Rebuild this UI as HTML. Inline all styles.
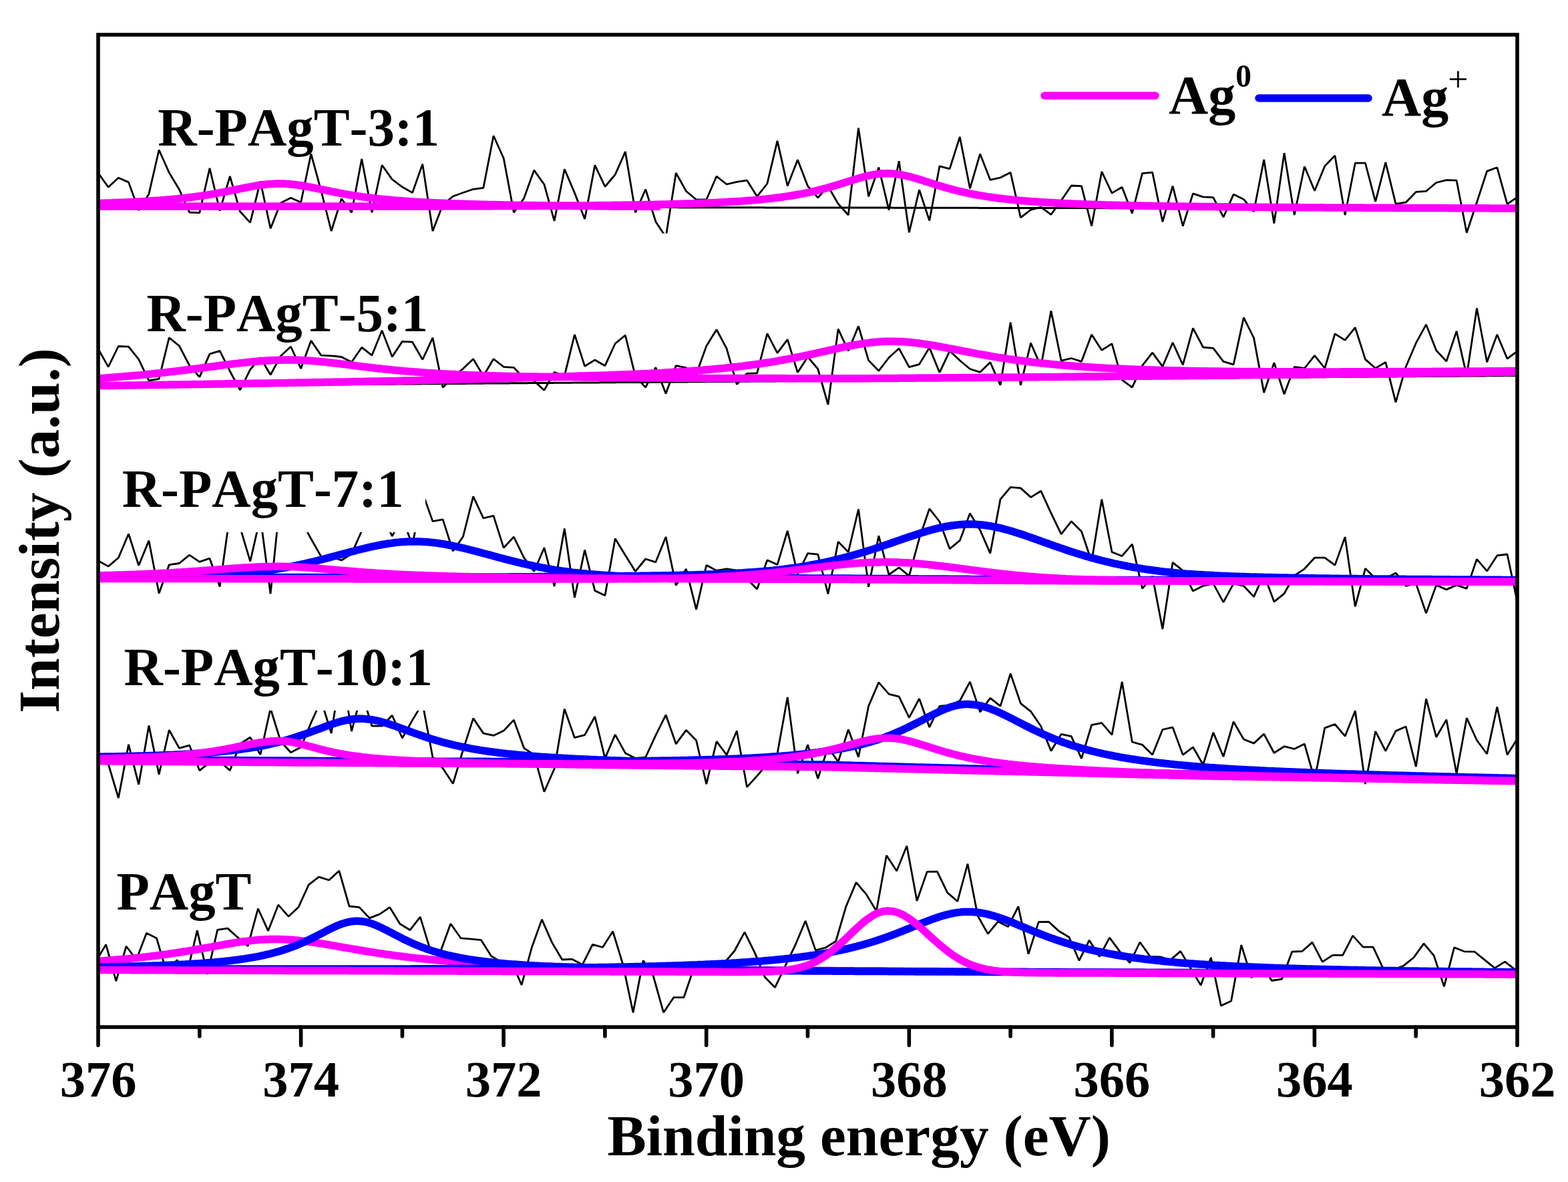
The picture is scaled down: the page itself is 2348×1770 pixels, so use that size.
<!DOCTYPE html>
<html><head><meta charset="utf-8"><title>XPS Ag 3d</title>
<style>html,body{margin:0;padding:0;background:#fff;width:2348px;height:1770px;overflow:hidden}svg{display:block}</style>
</head><body>
<svg width="2348" height="1770" viewBox="0 0 2348 1770">
<rect x="0" y="0" width="2348" height="1770" fill="#fff"/>
<defs><clipPath id="pc"><rect x="147" y="52" width="2125" height="1486"/></clipPath></defs>
<g clip-path="url(#pc)">
<clipPath id="c1"><rect x="147" y="52" width="2125" height="297.6"/></clipPath>
<path d="M147.00,259.0 162.18,280.3 177.36,266.3 192.54,272.9 207.72,315.0 222.90,290.6 238.08,224.5 253.26,258.5 268.44,283.8 283.62,318.0 298.80,318.7 313.98,251.9 329.16,315.7 344.34,264.0 359.52,316.7 374.70,333.4 389.88,271.4 405.06,342.3 420.24,304.0 435.42,296.2 450.60,303.0 465.78,230.4 480.96,286.0 496.14,346.0 511.32,297.5 526.50,318.2 541.68,238.0 556.86,318.2 572.04,247.3 587.22,268.6 602.40,280.0 617.58,288.6 632.76,245.6 647.94,346.0 663.12,306.6 678.30,294.0 693.48,288.5 708.66,283.3 723.84,281.3 739.02,203.3 754.20,237.0 769.38,318.2 784.56,297.0 799.74,254.9 814.92,276.2 830.10,330.9 845.28,253.2 860.46,288.9 875.64,327.9 890.82,247.3 906.00,279.5 921.18,261.5 936.36,227.1 951.54,318.2 966.72,283.5 981.90,331.9 997.08,355.0 1012.26,259.0 1027.44,286.3 1042.62,299.0 1057.80,299.0 1072.98,264.0 1088.16,276.0 1103.34,272.4 1118.52,270.1 1133.70,294.2 1148.88,275.0 1164.06,210.9 1179.24,278.5 1194.42,239.2 1209.60,278.7 1224.78,296.0 1239.96,279.0 1255.14,305.3 1270.32,322.0 1285.50,191.6 1300.68,294.2 1315.86,250.6 1331.04,314.4 1346.22,241.3 1361.40,348.1 1376.58,284.3 1391.76,330.4 1406.94,248.8 1422.12,252.9 1437.30,205.0 1452.48,282.3 1467.66,230.4 1482.84,269.4 1498.02,266.0 1513.20,258.2 1528.38,325.8 1543.56,314.2 1558.74,310.1 1573.92,321.3 1589.10,300.3 1604.28,278.0 1619.46,278.7 1634.64,338.5 1649.82,257.0 1665.00,289.1 1680.18,280.2 1695.36,319.5 1710.54,259.7 1725.72,258.2 1740.90,332.2 1756.08,278.5 1771.26,338.5 1786.44,289.9 1801.62,294.8 1816.80,295.6 1831.98,325.2 1847.16,291.1 1862.34,298.5 1877.52,316.8 1892.70,239.0 1907.88,334.5 1923.06,229.1 1938.24,321.9 1953.42,249.2 1968.60,285.8 1983.78,248.7 1998.96,233.1 2014.14,321.9 2029.32,244.2 2044.50,244.2 2059.68,302.0 2074.86,243.0 2090.04,305.3 2105.22,303.0 2120.40,287.4 2135.58,286.3 2150.76,273.5 2165.94,269.6 2181.12,270.2 2196.30,348.5 2211.48,303.0 2226.66,256.4 2241.84,250.8 2257.02,305.7 2272.20,295.2" clip-path="url(#c1)" fill="none" stroke="#000" stroke-width="2.8" stroke-linejoin="bevel"/>
<path d="M147.00,522.5 162.18,549.4 177.36,518.5 192.54,519.2 207.72,538.2 222.90,570.0 238.08,567.3 253.26,505.6 268.44,518.0 283.62,547.1 298.80,564.6 313.98,530.1 329.16,525.3 344.34,556.0 359.52,584.0 374.70,553.4 389.88,535.4 405.06,561.3 420.24,533.2 435.42,519.0 450.60,551.9 465.78,510.1 480.96,532.2 496.14,532.9 511.32,534.4 526.50,542.3 541.68,520.2 556.86,532.2 572.04,494.9 587.22,534.2 602.40,511.4 617.58,512.2 632.76,538.5 647.94,505.8 663.12,580.3 678.30,564.8 693.48,552.0 708.66,537.5 723.84,563.0 739.02,537.5 754.20,549.4 769.38,550.4 784.56,566.4 799.74,570.2 814.92,584.4 830.10,557.3 845.28,562.9 860.46,501.0 875.64,548.4 890.82,539.0 906.00,547.7 921.18,514.5 936.36,502.0 951.54,563.9 966.72,580.1 981.90,550.2 997.08,589.4 1012.26,547.6 1027.44,550.7 1042.62,560.3 1057.80,518.3 1072.98,493.5 1088.16,522.1 1103.34,575.5 1118.52,559.3 1133.70,558.8 1148.88,499.5 1164.06,528.7 1179.24,508.4 1194.42,557.8 1209.60,534.5 1224.78,552.5 1239.96,605.9 1255.14,492.7 1270.32,525.4 1285.50,488.4 1300.68,539.8 1315.86,555.3 1331.04,535.5 1346.22,521.8 1361.40,549.7 1376.58,545.6 1391.76,520.6 1406.94,557.8 1422.12,525.6 1437.30,539.8 1452.48,552.5 1467.66,557.3 1482.84,542.6 1498.02,576.8 1513.20,482.6 1528.38,576.8 1543.56,513.7 1558.74,548.9 1573.92,465.6 1589.10,540.1 1604.28,536.5 1619.46,541.3 1634.64,501.0 1649.82,524.4 1665.00,514.7 1680.18,568.9 1695.36,580.1 1710.54,547.4 1725.72,528.2 1740.90,548.9 1756.08,513.0 1771.26,546.4 1786.44,491.4 1801.62,520.0 1816.80,521.4 1831.98,541.4 1847.16,545.9 1862.34,475.5 1877.52,506.0 1892.70,588.0 1907.88,543.1 1923.06,590.2 1938.24,549.5 1953.42,551.5 1968.60,532.4 1983.78,551.5 1998.96,499.9 2014.14,509.4 2029.32,490.3 2044.50,538.1 2059.68,551.5 2074.86,542.4 2090.04,602.4 2105.22,549.2 2120.40,513.7 2135.58,485.9 2150.76,524.8 2165.94,541.1 2181.12,495.9 2196.30,562.6 2211.48,461.5 2226.66,542.2 2241.84,501.0 2257.02,537.1 2272.20,525.9" fill="none" stroke="#000" stroke-width="2.8" stroke-linejoin="bevel"/>
<path d="M147.00,839.6 162.18,848.1 177.36,835.2 192.54,799.5 207.72,846.8 222.90,809.6 238.08,888.6 253.26,845.8 268.44,843.5 283.62,831.1 298.80,841.3 313.98,836.2 329.16,878.5 344.34,770.6 359.52,789.7 374.70,840.7 389.88,774.4 405.06,889.2 420.24,743.0 435.42,760.0 450.60,779.0 465.78,806.8 480.96,833.6 496.14,834.0 511.32,839.0 526.50,829.4 541.68,795.0 556.86,770.0 572.04,770.0 587.22,802.8 602.40,776.0 617.58,816.0 632.76,738.0 647.94,780.6 663.12,777.9 678.30,825.3 693.48,803.5 708.66,743.3 723.84,776.0 739.02,772.4 754.20,820.3 769.38,804.0 784.56,835.2 799.74,855.7 814.92,820.2 830.10,878.0 845.28,791.4 860.46,895.0 875.64,823.5 890.82,884.6 906.00,891.7 921.18,806.6 936.36,831.4 951.54,855.7 966.72,837.0 981.90,841.8 997.08,804.0 1012.26,876.5 1027.44,852.1 1042.62,912.7 1057.80,846.3 1072.98,854.4 1088.16,851.9 1103.34,854.2 1118.52,866.8 1133.70,882.3 1148.88,838.7 1164.06,845.6 1179.24,794.9 1194.42,859.5 1209.60,828.6 1224.78,830.1 1239.96,889.4 1255.14,811.1 1270.32,826.8 1285.50,762.5 1300.68,878.7 1315.86,802.3 1331.04,860.5 1346.22,849.9 1361.40,862.3 1376.58,806.3 1391.76,761.8 1406.94,781.0 1422.12,821.8 1437.30,809.4 1452.48,768.8 1467.66,793.7 1482.84,828.6 1498.02,747.6 1513.20,729.6 1528.38,730.9 1543.56,744.6 1558.74,735.2 1573.92,768.4 1589.10,799.8 1604.28,780.7 1619.46,795.7 1634.64,840.8 1649.82,747.8 1665.00,826.6 1680.18,832.7 1695.36,814.9 1710.54,881.3 1725.72,863.0 1740.90,942.0 1756.08,842.3 1771.26,854.4 1786.44,885.1 1801.62,877.3 1816.80,873.9 1831.98,901.8 1847.16,873.9 1862.34,877.3 1877.52,893.6 1892.70,860.1 1907.88,901.1 1923.06,888.8 1938.24,861.8 1953.42,851.8 1968.60,835.2 1983.78,835.1 1998.96,846.4 2014.14,804.1 2029.32,908.4 2044.50,851.3 2059.68,866.3 2074.86,866.2 2090.04,857.9 2105.22,877.4 2120.40,873.9 2135.58,918.4 2150.76,876.1 2165.94,882.9 2181.12,876.1 2196.30,881.4 2211.48,837.3 2226.66,855.2 2241.84,831.9 2257.02,830.0 2272.20,901.7" fill="none" stroke="#000" stroke-width="2.8" stroke-linejoin="bevel"/>
<path d="M147.00,1129.0 162.18,1144.0 177.36,1195.0 192.54,1114.8 207.72,1174.8 222.90,1086.4 238.08,1159.6 253.26,1093.3 268.44,1120.4 283.62,1116.1 298.80,1153.8 313.98,1141.6 329.16,1140.1 344.34,1153.8 359.52,1113.8 374.70,1104.2 389.88,1130.0 405.06,1061.0 420.24,1110.0 435.42,1126.7 450.60,1118.9 465.78,1082.2 480.96,1049.0 496.14,1098.1 511.32,1001.0 526.50,1095.1 541.68,1037.0 556.86,1087.2 572.04,1087.2 587.22,1071.3 602.40,1105.2 617.58,1078.4 632.76,1053.0 647.94,1134.0 663.12,1150.5 678.30,1173.6 693.48,1123.0 708.66,1075.6 723.84,1098.1 739.02,1101.4 754.20,1094.3 769.38,1078.1 784.56,1120.1 799.74,1130.3 814.92,1185.7 830.10,1151.3 845.28,1061.6 860.46,1104.7 875.64,1100.6 890.82,1073.0 906.00,1135.6 921.18,1100.1 936.36,1127.7 951.54,1135.6 966.72,1134.0 981.90,1101.1 997.08,1070.5 1012.26,1114.1 1027.44,1093.3 1042.62,1108.7 1057.80,1174.1 1072.98,1110.2 1088.16,1130.5 1103.34,1094.5 1118.52,1178.6 1133.70,1161.9 1148.88,1144.2 1164.06,1128.5 1179.24,1043.9 1194.42,1158.4 1209.60,1115.3 1224.78,1166.0 1239.96,1118.7 1255.14,1140.9 1270.32,1092.3 1285.50,1133.8 1300.68,1057.1 1315.86,1021.9 1331.04,1039.4 1346.22,1043.2 1361.40,1074.6 1376.58,1046.2 1391.76,1089.0 1406.94,1057.3 1422.12,1056.0 1437.30,1049.5 1452.48,1020.9 1467.66,1066.2 1482.84,1045.4 1498.02,1057.4 1513.20,1008.7 1528.38,1053.3 1543.56,1065.4 1558.74,1087.5 1573.92,1124.4 1589.10,1099.4 1604.28,1102.7 1619.46,1135.8 1634.64,1085.7 1649.82,1082.6 1665.00,1100.4 1680.18,1020.9 1695.36,1111.0 1710.54,1115.3 1725.72,1130.3 1740.90,1092.5 1756.08,1089.2 1771.26,1130.3 1786.44,1118.8 1801.62,1145.2 1816.80,1096.9 1831.98,1133.0 1847.16,1080.7 1862.34,1107.0 1877.52,1113.1 1892.70,1099.1 1907.88,1127.5 1923.06,1117.7 1938.24,1121.5 1953.42,1114.0 1968.60,1167.3 1983.78,1090.1 1998.96,1084.5 2014.14,1102.4 2029.32,1064.5 2044.50,1174.0 2059.68,1095.1 2074.86,1124.6 2090.04,1094.6 2105.22,1088.0 2120.40,1148.1 2135.58,1046.4 2150.76,1103.8 2165.94,1077.8 2181.12,1158.5 2196.30,1075.2 2211.48,1108.5 2226.66,1129.0 2241.84,1058.6 2257.02,1130.3 2272.20,1106.3" fill="none" stroke="#000" stroke-width="2.8" stroke-linejoin="bevel"/>
<path d="M143.50,1440.0 158.68,1414.4 173.86,1469.1 189.04,1417.0 204.22,1437.0 219.40,1397.2 234.58,1405.1 249.76,1457.2 264.94,1437.7 280.12,1457.2 295.30,1393.4 310.48,1459.0 325.66,1392.4 340.84,1390.1 356.02,1403.8 371.20,1416.7 386.38,1360.5 401.56,1393.9 416.74,1354.9 431.92,1372.4 447.10,1358.2 462.28,1324.8 477.46,1313.2 492.64,1318.0 507.82,1304.0 523.00,1357.0 538.18,1358.7 553.36,1374.9 568.54,1368.9 583.72,1358.7 598.90,1383.5 614.08,1392.7 629.26,1373.2 644.44,1422.8 659.62,1425.1 674.80,1383.3 689.98,1404.8 705.16,1406.1 720.34,1407.6 735.52,1431.6 750.70,1440.8 765.88,1439.7 781.06,1475.0 796.24,1419.0 811.42,1376.9 826.60,1411.4 841.78,1437.0 856.96,1436.4 872.14,1444.6 887.32,1414.4 902.50,1418.5 917.68,1394.7 932.86,1444.3 948.04,1516.2 963.22,1438.2 978.40,1462.0 993.58,1516.2 1008.76,1493.7 1023.94,1493.7 1039.12,1449.4 1054.30,1449.4 1069.48,1446.8 1084.66,1441.8 1099.84,1424.0 1115.02,1395.9 1130.20,1426.6 1145.38,1463.3 1160.56,1478.7 1175.74,1446.8 1190.92,1415.2 1206.10,1379.0 1221.28,1423.0 1236.46,1419.0 1251.64,1409.5 1266.82,1357.6 1282.00,1321.4 1297.18,1339.1 1312.36,1364.2 1327.54,1280.9 1342.72,1304.2 1357.90,1266.7 1373.08,1349.0 1388.26,1305.4 1403.44,1305.2 1418.62,1336.6 1433.80,1349.8 1448.98,1293.5 1464.16,1371.5 1479.34,1398.4 1494.52,1380.1 1509.70,1387.7 1524.88,1357.3 1540.06,1428.7 1555.24,1380.6 1570.42,1380.4 1585.60,1394.3 1600.78,1403.2 1615.96,1438.4 1631.14,1408.0 1646.32,1432.5 1661.50,1404.2 1676.68,1424.7 1691.86,1441.9 1707.04,1411.0 1722.22,1432.3 1737.40,1432.8 1752.58,1437.6 1767.76,1424.4 1782.94,1450.0 1798.12,1475.4 1813.30,1433.9 1828.48,1506.1 1843.66,1498.9 1858.84,1415.1 1874.02,1464.0 1889.20,1444.6 1904.38,1468.5 1919.56,1466.2 1934.74,1425.2 1949.92,1424.5 1965.10,1411.1 1980.28,1440.3 1995.46,1430.3 2010.64,1430.3 2025.82,1401.1 2041.00,1418.1 2056.18,1418.1 2071.36,1450.6 2086.54,1451.9 2101.72,1446.2 2116.90,1434.0 2132.08,1412.9 2147.26,1431.1 2162.44,1477.3 2177.62,1418.9 2192.80,1424.8 2207.98,1425.1 2223.16,1437.4 2238.34,1449.6 2253.52,1440.1 2268.70,1451.8" fill="none" stroke="#000" stroke-width="2.8" stroke-linejoin="bevel"/>
<rect x="149" y="640" width="488" height="157" fill="#fff"/>
<rect x="149" y="905" width="531" height="159" fill="#fff"/>
<path d="M146.0,309.3 149.0,309.3 152.0,309.3 155.0,309.3 158.0,309.3 161.0,309.3 164.0,309.3 167.0,309.3 170.0,309.3 173.0,309.3 176.0,309.3 179.0,309.4 182.0,309.4 185.0,309.4 188.0,309.4 191.0,309.4 194.0,309.4 197.0,309.4 200.1,309.4 203.1,309.4 206.1,309.4 209.1,309.4 212.1,309.4 215.1,309.4 218.1,309.4 221.1,309.4 224.1,309.4 227.1,309.4 230.1,309.4 233.1,309.4 236.1,309.4 239.1,309.4 242.1,309.4 245.1,309.5 248.1,309.5 251.1,309.5 254.1,309.5 257.1,309.5 260.1,309.5 263.1,309.5 266.1,309.5 269.1,309.5 272.1,309.5 275.1,309.5 278.1,309.5 281.1,309.5 284.1,309.5 287.1,309.5 290.1,309.5 293.1,309.5 296.1,309.5 299.1,309.5 302.1,309.5 305.1,309.5 308.2,309.6 311.2,309.6 314.2,309.6 317.2,309.6 320.2,309.6 323.2,309.6 326.2,309.6 329.2,309.6 332.2,309.6 335.2,309.6 338.2,309.6 341.2,309.6 344.2,309.6 347.2,309.6 350.2,309.6 353.2,309.6 356.2,309.6 359.2,309.6 362.2,309.6 365.2,309.6 368.2,309.6 371.2,309.6 374.2,309.7 377.2,309.7 380.2,309.7 383.2,309.7 386.2,309.7 389.2,309.7 392.2,309.7 395.2,309.7 398.2,309.7 401.2,309.7 404.2,309.7 407.2,309.7 410.2,309.7 413.3,309.7 416.3,309.7 419.3,309.7 422.3,309.7 425.3,309.7 428.3,309.7 431.3,309.7 434.3,309.7 437.3,309.8 440.3,309.8 443.3,309.8 446.3,309.8 449.3,309.8 452.3,309.8 455.3,309.8 458.3,309.8 461.3,309.8 464.3,309.8 467.3,309.8 470.3,309.8 473.3,309.8 476.3,309.8 479.3,309.8 482.3,309.8 485.3,309.8 488.3,309.8 491.3,309.8 494.3,309.8 497.3,309.8 500.3,309.9 503.3,309.9 506.3,309.9 509.3,309.9 512.3,309.9 515.3,309.9 518.4,309.9 521.4,309.9 524.4,309.9 527.4,309.9 530.4,309.9 533.4,309.9 536.4,309.9 539.4,309.9 542.4,309.9 545.4,309.9 548.4,309.9 551.4,309.9 554.4,309.9 557.4,309.9 560.4,309.9 563.4,309.9 566.4,310.0 569.4,310.0 572.4,310.0 575.4,310.0 578.4,310.0 581.4,310.0 584.4,310.0 587.4,310.0 590.4,310.0 593.4,310.0 596.4,310.0 599.4,310.0 602.4,310.0 605.4,310.0 608.4,310.0 611.4,310.0 614.4,310.0 617.4,310.0 620.4,310.0 623.4,310.0 626.5,310.0 629.5,310.1 632.5,310.1 635.5,310.1 638.5,310.1 641.5,310.1 644.5,310.1 647.5,310.1 650.5,310.1 653.5,310.1 656.5,310.1 659.5,310.1 662.5,310.1 665.5,310.1 668.5,310.1 671.5,310.1 674.5,310.1 677.5,310.1 680.5,310.1 683.5,310.1 686.5,310.1 689.5,310.1 692.5,310.1 695.5,310.2 698.5,310.2 701.5,310.2 704.5,310.2 707.5,310.2 710.5,310.2 713.5,310.2 716.5,310.2 719.5,310.2 722.5,310.2 725.5,310.2 728.5,310.2 731.6,310.2 734.6,310.2 737.6,310.2 740.6,310.2 743.6,310.2 746.6,310.2 749.6,310.2 752.6,310.2 755.6,310.2 758.6,310.3 761.6,310.3 764.6,310.3 767.6,310.3 770.6,310.3 773.6,310.3 776.6,310.3 779.6,310.3 782.6,310.3 785.6,310.3 788.6,310.3 791.6,310.3 794.6,310.3 797.6,310.3 800.6,310.3 803.6,310.3 806.6,310.3 809.6,310.3 812.6,310.3 815.6,310.3 818.6,310.3 821.6,310.3 824.6,310.4 827.6,310.4 830.6,310.4 833.6,310.4 836.6,310.4 839.7,310.4 842.7,310.4 845.7,310.4 848.7,310.4 851.7,310.4 854.7,310.4 857.7,310.4 860.7,310.4 863.7,310.4 866.7,310.4 869.7,310.4 872.7,310.4 875.7,310.4 878.7,310.4 881.7,310.4 884.7,310.4 887.7,310.5 890.7,310.5 893.7,310.5 896.7,310.5 899.7,310.5 902.7,310.5 905.7,310.5 908.7,310.5 911.7,310.5 914.7,310.5 917.7,310.5 920.7,310.5 923.7,310.5 926.7,310.5 929.7,310.5 932.7,310.5 935.7,310.5 938.7,310.5 941.7,310.5 944.8,310.5 947.8,310.5 950.8,310.5 953.8,310.6 956.8,310.6 959.8,310.6 962.8,310.6 965.8,310.6 968.8,310.6 971.8,310.6 974.8,310.6 977.8,310.6 980.8,310.6 983.8,310.6 986.8,310.6 989.8,310.6 992.8,310.6 995.8,310.6 998.8,310.6 1001.8,310.6 1004.8,310.6 1007.8,310.6 1010.8,310.6 1013.8,310.6 1016.8,310.7 1019.8,310.7 1022.8,310.7 1025.8,310.7 1028.8,310.7 1031.8,310.7 1034.8,310.7 1037.8,310.7 1040.8,310.7 1043.8,310.7 1046.8,310.7 1049.9,310.7 1052.9,310.7 1055.9,310.7 1058.9,310.7 1061.9,310.7 1064.9,310.7 1067.9,310.7 1070.9,310.7 1073.9,310.7 1076.9,310.7 1079.9,310.7 1082.9,310.8 1085.9,310.8 1088.9,310.8 1091.9,310.8 1094.9,310.8 1097.9,310.8 1100.9,310.8 1103.9,310.8 1106.9,310.8 1109.9,310.8 1112.9,310.8 1115.9,310.8 1118.9,310.8 1121.9,310.8 1124.9,310.8 1127.9,310.8 1130.9,310.8 1133.9,310.8 1136.9,310.8 1139.9,310.8 1142.9,310.8 1145.9,310.9 1148.9,310.9 1151.9,310.9 1154.9,310.9 1158.0,310.9 1161.0,310.9 1164.0,310.9 1167.0,310.9 1170.0,310.9 1173.0,310.9 1176.0,310.9 1179.0,310.9 1182.0,310.9 1185.0,310.9 1188.0,310.9 1191.0,310.9 1194.0,310.9 1197.0,310.9 1200.0,310.9 1203.0,310.9 1206.0,310.9 1209.0,311.0 1212.0,311.0 1215.0,311.0 1218.0,311.0 1221.0,311.0 1224.0,311.0 1227.0,311.0 1230.0,311.0 1233.0,311.0 1236.0,311.0 1239.0,311.0 1242.0,311.0 1245.0,311.0 1248.0,311.0 1251.0,311.0 1254.0,311.0 1257.0,311.0 1260.0,311.0 1263.1,311.0 1266.1,311.0 1269.1,311.0 1272.1,311.0 1275.1,311.1 1278.1,311.1 1281.1,311.1 1284.1,311.1 1287.1,311.1 1290.1,311.1 1293.1,311.1 1296.1,311.1 1299.1,311.1 1302.1,311.1 1305.1,311.1 1308.1,311.1 1311.1,311.1 1314.1,311.1 1317.1,311.1 1320.1,311.1 1323.1,311.1 1326.1,311.1 1329.1,311.1 1332.1,311.1 1335.1,311.1 1338.1,311.2 1341.1,311.2 1344.1,311.2 1347.1,311.2 1350.1,311.2 1353.1,311.2 1356.1,311.2 1359.1,311.2 1362.1,311.2 1365.1,311.2 1368.1,311.2 1371.2,311.2 1374.2,311.2 1377.2,311.2 1380.2,311.2 1383.2,311.2 1386.2,311.2 1389.2,311.2 1392.2,311.2 1395.2,311.2 1398.2,311.2 1401.2,311.2 1404.2,311.3 1407.2,311.3 1410.2,311.3 1413.2,311.3 1416.2,311.3 1419.2,311.3 1422.2,311.3 1425.2,311.3 1428.2,311.3 1431.2,311.3 1434.2,311.3 1437.2,311.3 1440.2,311.3 1443.2,311.3 1446.2,311.3 1449.2,311.3 1452.2,311.3 1455.2,311.3 1458.2,311.3 1461.2,311.3 1464.2,311.3 1467.2,311.4 1470.2,311.4 1473.2,311.4 1476.3,311.4 1479.3,311.4 1482.3,311.4 1485.3,311.4 1488.3,311.4 1491.3,311.4 1494.3,311.4 1497.3,311.4 1500.3,311.4 1503.3,311.4 1506.3,311.4 1509.3,311.4 1512.3,311.4 1515.3,311.4 1518.3,311.4 1521.3,311.4 1524.3,311.4 1527.3,311.4 1530.3,311.4 1533.3,311.5 1536.3,311.5 1539.3,311.5 1542.3,311.5 1545.3,311.5 1548.3,311.5 1551.3,311.5 1554.3,311.5 1557.3,311.5 1560.3,311.5 1563.3,311.5 1566.3,311.5 1569.3,311.5 1572.3,311.5 1575.3,311.5 1578.3,311.5 1581.4,311.5 1584.4,311.5 1587.4,311.5 1590.4,311.5 1593.4,311.5 1596.4,311.6 1599.4,311.6 1602.4,311.6 1605.4,311.6 1608.4,311.6 1611.4,311.6 1614.4,311.6 1617.4,311.6 1620.4,311.6 1623.4,311.6 1626.4,311.6 1629.4,311.6 1632.4,311.6 1635.4,311.6 1638.4,311.6 1641.4,311.6 1644.4,311.6 1647.4,311.6 1650.4,311.6 1653.4,311.6 1656.4,311.6 1659.4,311.6 1662.4,311.7 1665.4,311.7 1668.4,311.7 1671.4,311.7 1674.4,311.7 1677.4,311.7 1680.4,311.7 1683.4,311.7 1686.4,311.7 1689.5,311.7 1692.5,311.7 1695.5,311.7 1698.5,311.7 1701.5,311.7 1704.5,311.7 1707.5,311.7 1710.5,311.7 1713.5,311.7 1716.5,311.7 1719.5,311.7 1722.5,311.7 1725.5,311.8 1728.5,311.8 1731.5,311.8 1734.5,311.8 1737.5,311.8 1740.5,311.8 1743.5,311.8 1746.5,311.8 1749.5,311.8 1752.5,311.8 1755.5,311.8 1758.5,311.8 1761.5,311.8 1764.5,311.8 1767.5,311.8 1770.5,311.8 1773.5,311.8 1776.5,311.8 1779.5,311.8 1782.5,311.8 1785.5,311.8 1788.5,311.8 1791.5,311.9 1794.6,311.9 1797.6,311.9 1800.6,311.9 1803.6,311.9 1806.6,311.9 1809.6,311.9 1812.6,311.9 1815.6,311.9 1818.6,311.9 1821.6,311.9 1824.6,311.9 1827.6,311.9 1830.6,311.9 1833.6,311.9 1836.6,311.9 1839.6,311.9 1842.6,311.9 1845.6,311.9 1848.6,311.9 1851.6,311.9 1854.6,312.0 1857.6,312.0 1860.6,312.0 1863.6,312.0 1866.6,312.0 1869.6,312.0 1872.6,312.0 1875.6,312.0 1878.6,312.0 1881.6,312.0 1884.6,312.0 1887.6,312.0 1890.6,312.0 1893.6,312.0 1896.6,312.0 1899.6,312.0 1902.7,312.0 1905.7,312.0 1908.7,312.0 1911.7,312.0 1914.7,312.0 1917.7,312.1 1920.7,312.1 1923.7,312.1 1926.7,312.1 1929.7,312.1 1932.7,312.1 1935.7,312.1 1938.7,312.1 1941.7,312.1 1944.7,312.1 1947.7,312.1 1950.7,312.1 1953.7,312.1 1956.7,312.1 1959.7,312.1 1962.7,312.1 1965.7,312.1 1968.7,312.1 1971.7,312.1 1974.7,312.1 1977.7,312.1 1980.7,312.1 1983.7,312.2 1986.7,312.2 1989.7,312.2 1992.7,312.2 1995.7,312.2 1998.7,312.2 2001.7,312.2 2004.7,312.2 2007.8,312.2 2010.8,312.2 2013.8,312.2 2016.8,312.2 2019.8,312.2 2022.8,312.2 2025.8,312.2 2028.8,312.2 2031.8,312.2 2034.8,312.2 2037.8,312.2 2040.8,312.2 2043.8,312.2 2046.8,312.3 2049.8,312.3 2052.8,312.3 2055.8,312.3 2058.8,312.3 2061.8,312.3 2064.8,312.3 2067.8,312.3 2070.8,312.3 2073.8,312.3 2076.8,312.3 2079.8,312.3 2082.8,312.3 2085.8,312.3 2088.8,312.3 2091.8,312.3 2094.8,312.3 2097.8,312.3 2100.8,312.3 2103.8,312.3 2106.8,312.3 2109.8,312.3 2112.9,312.4 2115.9,312.4 2118.9,312.4 2121.9,312.4 2124.9,312.4 2127.9,312.4 2130.9,312.4 2133.9,312.4 2136.9,312.4 2139.9,312.4 2142.9,312.4 2145.9,312.4 2148.9,312.4 2151.9,312.4 2154.9,312.4 2157.9,312.4 2160.9,312.4 2163.9,312.4 2166.9,312.4 2169.9,312.4 2172.9,312.4 2175.9,312.5 2178.9,312.5 2181.9,312.5 2184.9,312.5 2187.9,312.5 2190.9,312.5 2193.9,312.5 2196.9,312.5 2199.9,312.5 2202.9,312.5 2205.9,312.5 2208.9,312.5 2211.9,312.5 2214.9,312.5 2217.9,312.5 2221.0,312.5 2224.0,312.5 2227.0,312.5 2230.0,312.5 2233.0,312.5 2236.0,312.5 2239.0,312.5 2242.0,312.6 2245.0,312.6 2248.0,312.6 2251.0,312.6 2254.0,312.6 2257.0,312.6 2260.0,312.6 2263.0,312.6 2266.0,312.6 2269.0,312.6 2272.0,312.6" fill="none" stroke="#000" stroke-width="3" stroke-linejoin="round"/>
<path d="M146.0,304.4 149.0,304.3 152.0,304.3 155.0,304.2 158.0,304.1 161.0,304.0 164.0,303.9 167.0,303.8 170.0,303.6 173.0,303.5 176.0,303.4 179.0,303.3 182.0,303.2 185.0,303.1 188.0,302.9 191.0,302.8 194.0,302.7 197.0,302.5 200.0,302.4 203.0,302.2 206.0,302.1 209.0,301.9 212.0,301.7 215.0,301.6 218.0,301.4 221.0,301.2 224.0,301.0 227.0,300.8 230.0,300.6 233.0,300.4 236.0,300.2 239.0,300.0 242.0,299.7 245.0,299.5 248.0,299.3 251.0,299.0 254.0,298.7 257.0,298.5 260.0,298.2 263.0,297.9 266.0,297.6 269.0,297.3 272.0,297.0 275.0,296.6 278.0,296.3 281.0,296.0 284.0,295.6 287.0,295.2 290.0,294.8 293.0,294.4 296.0,294.0 299.0,293.6 302.0,293.2 305.0,292.7 308.0,292.3 311.0,291.8 314.0,291.3 317.0,290.8 320.0,290.3 323.0,289.8 326.0,289.2 329.0,288.7 332.0,288.1 335.0,287.6 338.0,287.0 341.0,286.4 344.0,285.8 347.0,285.2 350.0,284.6 353.0,284.0 356.0,283.4 359.0,282.8 362.0,282.2 365.0,281.6 368.0,281.0 371.0,280.4 374.0,279.8 377.0,279.3 380.0,278.7 383.0,278.2 386.0,277.7 389.0,277.3 392.0,276.9 395.0,276.5 398.0,276.1 401.0,275.8 404.0,275.6 407.0,275.4 410.0,275.2 413.0,275.1 416.0,275.0 419.0,275.0 422.0,275.0 425.0,275.1 428.0,275.3 431.0,275.5 434.0,275.7 437.0,276.0 440.0,276.3 443.0,276.7 446.0,277.1 449.0,277.5 452.0,278.0 455.0,278.5 458.0,279.0 461.0,279.6 464.0,280.1 467.0,280.7 470.0,281.3 473.0,281.9 476.0,282.5 479.0,283.2 482.0,283.8 485.0,284.4 488.0,285.0 491.0,285.6 494.0,286.2 497.0,286.8 500.0,287.4 503.0,288.0 506.0,288.6 509.0,289.2 512.0,289.7 515.0,290.3 518.0,290.8 521.0,291.3 524.0,291.8 527.0,292.3 530.0,292.8 533.0,293.2 536.0,293.7 539.0,294.1 542.0,294.6 545.0,295.0 548.0,295.4 551.0,295.8 554.0,296.1 557.0,296.5 560.0,296.9 563.0,297.2 566.0,297.5 569.0,297.9 572.0,298.2 575.0,298.5 578.0,298.8 581.0,299.1 584.0,299.3 587.0,299.6 590.0,299.9 593.0,300.1 596.0,300.4 599.0,300.6 602.0,300.8 605.0,301.1 608.0,301.3 611.0,301.5 614.0,301.7 617.0,301.9 620.0,302.1 623.0,302.2 626.0,302.4 629.0,302.6 632.0,302.8 635.0,302.9 638.0,303.1 641.0,303.2 644.0,303.4 647.0,303.5 650.0,303.7 653.0,303.8 656.0,304.0 659.0,304.1 662.0,304.2 665.0,304.3 668.0,304.5 671.0,304.6 674.0,304.7 677.0,304.8 680.0,304.9 683.0,305.0 686.0,305.1 689.0,305.2 692.0,305.3 695.0,305.4 698.0,305.5 701.0,305.6 704.0,305.7 707.0,305.8 710.0,305.8 713.0,305.9 716.0,306.0 719.0,306.1 722.0,306.2 725.0,306.2 728.0,306.3 731.0,306.4 734.0,306.4 737.0,306.5 740.0,306.6 743.0,306.6 746.0,306.7 749.0,306.8 752.0,306.8 755.0,306.9 758.0,307.0 761.0,307.0 764.0,307.1 767.0,307.1 770.0,307.2 773.0,307.2 776.0,307.3 779.0,307.3 782.0,307.4 785.0,307.4 788.0,307.5 791.0,307.5 794.0,307.6 797.0,307.6 800.0,307.6 803.0,307.7 806.0,307.7 809.0,307.8 812.0,307.8 815.0,307.9 818.0,307.9 821.0,307.9 824.0,308.0 827.0,308.0 830.0,308.0 833.0,308.1 836.0,308.1 839.0,308.2 842.0,308.2 845.0,308.2 848.0,308.3 851.0,308.3 854.0,308.3 857.0,308.3 860.0,308.4 863.0,308.4 866.0,308.4 869.0,308.5 872.0,308.5 875.0,308.5 878.0,308.6 881.0,308.6 884.0,308.6 887.0,308.6 890.0,308.7 893.0,308.7 896.0,308.7 899.0,308.7 902.0,308.8 905.0,308.8 908.0,308.8 911.0,308.8 914.0,308.9 917.0,308.9 920.0,308.9 923.0,308.9 926.0,309.0 929.0,309.0 932.0,309.0 935.0,309.0 938.0,309.0 941.0,309.1 944.0,309.1 947.0,309.1 950.0,309.1 953.0,309.1 956.0,309.2 959.0,309.2 962.0,309.2 965.0,309.2 968.0,309.2 971.0,309.3 974.0,309.3 977.0,309.3 980.0,309.3 983.0,309.3 986.0,309.3 989.0,309.4" fill="none" stroke="#ff00ff" stroke-width="11.5" stroke-linejoin="round"/>
<path d="M146.0,308.9 149.0,308.9 152.0,308.9 155.0,308.9 158.0,308.9 161.0,308.9 164.0,308.9 167.0,308.9 170.0,308.9 173.0,308.9 176.0,308.9 179.0,308.9 182.0,308.9 185.0,308.9 188.0,308.9 191.0,308.9 194.0,308.9 197.0,308.9 200.1,308.9 203.1,308.9 206.1,308.9 209.1,308.9 212.1,309.0 215.1,309.0 218.1,309.0 221.1,309.0 224.1,309.0 227.1,309.0 230.1,309.0 233.1,309.0 236.1,309.0 239.1,309.0 242.1,309.0 245.1,309.0 248.1,309.0 251.1,309.0 254.1,309.0 257.1,309.0 260.1,309.0 263.1,309.0 266.1,309.0 269.1,309.0 272.1,309.0 275.1,309.0 278.1,309.0 281.1,309.0 284.1,309.0 287.1,309.0 290.1,309.0 293.1,309.0 296.1,309.0 299.1,309.0 302.1,309.0 305.1,309.0 308.2,309.0 311.2,309.0 314.2,309.0 317.2,309.0 320.2,309.0 323.2,309.0 326.2,309.0 329.2,309.0 332.2,309.0 335.2,309.0 338.2,309.0 341.2,309.0 344.2,309.0 347.2,309.0 350.2,309.0 353.2,309.0 356.2,309.0 359.2,309.0 362.2,309.0 365.2,309.0 368.2,309.0 371.2,309.0 374.2,309.0 377.2,309.0 380.2,309.0 383.2,309.0 386.2,309.0 389.2,309.0 392.2,309.0 395.2,309.0 398.2,309.0 401.2,309.0 404.2,309.0 407.2,309.0 410.2,309.0 413.3,309.0 416.3,309.0 419.3,309.0 422.3,309.0 425.3,309.0 428.3,309.0 431.3,309.0 434.3,309.0 437.3,309.0 440.3,309.0 443.3,309.0 446.3,309.0 449.3,309.0 452.3,309.0 455.3,309.0 458.3,309.0 461.3,309.0 464.3,309.0 467.3,309.0 470.3,309.0 473.3,309.0 476.3,309.0 479.3,309.0 482.3,309.0 485.3,309.0 488.3,309.0 491.3,309.0 494.3,309.0 497.3,309.0 500.3,309.0 503.3,309.0 506.3,309.0 509.3,309.0 512.3,309.0 515.3,309.0 518.4,309.0 521.4,309.0 524.4,309.0 527.4,309.0 530.4,309.0 533.4,309.0 536.4,309.0 539.4,309.0 542.4,309.0 545.4,309.0 548.4,309.0 551.4,309.0 554.4,309.0 557.4,309.0 560.4,309.0 563.4,309.0 566.4,309.0 569.4,309.0 572.4,309.0 575.4,309.0 578.4,309.0 581.4,309.0 584.4,309.0 587.4,309.0 590.4,309.0 593.4,309.0 596.4,309.0 599.4,309.0 602.4,309.0 605.4,309.0 608.4,308.9 611.4,308.9 614.4,308.9 617.4,308.9 620.4,308.9 623.4,308.9 626.5,308.9 629.5,308.9 632.5,308.9 635.5,308.9 638.5,308.9 641.5,308.9 644.5,308.9 647.5,308.9 650.5,308.9 653.5,308.9 656.5,308.9 659.5,308.9 662.5,308.9 665.5,308.8 668.5,308.8 671.5,308.8 674.5,308.8 677.5,308.8 680.5,308.8 683.5,308.8 686.5,308.8 689.5,308.8 692.5,308.8 695.5,308.8 698.5,308.8 701.5,308.8 704.5,308.8 707.5,308.7 710.5,308.7 713.5,308.7 716.5,308.7 719.5,308.7 722.5,308.7 725.5,308.7 728.5,308.7 731.6,308.7 734.6,308.7 737.6,308.6 740.6,308.6 743.6,308.6 746.6,308.6 749.6,308.6 752.6,308.6 755.6,308.6 758.6,308.6 761.6,308.6 764.6,308.5 767.6,308.5 770.6,308.5 773.6,308.5 776.6,308.5 779.6,308.5 782.6,308.5 785.6,308.4 788.6,308.4 791.6,308.4 794.6,308.4 797.6,308.4 800.6,308.4 803.6,308.3 806.6,308.3 809.6,308.3 812.6,308.3 815.6,308.3 818.6,308.3 821.6,308.2 824.6,308.2 827.6,308.2 830.6,308.2 833.6,308.2 836.6,308.1 839.7,308.1 842.7,308.1 845.7,308.1 848.7,308.0 851.7,308.0 854.7,308.0 857.7,308.0 860.7,307.9 863.7,307.9 866.7,307.9 869.7,307.9 872.7,307.8 875.7,307.8 878.7,307.8 881.7,307.8 884.7,307.7 887.7,307.7 890.7,307.7 893.7,307.6 896.7,307.6 899.7,307.6 902.7,307.5 905.7,307.5 908.7,307.5 911.7,307.4 914.7,307.4 917.7,307.3 920.7,307.3 923.7,307.3 926.7,307.2 929.7,307.2 932.7,307.1 935.7,307.1 938.7,307.1 941.7,307.0 944.8,307.0 947.8,306.9 950.8,306.9 953.8,306.8 956.8,306.8 959.8,306.7 962.8,306.7 965.8,306.6 968.8,306.5 971.8,306.5 974.8,306.4 977.8,306.4 980.8,306.3 983.8,306.2 986.8,306.2 989.8,306.1 992.8,306.0 995.8,306.0 998.8,305.9 1001.8,305.8 1004.8,305.7 1007.8,305.7 1010.8,305.6 1013.8,305.5 1016.8,305.4 1019.8,305.3 1022.8,305.2 1025.8,305.1 1028.8,305.0 1031.8,305.0 1034.8,304.9 1037.8,304.8 1040.8,304.6 1043.8,304.5 1046.8,304.4 1049.9,304.3 1052.9,304.2 1055.9,304.1 1058.9,303.9 1061.9,303.8 1064.9,303.7 1067.9,303.6 1070.9,303.4 1073.9,303.3 1076.9,303.1 1079.9,303.0 1082.9,302.8 1085.9,302.7 1088.9,302.5 1091.9,302.3 1094.9,302.1 1097.9,302.0 1100.9,301.8 1103.9,301.6 1106.9,301.4 1109.9,301.2 1112.9,300.9 1115.9,300.7 1118.9,300.5 1121.9,300.3 1124.9,300.0 1127.9,299.8 1130.9,299.5 1133.9,299.2 1136.9,299.0 1139.9,298.7 1142.9,298.4 1145.9,298.1 1148.9,297.8 1151.9,297.4 1154.9,297.1 1158.0,296.7 1161.0,296.4 1164.0,296.0 1167.0,295.6 1170.0,295.2 1173.0,294.8 1176.0,294.4 1179.0,293.9 1182.0,293.5 1185.0,293.0 1188.0,292.5 1191.0,292.0 1194.0,291.5 1197.0,290.9 1200.0,290.4 1203.0,289.8 1206.0,289.2 1209.0,288.6 1212.0,287.9 1215.0,287.3 1218.0,286.6 1221.0,285.9 1224.0,285.2 1227.0,284.4 1230.0,283.6 1233.0,282.9 1236.0,282.1 1239.0,281.2 1242.0,280.4 1245.0,279.5 1248.0,278.6 1251.0,277.7 1254.0,276.8 1257.0,275.9 1260.0,275.0 1263.1,274.0 1266.1,273.1 1269.1,272.1 1272.1,271.2 1275.1,270.2 1278.1,269.3 1281.1,268.4 1284.1,267.5 1287.1,266.6 1290.1,265.7 1293.1,264.9 1296.1,264.2 1299.1,263.4 1302.1,262.7 1305.1,262.1 1308.1,261.6 1311.1,261.1 1314.1,260.6 1317.1,260.3 1320.1,260.0 1323.1,259.8 1326.1,259.7 1329.1,259.7 1332.1,259.8 1335.1,259.9 1338.1,260.1 1341.1,260.4 1344.1,260.8 1347.1,261.3 1350.1,261.8 1353.1,262.4 1356.1,263.1 1359.1,263.8 1362.1,264.5 1365.1,265.3 1368.1,266.2 1371.2,267.0 1374.2,267.9 1377.2,268.8 1380.2,269.8 1383.2,270.7 1386.2,271.7 1389.2,272.6 1392.2,273.6 1395.2,274.6 1398.2,275.5 1401.2,276.4 1404.2,277.4 1407.2,278.3 1410.2,279.2 1413.2,280.1 1416.2,280.9 1419.2,281.8 1422.2,282.6 1425.2,283.4 1428.2,284.2 1431.2,285.0 1434.2,285.7 1437.2,286.5 1440.2,287.2 1443.2,287.8 1446.2,288.5 1449.2,289.2 1452.2,289.8 1455.2,290.4 1458.2,291.0 1461.2,291.5 1464.2,292.1 1467.2,292.6 1470.2,293.1 1473.2,293.6 1476.3,294.1 1479.3,294.6 1482.3,295.0 1485.3,295.4 1488.3,295.9 1491.3,296.3 1494.3,296.7 1497.3,297.0 1500.3,297.4 1503.3,297.8 1506.3,298.1 1509.3,298.4 1512.3,298.8 1515.3,299.1 1518.3,299.4 1521.3,299.7 1524.3,299.9 1527.3,300.2 1530.3,300.5 1533.3,300.7 1536.3,301.0 1539.3,301.2 1542.3,301.5 1545.3,301.7 1548.3,301.9 1551.3,302.1 1554.3,302.3 1557.3,302.5 1560.3,302.7 1563.3,302.9 1566.3,303.1 1569.3,303.3 1572.3,303.5 1575.3,303.6 1578.3,303.8 1581.4,304.0 1584.4,304.1 1587.4,304.3 1590.4,304.4 1593.4,304.6 1596.4,304.7 1599.4,304.8 1602.4,305.0 1605.4,305.1 1608.4,305.2 1611.4,305.3 1614.4,305.5 1617.4,305.6 1620.4,305.7 1623.4,305.8 1626.4,305.9 1629.4,306.0 1632.4,306.1 1635.4,306.2 1638.4,306.3 1641.4,306.4 1644.4,306.5 1647.4,306.6 1650.4,306.7 1653.4,306.8 1656.4,306.9 1659.4,306.9 1662.4,307.0 1665.4,307.1 1668.4,307.2 1671.4,307.3 1674.4,307.3 1677.4,307.4 1680.4,307.5 1683.4,307.5 1686.4,307.6 1689.5,307.7 1692.5,307.7 1695.5,307.8 1698.5,307.9 1701.5,307.9 1704.5,308.0 1707.5,308.1 1710.5,308.1 1713.5,308.2 1716.5,308.2 1719.5,308.3 1722.5,308.3 1725.5,308.4 1728.5,308.4 1731.5,308.5 1734.5,308.5 1737.5,308.6 1740.5,308.6 1743.5,308.7 1746.5,308.7 1749.5,308.8 1752.5,308.8 1755.5,308.9 1758.5,308.9 1761.5,309.0 1764.5,309.0 1767.5,309.0 1770.5,309.1 1773.5,309.1 1776.5,309.2 1779.5,309.2 1782.5,309.2 1785.5,309.3 1788.5,309.3 1791.5,309.3 1794.6,309.4 1797.6,309.4 1800.6,309.4 1803.6,309.5 1806.6,309.5 1809.6,309.5 1812.6,309.6 1815.6,309.6 1818.6,309.6 1821.6,309.7 1824.6,309.7 1827.6,309.7 1830.6,309.8 1833.6,309.8 1836.6,309.8 1839.6,309.8 1842.6,309.9 1845.6,309.9 1848.6,309.9 1851.6,310.0 1854.6,310.0 1857.6,310.0 1860.6,310.0 1863.6,310.1 1866.6,310.1 1869.6,310.1 1872.6,310.1 1875.6,310.2 1878.6,310.2 1881.6,310.2 1884.6,310.2 1887.6,310.3 1890.6,310.3 1893.6,310.3 1896.6,310.3 1899.6,310.3 1902.7,310.4 1905.7,310.4 1908.7,310.4 1911.7,310.4 1914.7,310.4 1917.7,310.5 1920.7,310.5 1923.7,310.5 1926.7,310.5 1929.7,310.5 1932.7,310.6 1935.7,310.6 1938.7,310.6 1941.7,310.6 1944.7,310.6 1947.7,310.7 1950.7,310.7 1953.7,310.7 1956.7,310.7 1959.7,310.7 1962.7,310.7 1965.7,310.8 1968.7,310.8 1971.7,310.8 1974.7,310.8 1977.7,310.8 1980.7,310.8 1983.7,310.9 1986.7,310.9 1989.7,310.9 1992.7,310.9 1995.7,310.9 1998.7,310.9 2001.7,311.0 2004.7,311.0 2007.8,311.0 2010.8,311.0 2013.8,311.0 2016.8,311.0 2019.8,311.0 2022.8,311.1 2025.8,311.1 2028.8,311.1 2031.8,311.1 2034.8,311.1 2037.8,311.1 2040.8,311.1 2043.8,311.2 2046.8,311.2 2049.8,311.2 2052.8,311.2 2055.8,311.2 2058.8,311.2 2061.8,311.2 2064.8,311.3 2067.8,311.3 2070.8,311.3 2073.8,311.3 2076.8,311.3 2079.8,311.3 2082.8,311.3 2085.8,311.3 2088.8,311.4 2091.8,311.4 2094.8,311.4 2097.8,311.4 2100.8,311.4 2103.8,311.4 2106.8,311.4 2109.8,311.4 2112.9,311.4 2115.9,311.5 2118.9,311.5 2121.9,311.5 2124.9,311.5 2127.9,311.5 2130.9,311.5 2133.9,311.5 2136.9,311.5 2139.9,311.5 2142.9,311.6 2145.9,311.6 2148.9,311.6 2151.9,311.6 2154.9,311.6 2157.9,311.6 2160.9,311.6 2163.9,311.6 2166.9,311.6 2169.9,311.7 2172.9,311.7 2175.9,311.7 2178.9,311.7 2181.9,311.7 2184.9,311.7 2187.9,311.7 2190.9,311.7 2193.9,311.7 2196.9,311.7 2199.9,311.8 2202.9,311.8 2205.9,311.8 2208.9,311.8 2211.9,311.8 2214.9,311.8 2217.9,311.8 2221.0,311.8 2224.0,311.8 2227.0,311.8 2230.0,311.8 2233.0,311.9 2236.0,311.9 2239.0,311.9 2242.0,311.9 2245.0,311.9 2248.0,311.9 2251.0,311.9 2254.0,311.9 2257.0,311.9 2260.0,311.9 2263.0,311.9 2266.0,312.0 2269.0,312.0 2272.0,312.0" fill="none" stroke="#ff00ff" stroke-width="11.5" stroke-linejoin="round"/>
<path d="M146.0,578.5 149.0,578.5 152.0,578.5 155.0,578.4 158.0,578.4 161.0,578.4 164.0,578.4 167.0,578.3 170.0,578.3 173.0,578.3 176.0,578.3 179.0,578.3 182.0,578.2 185.0,578.2 188.0,578.2 191.0,578.2 194.0,578.1 197.0,578.1 200.1,578.1 203.1,578.1 206.1,578.0 209.1,578.0 212.1,578.0 215.1,578.0 218.1,578.0 221.1,577.9 224.1,577.9 227.1,577.9 230.1,577.9 233.1,577.8 236.1,577.8 239.1,577.8 242.1,577.8 245.1,577.8 248.1,577.7 251.1,577.7 254.1,577.7 257.1,577.7 260.1,577.6 263.1,577.6 266.1,577.6 269.1,577.6 272.1,577.6 275.1,577.5 278.1,577.5 281.1,577.5 284.1,577.5 287.1,577.4 290.1,577.4 293.1,577.4 296.1,577.4 299.1,577.3 302.1,577.3 305.1,577.3 308.2,577.3 311.2,577.3 314.2,577.2 317.2,577.2 320.2,577.2 323.2,577.2 326.2,577.1 329.2,577.1 332.2,577.1 335.2,577.1 338.2,577.1 341.2,577.0 344.2,577.0 347.2,577.0 350.2,577.0 353.2,576.9 356.2,576.9 359.2,576.9 362.2,576.9 365.2,576.9 368.2,576.8 371.2,576.8 374.2,576.8 377.2,576.8 380.2,576.7 383.2,576.7 386.2,576.7 389.2,576.7 392.2,576.6 395.2,576.6 398.2,576.6 401.2,576.6 404.2,576.6 407.2,576.5 410.2,576.5 413.3,576.5 416.3,576.5 419.3,576.4 422.3,576.4 425.3,576.4 428.3,576.4 431.3,576.4 434.3,576.3 437.3,576.3 440.3,576.3 443.3,576.3 446.3,576.2 449.3,576.2 452.3,576.2 455.3,576.2 458.3,576.1 461.3,576.1 464.3,576.1 467.3,576.1 470.3,576.1 473.3,576.0 476.3,576.0 479.3,576.0 482.3,576.0 485.3,575.9 488.3,575.9 491.3,575.9 494.3,575.9 497.3,575.9 500.3,575.8 503.3,575.8 506.3,575.8 509.3,575.8 512.3,575.7 515.3,575.7 518.4,575.7 521.4,575.7 524.4,575.7 527.4,575.6 530.4,575.6 533.4,575.6 536.4,575.6 539.4,575.5 542.4,575.5 545.4,575.5 548.4,575.5 551.4,575.4 554.4,575.4 557.4,575.4 560.4,575.4 563.4,575.4 566.4,575.3 569.4,575.3 572.4,575.3 575.4,575.3 578.4,575.2 581.4,575.2 584.4,575.2 587.4,575.2 590.4,575.2 593.4,575.1 596.4,575.1 599.4,575.1 602.4,575.1 605.4,575.0 608.4,575.0 611.4,575.0 614.4,575.0 617.4,575.0 620.4,574.9 623.4,574.9 626.5,574.9 629.5,574.9 632.5,574.8 635.5,574.8 638.5,574.8 641.5,574.8 644.5,574.7 647.5,574.7 650.5,574.7 653.5,574.7 656.5,574.7 659.5,574.6 662.5,574.6 665.5,574.6 668.5,574.6 671.5,574.5 674.5,574.5 677.5,574.5 680.5,574.5 683.5,574.5 686.5,574.4 689.5,574.4 692.5,574.4 695.5,574.4 698.5,574.3 701.5,574.3 704.5,574.3 707.5,574.3 710.5,574.3 713.5,574.2 716.5,574.2 719.5,574.2 722.5,574.2 725.5,574.1 728.5,574.1 731.6,574.1 734.6,574.1 737.6,574.0 740.6,574.0 743.6,574.0 746.6,574.0 749.6,574.0 752.6,573.9 755.6,573.9 758.6,573.9 761.6,573.9 764.6,573.8 767.6,573.8 770.6,573.8 773.6,573.8 776.6,573.8 779.6,573.7 782.6,573.7 785.6,573.7 788.6,573.7 791.6,573.6 794.6,573.6 797.6,573.6 800.6,573.6 803.6,573.6 806.6,573.5 809.6,573.5 812.6,573.5 815.6,573.5 818.6,573.4 821.6,573.4 824.6,573.4 827.6,573.4 830.6,573.3 833.6,573.3 836.6,573.3 839.7,573.3 842.7,573.3 845.7,573.2 848.7,573.2 851.7,573.2 854.7,573.2 857.7,573.1 860.7,573.1 863.7,573.1 866.7,573.1 869.7,573.1 872.7,573.0 875.7,573.0 878.7,573.0 881.7,573.0 884.7,572.9 887.7,572.9 890.7,572.9 893.7,572.9 896.7,572.9 899.7,572.8 902.7,572.8 905.7,572.8 908.7,572.8 911.7,572.7 914.7,572.7 917.7,572.7 920.7,572.7 923.7,572.6 926.7,572.6 929.7,572.6 932.7,572.6 935.7,572.6 938.7,572.5 941.7,572.5 944.8,572.5 947.8,572.5 950.8,572.4 953.8,572.4 956.8,572.4 959.8,572.4 962.8,572.4 965.8,572.3 968.8,572.3 971.8,572.3 974.8,572.3 977.8,572.2 980.8,572.2 983.8,572.2 986.8,572.2 989.8,572.1 992.8,572.1 995.8,572.1 998.8,572.1 1001.8,572.1 1004.8,572.0 1007.8,572.0 1010.8,572.0 1013.8,572.0 1016.8,571.9 1019.8,571.9 1022.8,571.9 1025.8,571.9 1028.8,571.9 1031.8,571.8 1034.8,571.8 1037.8,571.8 1040.8,571.8 1043.8,571.7 1046.8,571.7 1049.9,571.7 1052.9,571.7 1055.9,571.7 1058.9,571.6 1061.9,571.6 1064.9,571.6 1067.9,571.6 1070.9,571.5 1073.9,571.5 1076.9,571.5 1079.9,571.5 1082.9,571.4 1085.9,571.4 1088.9,571.4 1091.9,571.4 1094.9,571.4 1097.9,571.3 1100.9,571.3 1103.9,571.3 1106.9,571.3 1109.9,571.2 1112.9,571.2 1115.9,571.2 1118.9,571.2 1121.9,571.2 1124.9,571.1 1127.9,571.1 1130.9,571.1 1133.9,571.1 1136.9,571.0 1139.9,571.0 1142.9,571.0 1145.9,571.0 1148.9,571.0 1151.9,570.9 1154.9,570.9 1158.0,570.9 1161.0,570.9 1164.0,570.8 1167.0,570.8 1170.0,570.8 1173.0,570.8 1176.0,570.7 1179.0,570.7 1182.0,570.7 1185.0,570.7 1188.0,570.7 1191.0,570.6 1194.0,570.6 1197.0,570.6 1200.0,570.6 1203.0,570.5 1206.0,570.5 1209.0,570.5 1212.0,570.5 1215.0,570.5 1218.0,570.4 1221.0,570.4 1224.0,570.4 1227.0,570.4 1230.0,570.3 1233.0,570.3 1236.0,570.3 1239.0,570.3 1242.0,570.3 1245.0,570.2 1248.0,570.2 1251.0,570.2 1254.0,570.2 1257.0,570.1 1260.0,570.1 1263.1,570.1 1266.1,570.1 1269.1,570.0 1272.1,570.0 1275.1,570.0 1278.1,570.0 1281.1,570.0 1284.1,569.9 1287.1,569.9 1290.1,569.9 1293.1,569.9 1296.1,569.8 1299.1,569.8 1302.1,569.8 1305.1,569.8 1308.1,569.8 1311.1,569.7 1314.1,569.7 1317.1,569.7 1320.1,569.7 1323.1,569.6 1326.1,569.6 1329.1,569.6 1332.1,569.6 1335.1,569.6 1338.1,569.5 1341.1,569.5 1344.1,569.5 1347.1,569.5 1350.1,569.4 1353.1,569.4 1356.1,569.4 1359.1,569.4 1362.1,569.3 1365.1,569.3 1368.1,569.3 1371.2,569.3 1374.2,569.3 1377.2,569.2 1380.2,569.2 1383.2,569.2 1386.2,569.2 1389.2,569.1 1392.2,569.1 1395.2,569.1 1398.2,569.1 1401.2,569.1 1404.2,569.0 1407.2,569.0 1410.2,569.0 1413.2,569.0 1416.2,568.9 1419.2,568.9 1422.2,568.9 1425.2,568.9 1428.2,568.9 1431.2,568.8 1434.2,568.8 1437.2,568.8 1440.2,568.8 1443.2,568.7 1446.2,568.7 1449.2,568.7 1452.2,568.7 1455.2,568.6 1458.2,568.6 1461.2,568.6 1464.2,568.6 1467.2,568.6 1470.2,568.5 1473.2,568.5 1476.3,568.5 1479.3,568.5 1482.3,568.4 1485.3,568.4 1488.3,568.4 1491.3,568.4 1494.3,568.4 1497.3,568.3 1500.3,568.3 1503.3,568.3 1506.3,568.3 1509.3,568.2 1512.3,568.2 1515.3,568.2 1518.3,568.2 1521.3,568.1 1524.3,568.1 1527.3,568.1 1530.3,568.1 1533.3,568.1 1536.3,568.0 1539.3,568.0 1542.3,568.0 1545.3,568.0 1548.3,567.9 1551.3,567.9 1554.3,567.9 1557.3,567.9 1560.3,567.9 1563.3,567.8 1566.3,567.8 1569.3,567.8 1572.3,567.8 1575.3,567.7 1578.3,567.7 1581.4,567.7 1584.4,567.7 1587.4,567.7 1590.4,567.6 1593.4,567.6 1596.4,567.6 1599.4,567.6 1602.4,567.5 1605.4,567.5 1608.4,567.5 1611.4,567.5 1614.4,567.4 1617.4,567.4 1620.4,567.4 1623.4,567.4 1626.4,567.4 1629.4,567.3 1632.4,567.3 1635.4,567.3 1638.4,567.3 1641.4,567.2 1644.4,567.2 1647.4,567.2 1650.4,567.2 1653.4,567.2 1656.4,567.1 1659.4,567.1 1662.4,567.1 1665.4,567.1 1668.4,567.0 1671.4,567.0 1674.4,567.0 1677.4,567.0 1680.4,567.0 1683.4,566.9 1686.4,566.9 1689.5,566.9 1692.5,566.9 1695.5,566.8 1698.5,566.8 1701.5,566.8 1704.5,566.8 1707.5,566.7 1710.5,566.7 1713.5,566.7 1716.5,566.7 1719.5,566.7 1722.5,566.6 1725.5,566.6 1728.5,566.6 1731.5,566.6 1734.5,566.5 1737.5,566.5 1740.5,566.5 1743.5,566.5 1746.5,566.5 1749.5,566.4 1752.5,566.4 1755.5,566.4 1758.5,566.4 1761.5,566.3 1764.5,566.3 1767.5,566.3 1770.5,566.3 1773.5,566.3 1776.5,566.2 1779.5,566.2 1782.5,566.2 1785.5,566.2 1788.5,566.1 1791.5,566.1 1794.6,566.1 1797.6,566.1 1800.6,566.0 1803.6,566.0 1806.6,566.0 1809.6,566.0 1812.6,566.0 1815.6,565.9 1818.6,565.9 1821.6,565.9 1824.6,565.9 1827.6,565.8 1830.6,565.8 1833.6,565.8 1836.6,565.8 1839.6,565.8 1842.6,565.7 1845.6,565.7 1848.6,565.7 1851.6,565.7 1854.6,565.6 1857.6,565.6 1860.6,565.6 1863.6,565.6 1866.6,565.6 1869.6,565.5 1872.6,565.5 1875.6,565.5 1878.6,565.5 1881.6,565.4 1884.6,565.4 1887.6,565.4 1890.6,565.4 1893.6,565.3 1896.6,565.3 1899.6,565.3 1902.7,565.3 1905.7,565.3 1908.7,565.2 1911.7,565.2 1914.7,565.2 1917.7,565.2 1920.7,565.1 1923.7,565.1 1926.7,565.1 1929.7,565.1 1932.7,565.1 1935.7,565.0 1938.7,565.0 1941.7,565.0 1944.7,565.0 1947.7,564.9 1950.7,564.9 1953.7,564.9 1956.7,564.9 1959.7,564.9 1962.7,564.8 1965.7,564.8 1968.7,564.8 1971.7,564.8 1974.7,564.7 1977.7,564.7 1980.7,564.7 1983.7,564.7 1986.7,564.6 1989.7,564.6 1992.7,564.6 1995.7,564.6 1998.7,564.6 2001.7,564.5 2004.7,564.5 2007.8,564.5 2010.8,564.5 2013.8,564.4 2016.8,564.4 2019.8,564.4 2022.8,564.4 2025.8,564.4 2028.8,564.3 2031.8,564.3 2034.8,564.3 2037.8,564.3 2040.8,564.2 2043.8,564.2 2046.8,564.2 2049.8,564.2 2052.8,564.1 2055.8,564.1 2058.8,564.1 2061.8,564.1 2064.8,564.1 2067.8,564.0 2070.8,564.0 2073.8,564.0 2076.8,564.0 2079.8,563.9 2082.8,563.9 2085.8,563.9 2088.8,563.9 2091.8,563.9 2094.8,563.8 2097.8,563.8 2100.8,563.8 2103.8,563.8 2106.8,563.7 2109.8,563.7 2112.9,563.7 2115.9,563.7 2118.9,563.7 2121.9,563.6 2124.9,563.6 2127.9,563.6 2130.9,563.6 2133.9,563.5 2136.9,563.5 2139.9,563.5 2142.9,563.5 2145.9,563.4 2148.9,563.4 2151.9,563.4 2154.9,563.4 2157.9,563.4 2160.9,563.3 2163.9,563.3 2166.9,563.3 2169.9,563.3 2172.9,563.2 2175.9,563.2 2178.9,563.2 2181.9,563.2 2184.9,563.2 2187.9,563.1 2190.9,563.1 2193.9,563.1 2196.9,563.1 2199.9,563.0 2202.9,563.0 2205.9,563.0 2208.9,563.0 2211.9,563.0 2214.9,562.9 2217.9,562.9 2221.0,562.9 2224.0,562.9 2227.0,562.8 2230.0,562.8 2233.0,562.8 2236.0,562.8 2239.0,562.7 2242.0,562.7 2245.0,562.7 2248.0,562.7 2251.0,562.7 2254.0,562.6 2257.0,562.6 2260.0,562.6 2263.0,562.6 2266.0,562.5 2269.0,562.5 2272.0,562.5" fill="none" stroke="#000" stroke-width="3" stroke-linejoin="round"/>
<path d="M146.0,566.8 149.0,566.6 152.0,566.4 155.0,566.2 158.0,566.0 161.0,565.7 164.0,565.5 167.0,565.3 170.0,565.0 173.0,564.8 176.0,564.6 179.0,564.3 182.0,564.1 185.0,563.8 188.0,563.6 191.0,563.3 194.0,563.0 197.0,562.8 200.1,562.5 203.1,562.2 206.1,561.9 209.1,561.7 212.1,561.4 215.1,561.1 218.1,560.8 221.1,560.5 224.1,560.2 227.1,559.9 230.1,559.6 233.1,559.3 236.1,558.9 239.1,558.6 242.1,558.3 245.1,558.0 248.1,557.6 251.1,557.3 254.1,556.9 257.1,556.6 260.1,556.2 263.1,555.9 266.1,555.5 269.1,555.2 272.1,554.8 275.1,554.4 278.1,554.0 281.1,553.7 284.1,553.3 287.1,552.9 290.1,552.5 293.1,552.1 296.1,551.7 299.1,551.4 302.1,551.0 305.1,550.6 308.2,550.2 311.2,549.8 314.2,549.4 317.2,549.0 320.2,548.6 323.2,548.2 326.2,547.8 329.2,547.4 332.2,547.0 335.2,546.6 338.2,546.3 341.2,545.9 344.2,545.5 347.2,545.1 350.2,544.8 353.2,544.4 356.2,544.1 359.2,543.7 362.2,543.4 365.2,543.1 368.2,542.7 371.2,542.4 374.2,542.1 377.2,541.8 380.2,541.6 383.2,541.3 386.2,541.0 389.2,540.8 392.2,540.6 395.2,540.3 398.2,540.1 401.2,540.0 404.2,539.8 407.2,539.6 410.2,539.5 413.3,539.4 416.3,539.3 419.3,539.2 422.3,539.1 425.3,539.0 428.3,539.0 431.3,539.0 434.3,539.0 437.3,539.0 440.3,539.0 443.3,539.1 446.3,539.2 449.3,539.3 452.3,539.4 455.3,539.6 458.3,539.8 461.3,539.9 464.3,540.1 467.3,540.4 470.3,540.6 473.3,540.9 476.3,541.1 479.3,541.4 482.3,541.7 485.3,542.0 488.3,542.3 491.3,542.7 494.3,543.0 497.3,543.3 500.3,543.7 503.3,544.0 506.3,544.4 509.3,544.8 512.3,545.1 515.3,545.5 518.4,545.9 521.4,546.3 524.4,546.6 527.4,547.0 530.4,547.4 533.4,547.8 536.4,548.1 539.4,548.5 542.4,548.9 545.4,549.2 548.4,549.6 551.4,550.0 554.4,550.3 557.4,550.7 560.4,551.0 563.4,551.4 566.4,551.7 569.4,552.0 572.4,552.4 575.4,552.7 578.4,553.0 581.4,553.3 584.4,553.6 587.4,553.9 590.4,554.2 593.4,554.5 596.4,554.8 599.4,555.1 602.4,555.4 605.4,555.6 608.4,555.9 611.4,556.1 614.4,556.4 617.4,556.6 620.4,556.9 623.4,557.1 626.5,557.3 629.5,557.6 632.5,557.8 635.5,558.0 638.5,558.2 641.5,558.4 644.5,558.6 647.5,558.8 650.5,559.0 653.5,559.2 656.5,559.4 659.5,559.5 662.5,559.7 665.5,559.9 668.5,560.0 671.5,560.2 674.5,560.3 677.5,560.5 680.5,560.6 683.5,560.8 686.5,560.9 689.5,561.0 692.5,561.2 695.5,561.3 698.5,561.4 701.5,561.6 704.5,561.7 707.5,561.8 710.5,561.9 713.5,562.0 716.5,562.1 719.5,562.2 722.5,562.3 725.5,562.4 728.5,562.5 731.6,562.6 734.6,562.7 737.6,562.8 740.6,562.8 743.6,562.9 746.6,563.0 749.6,563.1 752.6,563.2 755.6,563.2 758.6,563.3 761.6,563.4 764.6,563.4 767.6,563.5 770.6,563.6 773.6,563.6 776.6,563.7 779.6,563.7 782.6,563.8 785.6,563.8 788.6,563.9 791.6,563.9 794.6,564.0 797.6,564.0 800.6,564.1 803.6,564.1 806.6,564.2 809.6,564.2 812.6,564.2 815.6,564.3 818.6,564.3 821.6,564.3 824.6,564.4 827.6,564.4 830.6,564.4 833.6,564.5 836.6,564.5 839.7,564.5 842.7,564.5 845.7,564.6 848.7,564.6 851.7,564.6 854.7,564.6 857.7,564.6 860.7,564.7 863.7,564.7 866.7,564.8 869.7,564.8 872.7,564.9 875.7,564.9 878.7,564.9 881.7,565.0 884.7,565.0 887.7,565.1 890.7,565.1 893.7,565.1 896.7,565.2 899.7,565.2 902.7,565.2 905.7,565.3 908.7,565.3 911.7,565.4 914.7,565.4 917.7,565.4 920.7,565.4 923.7,565.5 926.7,565.5 929.7,565.5 932.7,565.6 935.7,565.6 938.7,565.6 941.7,565.7 944.8,565.7 947.8,565.7 950.8,565.7 953.8,565.8 956.8,565.8 959.8,565.8 962.8,565.8 965.8,565.9 968.8,565.9 971.8,565.9 974.8,565.9 977.8,565.9 980.8,566.0 983.8,566.0 986.8,566.0 989.8,566.0 992.8,566.0 995.8,566.1 998.8,566.1 1001.8,566.1 1004.8,566.1 1007.8,566.1 1010.8,566.2 1013.8,566.2 1016.8,566.2 1019.8,566.2 1022.8,566.2 1025.8,566.2 1028.8,566.2 1031.8,566.3 1034.8,566.3 1037.8,566.3 1040.8,566.3 1043.8,566.3 1046.8,566.3 1049.9,566.3 1052.9,566.4 1055.9,566.4 1058.9,566.4 1061.9,566.4 1064.9,566.4 1067.9,566.4 1070.9,566.4 1073.9,566.4 1076.9,566.4 1079.9,566.4 1082.9,566.5 1085.9,566.5 1088.9,566.5 1091.9,566.5 1094.9,566.5 1097.9,566.5 1100.9,566.5 1103.9,566.5 1106.9,566.5 1109.9,566.5 1112.9,566.5 1115.9,566.5 1118.9,566.6 1121.9,566.6 1124.9,566.6 1127.9,566.6 1130.9,566.6 1133.9,566.6 1136.9,566.6 1139.9,566.6 1142.9,566.6 1145.9,566.6 1148.9,566.6 1151.9,566.6 1154.9,566.6 1158.0,566.6 1161.0,566.6 1164.0,566.6 1167.0,566.6 1170.0,566.6 1173.0,566.6 1176.0,566.6 1179.0,566.7 1182.0,566.7 1185.0,566.7 1188.0,566.7 1191.0,566.7 1194.0,566.7 1197.0,566.7 1200.0,566.7 1203.0,566.7 1206.0,566.7 1209.0,566.7 1212.0,566.7 1215.0,566.7 1218.0,566.7 1221.0,566.7 1224.0,566.7 1227.0,566.7 1230.0,566.7 1233.0,566.7 1236.0,566.7 1239.0,566.7 1242.0,566.7 1245.0,566.7 1248.0,566.7 1251.0,566.7 1254.0,566.7 1257.0,566.7 1260.0,566.7 1263.1,566.7 1266.1,566.7 1269.1,566.7 1272.1,566.7 1275.1,566.7 1278.1,566.7 1281.1,566.7 1284.1,566.7 1287.1,566.7 1290.1,566.7 1293.1,566.7 1296.1,566.7 1299.1,566.7 1302.1,566.7 1305.1,566.6 1308.1,566.6 1311.1,566.6 1314.1,566.6 1317.1,566.6 1320.1,566.5 1323.1,566.5 1326.1,566.5 1329.1,566.5 1332.1,566.4 1335.1,566.4 1338.1,566.4 1341.1,566.4 1344.1,566.4 1347.1,566.3 1350.1,566.3 1353.1,566.3 1356.1,566.3 1359.1,566.2 1362.1,566.2 1365.1,566.2 1368.1,566.2 1371.2,566.2 1374.2,566.1 1377.2,566.1 1380.2,566.1 1383.2,566.1 1386.2,566.0 1389.2,566.0 1392.2,566.0 1395.2,566.0 1398.2,565.9 1401.2,565.9 1404.2,565.9 1407.2,565.9 1410.2,565.8 1413.2,565.8 1416.2,565.8 1419.2,565.8 1422.2,565.8 1425.2,565.7 1428.2,565.7 1431.2,565.7 1434.2,565.7 1437.2,565.6 1440.2,565.6 1443.2,565.6 1446.2,565.6 1449.2,565.5 1452.2,565.5 1455.2,565.5 1458.2,565.5 1461.2,565.4 1464.2,565.4 1467.2,565.4 1470.2,565.4 1473.2,565.3 1476.3,565.3 1479.3,565.3 1482.3,565.3 1485.3,565.2 1488.3,565.2 1491.3,565.2 1494.3,565.2 1497.3,565.1 1500.3,565.1 1503.3,565.1 1506.3,565.1 1509.3,565.0 1512.3,565.0 1515.3,565.0 1518.3,565.0 1521.3,564.9 1524.3,564.9 1527.3,564.9 1530.3,564.9 1533.3,564.8 1536.3,564.8 1539.3,564.8 1542.3,564.8 1545.3,564.7 1548.3,564.7 1551.3,564.7 1554.3,564.7 1557.3,564.6 1560.3,564.6 1563.3,564.6 1566.3,564.5 1569.3,564.5 1572.3,564.5 1575.3,564.5 1578.3,564.4 1581.4,564.4 1584.4,564.4 1587.4,564.4 1590.4,564.3 1593.4,564.3 1596.4,564.3 1599.4,564.3 1602.4,564.2 1605.4,564.2 1608.4,564.2 1611.4,564.2 1614.4,564.1 1617.4,564.1 1620.4,564.1 1623.4,564.0 1626.4,564.0 1629.4,564.0 1632.4,564.0 1635.4,563.9 1638.4,563.9 1641.4,563.9 1644.4,563.9 1647.4,563.8 1650.4,563.8 1653.4,563.8 1656.4,563.8 1659.4,563.7 1662.4,563.7 1665.4,563.7 1668.4,563.6 1671.4,563.6 1674.4,563.6 1677.4,563.6 1680.4,563.5 1683.4,563.5 1686.4,563.5 1689.5,563.5 1692.5,563.4 1695.5,563.4 1698.5,563.4 1701.5,563.4 1704.5,563.3 1707.5,563.3 1710.5,563.3 1713.5,563.2 1716.5,563.2 1719.5,563.2 1722.5,563.2 1725.5,563.1 1728.5,563.1 1731.5,563.1 1734.5,563.1 1737.5,563.0 1740.5,563.0 1743.5,563.0 1746.5,562.9 1749.5,562.9 1752.5,562.9 1755.5,562.9 1758.5,562.8 1761.5,562.8 1764.5,562.8 1767.5,562.8 1770.5,562.7 1773.5,562.7 1776.5,562.7 1779.5,562.6 1782.5,562.6 1785.5,562.6 1788.5,562.6 1791.5,562.5 1794.6,562.5 1797.6,562.5 1800.6,562.4 1803.6,562.4 1806.6,562.4 1809.6,562.3 1812.6,562.3 1815.6,562.3 1818.6,562.3 1821.6,562.2 1824.6,562.2 1827.6,562.2 1830.6,562.1 1833.6,562.1 1836.6,562.1 1839.6,562.0 1842.6,562.0 1845.6,562.0 1848.6,561.9 1851.6,561.9 1854.6,561.9 1857.6,561.8 1860.6,561.8 1863.6,561.8 1866.6,561.7 1869.6,561.7 1872.6,561.7 1875.6,561.6 1878.6,561.6 1881.6,561.6 1884.6,561.5 1887.6,561.5 1890.6,561.5 1893.6,561.4 1896.6,561.4 1899.6,561.4 1902.7,561.3 1905.7,561.3 1908.7,561.3 1911.7,561.2 1914.7,561.2 1917.7,561.2 1920.7,561.1 1923.7,561.1 1926.7,561.1 1929.7,561.0 1932.7,561.0 1935.7,561.0 1938.7,560.9 1941.7,560.9 1944.7,560.9 1947.7,560.8 1950.7,560.8 1953.7,560.8 1956.7,560.7 1959.7,560.7 1962.7,560.7 1965.7,560.6 1968.7,560.6 1971.7,560.6 1974.7,560.5 1977.7,560.5 1980.7,560.5 1983.7,560.4 1986.7,560.4 1989.7,560.4 1992.7,560.3 1995.7,560.3 1998.7,560.3 2001.7,560.2 2004.7,560.2 2007.8,560.2 2010.8,560.1 2013.8,560.1 2016.8,560.1 2019.8,560.0 2022.8,560.0 2025.8,560.0 2028.8,559.9 2031.8,559.9 2034.8,559.9 2037.8,559.8 2040.8,559.8 2043.8,559.8 2046.8,559.7 2049.8,559.7 2052.8,559.7 2055.8,559.6 2058.8,559.6 2061.8,559.6 2064.8,559.5 2067.8,559.5 2070.8,559.5 2073.8,559.4 2076.8,559.4 2079.8,559.4 2082.8,559.3 2085.8,559.3 2088.8,559.3 2091.8,559.2 2094.8,559.2 2097.8,559.2 2100.8,559.1 2103.8,559.1 2106.8,559.1 2109.8,559.0 2112.9,559.0 2115.9,559.0 2118.9,558.9 2121.9,558.9 2124.9,558.9 2127.9,558.8 2130.9,558.8 2133.9,558.8 2136.9,558.7 2139.9,558.7 2142.9,558.7 2145.9,558.6 2148.9,558.6 2151.9,558.6 2154.9,558.5 2157.9,558.5 2160.9,558.4 2163.9,558.4 2166.9,558.4 2169.9,558.3 2172.9,558.3 2175.9,558.3 2178.9,558.2 2181.9,558.2 2184.9,558.2 2187.9,558.1 2190.9,558.1 2193.9,558.1 2196.9,558.0 2199.9,558.0 2202.9,558.0 2205.9,557.9 2208.9,557.9 2211.9,557.9 2214.9,557.8 2217.9,557.8 2221.0,557.8 2224.0,557.7 2227.0,557.7 2230.0,557.7 2233.0,557.6 2236.0,557.6 2239.0,557.6 2242.0,557.5 2245.0,557.5 2248.0,557.5 2251.0,557.4 2254.0,557.4 2257.0,557.4 2260.0,557.3 2263.0,557.3 2266.0,557.3 2269.0,557.2 2272.0,557.2" fill="none" stroke="#ff00ff" stroke-width="11.5" stroke-linejoin="round"/>
<path d="M146.0,577.7 149.0,577.7 152.0,577.6 155.0,577.6 158.0,577.6 161.0,577.5 164.0,577.5 167.0,577.4 170.0,577.4 173.0,577.3 176.0,577.3 179.0,577.2 182.0,577.2 185.0,577.2 188.0,577.1 191.0,577.1 194.0,577.0 197.0,577.0 200.1,576.9 203.1,576.9 206.1,576.8 209.1,576.8 212.1,576.8 215.1,576.7 218.1,576.7 221.1,576.6 224.1,576.6 227.1,576.5 230.1,576.5 233.1,576.4 236.1,576.4 239.1,576.3 242.1,576.3 245.1,576.3 248.1,576.2 251.1,576.2 254.1,576.1 257.1,576.1 260.1,576.0 263.1,576.0 266.1,575.9 269.1,575.9 272.1,575.8 275.1,575.8 278.1,575.8 281.1,575.7 284.1,575.7 287.1,575.6 290.1,575.6 293.1,575.5 296.1,575.5 299.1,575.4 302.1,575.4 305.1,575.3 308.2,575.3 311.2,575.2 314.2,575.2 317.2,575.2 320.2,575.1 323.2,575.1 326.2,575.0 329.2,575.0 332.2,574.9 335.2,574.9 338.2,574.8 341.2,574.8 344.2,574.7 347.2,574.7 350.2,574.6 353.2,574.6 356.2,574.5 359.2,574.5 362.2,574.4 365.2,574.4 368.2,574.3 371.2,574.3 374.2,574.2 377.2,574.2 380.2,574.1 383.2,574.1 386.2,574.1 389.2,574.0 392.2,574.0 395.2,573.9 398.2,573.9 401.2,573.8 404.2,573.8 407.2,573.7 410.2,573.7 413.3,573.6 416.3,573.6 419.3,573.5 422.3,573.5 425.3,573.4 428.3,573.4 431.3,573.3 434.3,573.3 437.3,573.2 440.3,573.2 443.3,573.1 446.3,573.1 449.3,573.0 452.3,573.0 455.3,572.9 458.3,572.9 461.3,572.8 464.3,572.7 467.3,572.7 470.3,572.6 473.3,572.6 476.3,572.5 479.3,572.5 482.3,572.4 485.3,572.4 488.3,572.3 491.3,572.3 494.3,572.2 497.3,572.2 500.3,572.1 503.3,572.1 506.3,572.0 509.3,572.0 512.3,571.9 515.3,571.9 518.4,571.8 521.4,571.7 524.4,571.7 527.4,571.6 530.4,571.6 533.4,571.5 536.4,571.5 539.4,571.4 542.4,571.4 545.4,571.3 548.4,571.2 551.4,571.2 554.4,571.1 557.4,571.1 560.4,571.0 563.4,571.0 566.4,570.9 569.4,570.8 572.4,570.8 575.4,570.7 578.4,570.7 581.4,570.6 584.4,570.5 587.4,570.5 590.4,570.4 593.4,570.4 596.4,570.3 599.4,570.2 602.4,570.2 605.4,570.1 608.4,570.1 611.4,570.0 614.4,569.9 617.4,569.9 620.4,569.8 623.4,569.7 626.5,569.7 629.5,569.6 632.5,569.5 635.5,569.5 638.5,569.4 641.5,569.4 644.5,569.3 647.5,569.2 650.5,569.2 653.5,569.1 656.5,569.0 659.5,569.0 662.5,568.9 665.5,568.8 668.5,568.8 671.5,568.7 674.5,568.6 677.5,568.5 680.5,568.5 683.5,568.4 686.5,568.3 689.5,568.3 692.5,568.2 695.5,568.1 698.5,568.1 701.5,568.0 704.5,567.9 707.5,567.8 710.5,567.8 713.5,567.7 716.5,567.6 719.5,567.5 722.5,567.5 725.5,567.4 728.5,567.3 731.6,567.2 734.6,567.2 737.6,567.1 740.6,567.0 743.6,566.9 746.6,566.8 749.6,566.8 752.6,566.7 755.6,566.6 758.6,566.5 761.6,566.4 764.6,566.4 767.6,566.3 770.6,566.2 773.6,566.1 776.6,566.0 779.6,565.9 782.6,565.8 785.6,565.8 788.6,565.7 791.6,565.6 794.6,565.5 797.6,565.4 800.6,565.3 803.6,565.2 806.6,565.1 809.6,565.0 812.6,564.9 815.6,564.8 818.6,564.7 821.6,564.6 824.6,564.5 827.6,564.5 830.6,564.4 833.6,564.3 836.6,564.1 839.7,564.0 842.7,563.9 845.7,563.8 848.7,563.7 851.7,563.6 854.7,563.5 857.7,563.4 860.7,563.3 863.7,563.2 866.7,563.1 869.7,563.1 872.7,563.0 875.7,562.9 878.7,562.8 881.7,562.7 884.7,562.6 887.7,562.5 890.7,562.4 893.7,562.3 896.7,562.2 899.7,562.2 902.7,562.1 905.7,562.0 908.7,561.9 911.7,561.7 914.7,561.6 917.7,561.5 920.7,561.4 923.7,561.3 926.7,561.2 929.7,561.1 932.7,561.0 935.7,560.9 938.7,560.7 941.7,560.6 944.8,560.5 947.8,560.4 950.8,560.2 953.8,560.1 956.8,560.0 959.8,559.8 962.8,559.7 965.8,559.6 968.8,559.4 971.8,559.3 974.8,559.1 977.8,559.0 980.8,558.8 983.8,558.7 986.8,558.5 989.8,558.4 992.8,558.2 995.8,558.0 998.8,557.8 1001.8,557.7 1004.8,557.5 1007.8,557.3 1010.8,557.1 1013.8,556.9 1016.8,556.8 1019.8,556.6 1022.8,556.4 1025.8,556.2 1028.8,555.9 1031.8,555.7 1034.8,555.5 1037.8,555.3 1040.8,555.1 1043.8,554.9 1046.8,554.6 1049.9,554.4 1052.9,554.1 1055.9,553.9 1058.9,553.6 1061.9,553.4 1064.9,553.1 1067.9,552.8 1070.9,552.6 1073.9,552.3 1076.9,552.0 1079.9,551.7 1082.9,551.4 1085.9,551.1 1088.9,550.8 1091.9,550.5 1094.9,550.2 1097.9,549.8 1100.9,549.5 1103.9,549.2 1106.9,548.8 1109.9,548.4 1112.9,548.1 1115.9,547.7 1118.9,547.3 1121.9,546.9 1124.9,546.5 1127.9,546.1 1130.9,545.7 1133.9,545.3 1136.9,544.9 1139.9,544.4 1142.9,544.0 1145.9,543.5 1148.9,543.0 1151.9,542.6 1154.9,542.1 1158.0,541.6 1161.0,541.1 1164.0,540.6 1167.0,540.0 1170.0,539.5 1173.0,539.0 1176.0,538.4 1179.0,537.9 1182.0,537.3 1185.0,536.7 1188.0,536.1 1191.0,535.5 1194.0,534.9 1197.0,534.3 1200.0,533.7 1203.0,533.1 1206.0,532.4 1209.0,531.8 1212.0,531.1 1215.0,530.5 1218.0,529.8 1221.0,529.2 1224.0,528.5 1227.0,527.8 1230.0,527.1 1233.0,526.5 1236.0,525.8 1239.0,525.1 1242.0,524.4 1245.0,523.8 1248.0,523.1 1251.0,522.4 1254.0,521.8 1257.0,521.1 1260.0,520.5 1263.1,519.8 1266.1,519.2 1269.1,518.6 1272.1,518.0 1275.1,517.4 1278.1,516.9 1281.1,516.3 1284.1,515.8 1287.1,515.3 1290.1,514.8 1293.1,514.4 1296.1,513.9 1299.1,513.6 1302.1,513.2 1305.1,512.8 1308.1,512.5 1311.1,512.2 1314.1,512.0 1317.1,511.7 1320.1,511.6 1323.1,511.4 1326.1,511.3 1329.1,511.2 1332.1,511.2 1335.1,511.2 1338.1,511.2 1341.1,511.3 1344.1,511.4 1347.1,511.5 1350.1,511.6 1353.1,511.8 1356.1,512.0 1359.1,512.3 1362.1,512.5 1365.1,512.8 1368.1,513.1 1371.2,513.5 1374.2,513.8 1377.2,514.2 1380.2,514.6 1383.2,515.1 1386.2,515.5 1389.2,516.0 1392.2,516.4 1395.2,516.9 1398.2,517.4 1401.2,518.0 1404.2,518.5 1407.2,519.0 1410.2,519.6 1413.2,520.1 1416.2,520.7 1419.2,521.3 1422.2,521.8 1425.2,522.4 1428.2,523.0 1431.2,523.6 1434.2,524.1 1437.2,524.7 1440.2,525.3 1443.2,525.9 1446.2,526.5 1449.2,527.0 1452.2,527.6 1455.2,528.2 1458.2,528.7 1461.2,529.3 1464.2,529.9 1467.2,530.4 1470.2,531.0 1473.2,531.5 1476.3,532.0 1479.3,532.5 1482.3,533.1 1485.3,533.6 1488.3,534.1 1491.3,534.6 1494.3,535.1 1497.3,535.5 1500.3,536.0 1503.3,536.5 1506.3,536.9 1509.3,537.4 1512.3,537.8 1515.3,538.3 1518.3,538.7 1521.3,539.1 1524.3,539.5 1527.3,539.9 1530.3,540.3 1533.3,540.7 1536.3,541.1 1539.3,541.5 1542.3,541.8 1545.3,542.2 1548.3,542.5 1551.3,542.9 1554.3,543.2 1557.3,543.5 1560.3,543.9 1563.3,544.2 1566.3,544.5 1569.3,544.8 1572.3,545.1 1575.3,545.4 1578.3,545.7 1581.4,545.9 1584.4,546.2 1587.4,546.5 1590.4,546.7 1593.4,547.0 1596.4,547.2 1599.4,547.5 1602.4,547.7 1605.4,547.9 1608.4,548.2 1611.4,548.4 1614.4,548.6 1617.4,548.8 1620.4,549.0 1623.4,549.2 1626.4,549.4 1629.4,549.6 1632.4,549.8 1635.4,550.0 1638.4,550.2 1641.4,550.4 1644.4,550.5 1647.4,550.7 1650.4,550.9 1653.4,551.0 1656.4,551.2 1659.4,551.4 1662.4,551.5 1665.4,551.7 1668.4,551.8 1671.4,551.9 1674.4,552.1 1677.4,552.2 1680.4,552.3 1683.4,552.5 1686.4,552.6 1689.5,552.7 1692.5,552.9 1695.5,553.0 1698.5,553.1 1701.5,553.2 1704.5,553.3 1707.5,553.4 1710.5,553.5 1713.5,553.6 1716.5,553.7 1719.5,553.8 1722.5,553.9 1725.5,554.0 1728.5,554.1 1731.5,554.2 1734.5,554.3 1737.5,554.4 1740.5,554.4 1743.5,554.5 1746.5,554.6 1749.5,554.7 1752.5,554.8 1755.5,554.8 1758.5,554.9 1761.5,555.0 1764.5,555.0 1767.5,555.1 1770.5,555.2 1773.5,555.2 1776.5,555.3 1779.5,555.4 1782.5,555.4 1785.5,555.5 1788.5,555.5 1791.5,555.6 1794.6,555.7 1797.6,555.7 1800.6,555.8 1803.6,555.8 1806.6,555.8 1809.6,555.9 1812.6,555.9 1815.6,556.0 1818.6,556.0 1821.6,556.0 1824.6,556.1 1827.6,556.1 1830.6,556.2 1833.6,556.2 1836.6,556.2 1839.6,556.3 1842.6,556.3 1845.6,556.3 1848.6,556.3 1851.6,556.4 1854.6,556.4 1857.6,556.4 1860.6,556.4 1863.6,556.5 1866.6,556.5 1869.6,556.5 1872.6,556.5 1875.6,556.6 1878.6,556.6 1881.6,556.6 1884.6,556.6 1887.6,556.6 1890.6,556.6 1893.6,556.7 1896.6,556.7 1899.6,556.7 1902.7,556.7 1905.7,556.7 1908.7,556.7 1911.7,556.7 1914.7,556.8 1917.7,556.8 1920.7,556.8 1923.7,556.8 1926.7,556.8 1929.7,556.8 1932.7,556.8 1935.7,556.8 1938.7,556.8 1941.7,556.8 1944.7,556.8 1947.7,556.8 1950.7,556.8 1953.7,556.9 1956.7,556.9 1959.7,556.9 1962.7,556.9 1965.7,556.9 1968.7,556.9 1971.7,556.9 1974.7,556.9 1977.7,556.9 1980.7,556.9 1983.7,556.9 1986.7,556.9 1989.7,556.9 1992.7,556.9 1995.7,556.9 1998.7,556.9 2001.7,556.9 2004.7,556.9 2007.8,556.8 2010.8,556.8 2013.8,556.8 2016.8,556.8 2019.8,556.8 2022.8,556.8 2025.8,556.8 2028.8,556.8 2031.8,556.8 2034.8,556.8 2037.8,556.8 2040.8,556.8 2043.8,556.8 2046.8,556.8 2049.8,556.8 2052.8,556.7 2055.8,556.7 2058.8,556.7 2061.8,556.7 2064.8,556.7 2067.8,556.7 2070.8,556.7 2073.8,556.7 2076.8,556.7 2079.8,556.7 2082.8,556.6 2085.8,556.6 2088.8,556.6 2091.8,556.6 2094.8,556.6 2097.8,556.6 2100.8,556.6 2103.8,556.6 2106.8,556.5 2109.8,556.5 2112.9,556.5 2115.9,556.5 2118.9,556.5 2121.9,556.5 2124.9,556.5 2127.9,556.4 2130.9,556.4 2133.9,556.4 2136.9,556.4 2139.9,556.4 2142.9,556.4 2145.9,556.3 2148.9,556.3 2151.9,556.3 2154.9,556.3 2157.9,556.3 2160.9,556.3 2163.9,556.2 2166.9,556.2 2169.9,556.2 2172.9,556.2 2175.9,556.2 2178.9,556.1 2181.9,556.1 2184.9,556.1 2187.9,556.1 2190.9,556.1 2193.9,556.1 2196.9,556.0 2199.9,556.0 2202.9,556.0 2205.9,556.0 2208.9,556.0 2211.9,555.9 2214.9,555.9 2217.9,555.9 2221.0,555.9 2224.0,555.9 2227.0,555.8 2230.0,555.8 2233.0,555.8 2236.0,555.8 2239.0,555.7 2242.0,555.7 2245.0,555.7 2248.0,555.7 2251.0,555.7 2254.0,555.6 2257.0,555.6 2260.0,555.6 2263.0,555.6 2266.0,555.6 2269.0,555.5 2272.0,555.5" fill="none" stroke="#ff00ff" stroke-width="11.5" stroke-linejoin="round"/>
<path d="M146.0,864.1 149.0,864.1 152.0,864.1 155.0,864.1 158.0,864.1 161.0,864.1 164.0,864.1 167.0,864.0 170.0,864.0 173.0,864.0 176.0,864.0 179.0,864.0 182.0,864.0 185.0,864.0 188.0,864.0 191.0,863.9 194.0,863.9 197.0,863.9 200.1,863.9 203.1,863.9 206.1,863.9 209.1,863.8 212.1,863.8 215.1,863.8 218.1,863.8 221.1,863.8 224.1,863.7 227.1,863.7 230.1,863.7 233.1,863.6 236.1,863.6 239.1,863.6 242.1,863.5 245.1,863.5 248.1,863.5 251.1,863.4 254.1,863.4 257.1,863.3 260.1,863.3 263.1,863.2 266.1,863.2 269.1,863.1 272.1,863.1 275.1,863.0 278.1,862.9 281.1,862.9 284.1,862.8 287.1,862.7 290.1,862.6 293.1,862.5 296.1,862.4 299.1,862.3 302.1,862.2 305.1,862.1 308.2,862.0 311.2,861.9 314.2,861.8 317.2,861.6 320.2,861.5 323.2,861.4 326.2,861.2 329.2,861.0 332.2,860.9 335.2,860.7 338.2,860.5 341.2,860.3 344.2,860.1 347.2,859.9 350.2,859.7 353.2,859.5 356.2,859.2 359.2,859.0 362.2,858.7 365.2,858.4 368.2,858.2 371.2,857.9 374.2,857.6 377.2,857.2 380.2,856.9 383.2,856.6 386.2,856.2 389.2,855.9 392.2,855.5 395.2,855.1 398.2,854.7 401.2,854.2 404.2,853.8 407.2,853.4 410.2,852.9 413.3,852.4 416.3,851.9 419.3,851.4 422.3,850.9 425.3,850.4 428.3,849.8 431.3,849.3 434.3,848.7 437.3,848.1 440.3,847.5 443.3,846.9 446.3,846.2 449.3,845.6 452.3,844.9 455.3,844.3 458.3,843.6 461.3,842.9 464.3,842.2 467.3,841.5 470.3,840.8 473.3,840.0 476.3,839.3 479.3,838.5 482.3,837.7 485.3,837.0 488.3,836.2 491.3,835.4 494.3,834.6 497.3,833.8 500.3,833.0 503.3,832.2 506.3,831.4 509.3,830.6 512.3,829.8 515.3,829.0 518.4,828.2 521.4,827.4 524.4,826.6 527.4,825.8 530.4,825.1 533.4,824.3 536.4,823.5 539.4,822.8 542.4,822.0 545.4,821.3 548.4,820.6 551.4,819.9 554.4,819.2 557.4,818.5 560.4,817.9 563.4,817.3 566.4,816.7 569.4,816.1 572.4,815.5 575.4,815.0 578.4,814.5 581.4,814.0 584.4,813.6 587.4,813.2 590.4,812.8 593.4,812.4 596.4,812.1 599.4,811.8 602.4,811.6 605.4,811.4 608.4,811.2 611.4,811.1 614.4,811.0 617.4,810.9 620.4,810.9 623.4,810.9 626.5,811.0 629.5,811.1 632.5,811.2 635.5,811.4 638.5,811.6 641.5,811.8 644.5,812.1 647.5,812.4 650.5,812.7 653.5,813.1 656.5,813.5 659.5,814.0 662.5,814.4 665.5,814.9 668.5,815.5 671.5,816.0 674.5,816.6 677.5,817.2 680.5,817.8 683.5,818.5 686.5,819.1 689.5,819.8 692.5,820.5 695.5,821.2 698.5,822.0 701.5,822.7 704.5,823.5 707.5,824.2 710.5,825.0 713.5,825.8 716.5,826.6 719.5,827.4 722.5,828.2 725.5,829.0 728.5,829.8 731.6,830.6 734.6,831.4 737.6,832.2 740.6,833.1 743.6,833.9 746.6,834.7 749.6,835.5 752.6,836.3 755.6,837.1 758.6,837.8 761.6,838.6 764.6,839.4 767.6,840.1 770.6,840.9 773.6,841.6 776.6,842.4 779.6,843.1 782.6,843.8 785.6,844.5 788.6,845.2 791.6,845.8 794.6,846.5 797.6,847.1 800.6,847.8 803.6,848.4 806.6,849.0 809.6,849.6 812.6,850.1 815.6,850.7 818.6,851.3 821.6,851.8 824.6,852.3 827.6,852.8 830.6,853.3 833.6,853.8 836.6,854.2 839.7,854.7 842.7,855.1 845.7,855.5 848.7,855.9 851.7,856.3 854.7,856.7 857.7,857.1 860.7,857.4 863.7,857.8 866.7,858.1 869.7,858.4 872.7,858.7 875.7,859.0 878.7,859.3 881.7,859.6 884.7,859.9 887.7,860.1 890.7,860.3 893.7,860.6 896.7,860.8 899.7,861.0 902.7,861.2 905.7,861.4 908.7,861.6 911.7,861.8 914.7,861.9 917.7,862.1 920.7,862.3 923.7,862.4 926.7,862.6 929.7,862.7 932.7,862.8 935.7,862.9 938.7,863.1 941.7,863.2 944.8,863.3 947.8,863.4 950.8,863.5 953.8,863.6 956.8,863.7 959.8,863.8 962.8,863.8 965.8,863.9 968.8,864.0 971.8,864.1 974.8,864.1 977.8,864.2 980.8,864.2 983.8,864.3 986.8,864.4 989.8,864.4 992.8,864.5 995.8,864.5 998.8,864.6 1001.8,864.6 1004.8,864.6 1007.8,864.7 1010.8,864.7 1013.8,864.8 1016.8,864.8 1019.8,864.8 1022.8,864.9 1025.8,864.9 1028.8,864.9 1031.8,865.0 1034.8,865.0 1037.8,865.0 1040.8,865.0 1043.8,865.1 1046.8,865.1 1049.9,865.1 1052.9,865.1 1055.9,865.2 1058.9,865.2 1061.9,865.2 1064.9,865.2 1067.9,865.2 1070.9,865.3 1073.9,865.3 1076.9,865.3 1079.9,865.3 1082.9,865.3 1085.9,865.3 1088.9,865.4 1091.9,865.4 1094.9,865.4 1097.9,865.4 1100.9,865.4 1103.9,865.4 1106.9,865.5 1109.9,865.5 1112.9,865.5 1115.9,865.5 1118.9,865.5 1121.9,865.5 1124.9,865.5 1127.9,865.6 1130.9,865.6 1133.9,865.6 1136.9,865.6 1139.9,865.6 1142.9,865.6 1145.9,865.6 1148.9,865.6 1151.9,865.7 1154.9,865.7 1158.0,865.7 1161.0,865.7 1164.0,865.7 1167.0,865.7 1170.0,865.7 1173.0,865.7 1176.0,865.7 1179.0,865.8 1182.0,865.8 1185.0,865.8 1188.0,865.8 1191.0,865.8 1194.0,865.8 1197.0,865.8 1200.0,865.8 1203.0,865.8 1206.0,865.8 1209.0,865.9 1212.0,865.9 1215.0,865.9 1218.0,865.9 1221.0,865.9 1224.0,865.9 1227.0,865.9 1230.0,865.9 1233.0,865.9 1236.0,865.9 1239.0,866.0 1242.0,866.0 1245.0,866.0 1248.0,866.0 1251.0,866.0 1254.0,866.0 1257.0,866.0 1260.0,866.1 1263.1,866.1 1266.1,866.1 1269.1,866.1 1272.1,866.1 1275.1,866.2 1278.1,866.2 1281.1,866.2 1284.1,866.2 1287.1,866.2 1290.1,866.3 1293.1,866.3 1296.1,866.3 1299.1,866.3 1302.1,866.4 1305.1,866.4 1308.1,866.4 1311.1,866.4 1314.1,866.4 1317.1,866.5 1320.1,866.5 1323.1,866.5 1326.1,866.5 1329.1,866.5 1332.1,866.6 1335.1,866.6 1338.1,866.6 1341.1,866.6 1344.1,866.6 1347.1,866.7 1350.1,866.7 1353.1,866.7 1356.1,866.7 1359.1,866.7 1362.1,866.8 1365.1,866.8 1368.1,866.8 1371.2,866.8 1374.2,866.8 1377.2,866.9 1380.2,866.9 1383.2,866.9 1386.2,866.9 1389.2,866.9 1392.2,867.0 1395.2,867.0 1398.2,867.0 1401.2,867.0 1404.2,867.0 1407.2,867.1 1410.2,867.1 1413.2,867.1 1416.2,867.1 1419.2,867.1 1422.2,867.2 1425.2,867.2 1428.2,867.2 1431.2,867.2 1434.2,867.2 1437.2,867.3 1440.2,867.3 1443.2,867.3 1446.2,867.3 1449.2,867.3 1452.2,867.4 1455.2,867.4 1458.2,867.4 1461.2,867.4 1464.2,867.4 1467.2,867.4 1470.2,867.5 1473.2,867.5 1476.3,867.5 1479.3,867.5 1482.3,867.5 1485.3,867.6 1488.3,867.6 1491.3,867.6 1494.3,867.6 1497.3,867.6 1500.3,867.7 1503.3,867.7 1506.3,867.7 1509.3,867.7 1512.3,867.7 1515.3,867.8 1518.3,867.8 1521.3,867.8 1524.3,867.8 1527.3,867.8 1530.3,867.8 1533.3,867.9 1536.3,867.9 1539.3,867.9 1542.3,867.9 1545.3,867.9 1548.3,868.0 1551.3,868.0 1554.3,868.0 1557.3,868.0 1560.3,868.0 1563.3,868.1 1566.3,868.1 1569.3,868.1 1572.3,868.1 1575.3,868.1 1578.3,868.1 1581.4,868.2 1584.4,868.2 1587.4,868.2 1590.4,868.2 1593.4,868.2 1596.4,868.3 1599.4,868.3 1602.4,868.3 1605.4,868.3 1608.4,868.3 1611.4,868.3 1614.4,868.3 1617.4,868.3 1620.4,868.3 1623.4,868.3 1626.4,868.3 1629.4,868.4 1632.4,868.4 1635.4,868.4 1638.4,868.4 1641.4,868.4 1644.4,868.4 1647.4,868.4 1650.4,868.4 1653.4,868.4 1656.4,868.4 1659.4,868.4 1662.4,868.4 1665.4,868.4 1668.4,868.5 1671.4,868.5 1674.4,868.5 1677.4,868.5 1680.4,868.5 1683.4,868.5 1686.4,868.5 1689.5,868.5 1692.5,868.5 1695.5,868.5 1698.5,868.5 1701.5,868.5 1704.5,868.5 1707.5,868.5 1710.5,868.6 1713.5,868.6 1716.5,868.6 1719.5,868.6 1722.5,868.6 1725.5,868.6 1728.5,868.6 1731.5,868.6 1734.5,868.6 1737.5,868.6 1740.5,868.6 1743.5,868.6 1746.5,868.6 1749.5,868.6 1752.5,868.7 1755.5,868.7 1758.5,868.7 1761.5,868.7 1764.5,868.7 1767.5,868.7 1770.5,868.7 1773.5,868.7 1776.5,868.7 1779.5,868.7 1782.5,868.7 1785.5,868.7 1788.5,868.7 1791.5,868.7 1794.6,868.8 1797.6,868.8 1800.6,868.8 1803.6,868.8 1806.6,868.8 1809.6,868.8 1812.6,868.8 1815.6,868.8 1818.6,868.8 1821.6,868.8 1824.6,868.8 1827.6,868.8 1830.6,868.8 1833.6,868.8 1836.6,868.8 1839.6,868.9 1842.6,868.9 1845.6,868.9 1848.6,868.9 1851.6,868.9 1854.6,868.9 1857.6,868.9 1860.6,868.9 1863.6,868.9 1866.6,868.9 1869.6,868.9 1872.6,868.9 1875.6,868.9 1878.6,868.9 1881.6,869.0 1884.6,869.0 1887.6,869.0 1890.6,869.0 1893.6,869.0 1896.6,869.0 1899.6,869.0 1902.7,869.0 1905.7,869.0 1908.7,869.0 1911.7,869.0 1914.7,869.0 1917.7,869.0 1920.7,869.0 1923.7,869.0 1926.7,869.1 1929.7,869.1 1932.7,869.1 1935.7,869.1 1938.7,869.1 1941.7,869.1 1944.7,869.1 1947.7,869.1 1950.7,869.1 1953.7,869.1 1956.7,869.1 1959.7,869.1 1962.7,869.1 1965.7,869.1 1968.7,869.2 1971.7,869.2 1974.7,869.2 1977.7,869.2 1980.7,869.2 1983.7,869.2 1986.7,869.2 1989.7,869.2 1992.7,869.2 1995.7,869.2 1998.7,869.2 2001.7,869.2 2004.7,869.2 2007.8,869.2 2010.8,869.2 2013.8,869.3 2016.8,869.3 2019.8,869.3 2022.8,869.3 2025.8,869.3 2028.8,869.3 2031.8,869.3 2034.8,869.3 2037.8,869.3 2040.8,869.3 2043.8,869.3 2046.8,869.3 2049.8,869.3 2052.8,869.3 2055.8,869.3 2058.8,869.4 2061.8,869.4 2064.8,869.4 2067.8,869.4 2070.8,869.4 2073.8,869.4 2076.8,869.4 2079.8,869.4 2082.8,869.4 2085.8,869.4 2088.8,869.4 2091.8,869.4 2094.8,869.4 2097.8,869.4 2100.8,869.4 2103.8,869.5 2106.8,869.5 2109.8,869.5 2112.9,869.5 2115.9,869.5 2118.9,869.5 2121.9,869.5 2124.9,869.5 2127.9,869.5 2130.9,869.5 2133.9,869.5 2136.9,869.5 2139.9,869.5 2142.9,869.5 2145.9,869.5 2148.9,869.6 2151.9,869.6 2154.9,869.6 2157.9,869.6 2160.9,869.6 2163.9,869.6 2166.9,869.6 2169.9,869.6 2172.9,869.6 2175.9,869.6 2178.9,869.6 2181.9,869.6 2184.9,869.6 2187.9,869.6 2190.9,869.6 2193.9,869.7 2196.9,869.7 2199.9,869.7 2202.9,869.7 2205.9,869.7 2208.9,869.7 2211.9,869.7 2214.9,869.7 2217.9,869.7 2221.0,869.7 2224.0,869.7 2227.0,869.7 2230.0,869.7 2233.0,869.7 2236.0,869.7 2239.0,869.7 2242.0,869.8 2245.0,869.8 2248.0,869.8 2251.0,869.8 2254.0,869.8 2257.0,869.8 2260.0,869.8 2263.0,869.8 2266.0,869.8 2269.0,869.8 2272.0,869.8" fill="none" stroke="#0000ff" stroke-width="11.5" stroke-linejoin="round"/>
<path d="M146.0,864.4 149.0,864.4 152.0,864.4 155.0,864.4 158.0,864.4 161.0,864.4 164.0,864.4 167.0,864.4 170.0,864.4 173.0,864.4 176.0,864.4 179.0,864.4 182.0,864.4 185.0,864.4 188.0,864.4 191.0,864.4 194.0,864.4 197.0,864.4 200.1,864.5 203.1,864.5 206.1,864.5 209.1,864.5 212.1,864.5 215.1,864.5 218.1,864.5 221.1,864.5 224.1,864.5 227.1,864.5 230.1,864.5 233.1,864.5 236.1,864.5 239.1,864.5 242.1,864.5 245.1,864.5 248.1,864.5 251.1,864.5 254.1,864.5 257.1,864.5 260.1,864.5 263.1,864.5 266.1,864.5 269.1,864.5 272.1,864.5 275.1,864.5 278.1,864.5 281.1,864.5 284.1,864.5 287.1,864.5 290.1,864.5 293.1,864.5 296.1,864.5 299.1,864.5 302.1,864.5 305.1,864.5 308.2,864.5 311.2,864.5 314.2,864.5 317.2,864.5 320.2,864.5 323.2,864.5 326.2,864.5 329.2,864.5 332.2,864.5 335.2,864.5 338.2,864.5 341.2,864.5 344.2,864.5 347.2,864.5 350.2,864.5 353.2,864.5 356.2,864.5 359.2,864.5 362.2,864.5 365.2,864.5 368.2,864.5 371.2,864.5 374.2,864.5 377.2,864.5 380.2,864.5 383.2,864.5 386.2,864.5 389.2,864.5 392.2,864.5 395.2,864.5 398.2,864.5 401.2,864.5 404.2,864.5 407.2,864.5 410.2,864.5 413.3,864.5 416.3,864.5 419.3,864.5 422.3,864.5 425.3,864.5 428.3,864.5 431.3,864.5 434.3,864.5 437.3,864.5 440.3,864.5 443.3,864.5 446.3,864.5 449.3,864.4 452.3,864.4 455.3,864.4 458.3,864.4 461.3,864.4 464.3,864.4 467.3,864.4 470.3,864.4 473.3,864.4 476.3,864.4 479.3,864.4 482.3,864.4 485.3,864.4 488.3,864.4 491.3,864.4 494.3,864.4 497.3,864.4 500.3,864.4 503.3,864.4 506.3,864.4 509.3,864.4 512.3,864.4 515.3,864.4 518.4,864.4 521.4,864.4 524.4,864.4 527.4,864.4 530.4,864.4 533.4,864.4 536.4,864.4 539.4,864.4 542.4,864.4 545.4,864.4 548.4,864.4 551.4,864.4 554.4,864.4 557.4,864.4 560.4,864.4 563.4,864.3 566.4,864.3 569.4,864.3 572.4,864.3 575.4,864.3 578.4,864.3 581.4,864.3 584.4,864.3 587.4,864.3 590.4,864.3 593.4,864.3 596.4,864.3 599.4,864.3 602.4,864.3 605.4,864.3 608.4,864.3 611.4,864.3 614.4,864.3 617.4,864.3 620.4,864.3 623.4,864.3 626.5,864.2 629.5,864.2 632.5,864.2 635.5,864.2 638.5,864.2 641.5,864.2 644.5,864.2 647.5,864.2 650.5,864.2 653.5,864.2 656.5,864.2 659.5,864.2 662.5,864.2 665.5,864.2 668.5,864.2 671.5,864.1 674.5,864.1 677.5,864.1 680.5,864.1 683.5,864.1 686.5,864.1 689.5,864.1 692.5,864.1 695.5,864.1 698.5,864.1 701.5,864.1 704.5,864.1 707.5,864.0 710.5,864.0 713.5,864.0 716.5,864.0 719.5,864.0 722.5,864.0 725.5,864.0 728.5,864.0 731.6,864.0 734.6,864.0 737.6,863.9 740.6,863.9 743.6,863.9 746.6,863.9 749.6,863.9 752.6,863.9 755.6,863.9 758.6,863.9 761.6,863.9 764.6,863.8 767.6,863.8 770.6,863.8 773.6,863.8 776.6,863.8 779.6,863.8 782.6,863.8 785.6,863.8 788.6,863.7 791.6,863.7 794.6,863.7 797.6,863.7 800.6,863.7 803.6,863.7 806.6,863.6 809.6,863.6 812.6,863.6 815.6,863.6 818.6,863.6 821.6,863.6 824.6,863.5 827.6,863.5 830.6,863.5 833.6,863.5 836.6,863.5 839.7,863.5 842.7,863.4 845.7,863.4 848.7,863.4 851.7,863.4 854.7,863.4 857.7,863.3 860.7,863.3 863.7,863.3 866.7,863.3 869.7,863.3 872.7,863.2 875.7,863.2 878.7,863.2 881.7,863.2 884.7,863.1 887.7,863.1 890.7,863.1 893.7,863.1 896.7,863.0 899.7,863.0 902.7,863.0 905.7,863.0 908.7,862.9 911.7,862.9 914.7,862.9 917.7,862.8 920.7,862.8 923.7,862.8 926.7,862.7 929.7,862.7 932.7,862.7 935.7,862.6 938.7,862.6 941.7,862.6 944.8,862.5 947.8,862.5 950.8,862.5 953.8,862.4 956.8,862.4 959.8,862.3 962.8,862.3 965.8,862.3 968.8,862.2 971.8,862.2 974.8,862.1 977.8,862.1 980.8,862.0 983.8,862.0 986.8,861.9 989.8,861.9 992.8,861.8 995.8,861.8 998.8,861.7 1001.8,861.7 1004.8,861.6 1007.8,861.6 1010.8,861.5 1013.8,861.4 1016.8,861.4 1019.8,861.3 1022.8,861.2 1025.8,861.2 1028.8,861.1 1031.8,861.0 1034.8,860.9 1037.8,860.9 1040.8,860.8 1043.8,860.7 1046.8,860.6 1049.9,860.5 1052.9,860.4 1055.9,860.3 1058.9,860.2 1061.9,860.1 1064.9,860.0 1067.9,859.9 1070.9,859.8 1073.9,859.7 1076.9,859.6 1079.9,859.4 1082.9,859.3 1085.9,859.2 1088.9,859.0 1091.9,858.9 1094.9,858.7 1097.9,858.6 1100.9,858.4 1103.9,858.3 1106.9,858.1 1109.9,857.9 1112.9,857.7 1115.9,857.5 1118.9,857.3 1121.9,857.1 1124.9,856.9 1127.9,856.7 1130.9,856.5 1133.9,856.2 1136.9,856.0 1139.9,855.7 1142.9,855.5 1145.9,855.2 1148.9,854.9 1151.9,854.7 1154.9,854.4 1158.0,854.1 1161.0,853.7 1164.0,853.4 1167.0,853.1 1170.0,852.7 1173.0,852.4 1176.0,852.0 1179.0,851.6 1182.0,851.2 1185.0,850.8 1188.0,850.4 1191.0,850.0 1194.0,849.5 1197.0,849.1 1200.0,848.6 1203.0,848.1 1206.0,847.6 1209.0,847.1 1212.0,846.6 1215.0,846.0 1218.0,845.5 1221.0,844.9 1224.0,844.3 1227.0,843.7 1230.0,843.1 1233.0,842.5 1236.0,841.8 1239.0,841.2 1242.0,840.5 1245.0,839.8 1248.0,839.1 1251.0,838.4 1254.0,837.6 1257.0,836.9 1260.0,836.2 1263.1,835.4 1266.1,834.6 1269.1,833.8 1272.1,833.0 1275.1,832.1 1278.1,831.3 1281.1,830.4 1284.1,829.6 1287.1,828.7 1290.1,827.8 1293.1,826.9 1296.1,825.9 1299.1,825.0 1302.1,824.1 1305.1,823.1 1308.1,822.1 1311.1,821.1 1314.1,820.2 1317.1,819.2 1320.1,818.1 1323.1,817.1 1326.1,816.1 1329.1,815.1 1332.1,814.1 1335.1,813.0 1338.1,812.0 1341.1,810.9 1344.1,809.9 1347.1,808.9 1350.1,807.8 1353.1,806.8 1356.1,805.8 1359.1,804.7 1362.1,803.7 1365.1,802.7 1368.1,801.7 1371.2,800.7 1374.2,799.7 1377.2,798.8 1380.2,797.8 1383.2,796.9 1386.2,796.0 1389.2,795.1 1392.2,794.3 1395.2,793.4 1398.2,792.6 1401.2,791.9 1404.2,791.1 1407.2,790.4 1410.2,789.7 1413.2,789.1 1416.2,788.5 1419.2,788.0 1422.2,787.5 1425.2,787.0 1428.2,786.6 1431.2,786.2 1434.2,785.9 1437.2,785.6 1440.2,785.4 1443.2,785.2 1446.2,785.1 1449.2,785.0 1452.2,785.0 1455.2,785.0 1458.2,785.1 1461.2,785.3 1464.2,785.5 1467.2,785.7 1470.2,786.0 1473.2,786.3 1476.3,786.7 1479.3,787.2 1482.3,787.6 1485.3,788.2 1488.3,788.8 1491.3,789.4 1494.3,790.0 1497.3,790.7 1500.3,791.4 1503.3,792.2 1506.3,793.0 1509.3,793.8 1512.3,794.7 1515.3,795.6 1518.3,796.5 1521.3,797.4 1524.3,798.4 1527.3,799.3 1530.3,800.3 1533.3,801.3 1536.3,802.3 1539.3,803.4 1542.3,804.4 1545.3,805.5 1548.3,806.5 1551.3,807.6 1554.3,808.7 1557.3,809.7 1560.3,810.8 1563.3,811.9 1566.3,813.0 1569.3,814.0 1572.3,815.1 1575.3,816.2 1578.3,817.2 1581.4,818.3 1584.4,819.3 1587.4,820.4 1590.4,821.4 1593.4,822.4 1596.4,823.5 1599.4,824.5 1602.4,825.5 1605.4,826.4 1608.4,827.4 1611.4,828.4 1614.4,829.3 1617.4,830.2 1620.4,831.1 1623.4,832.0 1626.4,832.9 1629.4,833.8 1632.4,834.7 1635.4,835.5 1638.4,836.3 1641.4,837.1 1644.4,837.9 1647.4,838.7 1650.4,839.5 1653.4,840.2 1656.4,841.0 1659.4,841.7 1662.4,842.4 1665.4,843.1 1668.4,843.8 1671.4,844.4 1674.4,845.1 1677.4,845.7 1680.4,846.3 1683.4,846.9 1686.4,847.5 1689.5,848.1 1692.5,848.6 1695.5,849.2 1698.5,849.7 1701.5,850.2 1704.5,850.7 1707.5,851.2 1710.5,851.7 1713.5,852.1 1716.5,852.6 1719.5,853.0 1722.5,853.4 1725.5,853.8 1728.5,854.2 1731.5,854.6 1734.5,855.0 1737.5,855.4 1740.5,855.7 1743.5,856.1 1746.5,856.4 1749.5,856.7 1752.5,857.0 1755.5,857.3 1758.5,857.6 1761.5,857.9 1764.5,858.2 1767.5,858.4 1770.5,858.7 1773.5,858.9 1776.5,859.2 1779.5,859.4 1782.5,859.6 1785.5,859.8 1788.5,860.0 1791.5,860.2 1794.6,860.4 1797.6,860.6 1800.6,860.8 1803.6,861.0 1806.6,861.2 1809.6,861.3 1812.6,861.5 1815.6,861.6 1818.6,861.8 1821.6,861.9 1824.6,862.1 1827.6,862.2 1830.6,862.4 1833.6,862.5 1836.6,862.6 1839.6,862.7 1842.6,862.9 1845.6,863.0 1848.6,863.1 1851.6,863.2 1854.6,863.3 1857.6,863.4 1860.6,863.5 1863.6,863.6 1866.6,863.7 1869.6,863.8 1872.6,863.9 1875.6,863.9 1878.6,864.0 1881.6,864.1 1884.6,864.2 1887.6,864.3 1890.6,864.3 1893.6,864.4 1896.6,864.5 1899.6,864.6 1902.7,864.6 1905.7,864.7 1908.7,864.8 1911.7,864.8 1914.7,864.9 1917.7,864.9 1920.7,865.0 1923.7,865.1 1926.7,865.1 1929.7,865.2 1932.7,865.2 1935.7,865.3 1938.7,865.3 1941.7,865.4 1944.7,865.4 1947.7,865.5 1950.7,865.5 1953.7,865.6 1956.7,865.6 1959.7,865.7 1962.7,865.7 1965.7,865.8 1968.7,865.8 1971.7,865.9 1974.7,865.9 1977.7,866.0 1980.7,866.0 1983.7,866.0 1986.7,866.1 1989.7,866.1 1992.7,866.2 1995.7,866.2 1998.7,866.2 2001.7,866.3 2004.7,866.3 2007.8,866.4 2010.8,866.4 2013.8,866.4 2016.8,866.5 2019.8,866.5 2022.8,866.5 2025.8,866.6 2028.8,866.6 2031.8,866.6 2034.8,866.7 2037.8,866.7 2040.8,866.7 2043.8,866.8 2046.8,866.8 2049.8,866.8 2052.8,866.9 2055.8,866.9 2058.8,866.9 2061.8,866.9 2064.8,867.0 2067.8,867.0 2070.8,867.0 2073.8,867.1 2076.8,867.1 2079.8,867.1 2082.8,867.1 2085.8,867.2 2088.8,867.2 2091.8,867.2 2094.8,867.3 2097.8,867.3 2100.8,867.3 2103.8,867.3 2106.8,867.4 2109.8,867.4 2112.9,867.4 2115.9,867.4 2118.9,867.5 2121.9,867.5 2124.9,867.5 2127.9,867.5 2130.9,867.6 2133.9,867.6 2136.9,867.6 2139.9,867.6 2142.9,867.6 2145.9,867.7 2148.9,867.7 2151.9,867.7 2154.9,867.7 2157.9,867.8 2160.9,867.8 2163.9,867.8 2166.9,867.8 2169.9,867.8 2172.9,867.9 2175.9,867.9 2178.9,867.9 2181.9,867.9 2184.9,867.9 2187.9,868.0 2190.9,868.0 2193.9,868.0 2196.9,868.0 2199.9,868.0 2202.9,868.1 2205.9,868.1 2208.9,868.1 2211.9,868.1 2214.9,868.1 2217.9,868.2 2221.0,868.2 2224.0,868.2 2227.0,868.2 2230.0,868.2 2233.0,868.2 2236.0,868.3 2239.0,868.3 2242.0,868.3 2245.0,868.3 2248.0,868.3 2251.0,868.4 2254.0,868.4 2257.0,868.4 2260.0,868.4 2263.0,868.4 2266.0,868.4 2269.0,868.5 2272.0,868.5" fill="none" stroke="#0000ff" stroke-width="11.5" stroke-linejoin="round"/>
<path d="M146.0,861.9 149.0,861.8 152.0,861.8 155.0,861.7 158.0,861.6 161.0,861.5 164.0,861.5 167.0,861.4 170.0,861.3 173.0,861.2 176.0,861.1 179.0,861.0 182.0,860.9 185.0,860.8 188.0,860.7 191.0,860.6 194.0,860.5 197.0,860.4 200.1,860.3 203.1,860.2 206.1,860.1 209.1,860.0 212.1,859.8 215.1,859.7 218.1,859.6 221.1,859.5 224.1,859.3 227.1,859.2 230.1,859.0 233.1,858.9 236.1,858.8 239.1,858.6 242.1,858.5 245.1,858.3 248.1,858.2 251.1,858.0 254.1,857.8 257.1,857.7 260.1,857.5 263.1,857.3 266.1,857.1 269.1,856.9 272.1,856.8 275.1,856.6 278.1,856.4 281.1,856.2 284.1,856.0 287.1,855.8 290.1,855.6 293.1,855.4 296.1,855.2 299.1,854.9 302.1,854.7 305.1,854.5 308.2,854.3 311.2,854.1 314.2,853.8 317.2,853.6 320.2,853.4 323.2,853.2 326.2,852.9 329.2,852.7 332.2,852.5 335.2,852.2 338.2,852.0 341.2,851.8 344.2,851.6 347.2,851.3 350.2,851.1 353.2,850.9 356.2,850.7 359.2,850.5 362.2,850.3 365.2,850.1 368.2,849.9 371.2,849.7 374.2,849.6 377.2,849.4 380.2,849.2 383.2,849.1 386.2,849.0 389.2,848.8 392.2,848.7 395.2,848.6 398.2,848.5 401.2,848.5 404.2,848.4 407.2,848.4 410.2,848.3 413.3,848.3 416.3,848.3 419.3,848.3 422.3,848.3 425.3,848.4 428.3,848.4 431.3,848.5 434.3,848.6 437.3,848.7 440.3,848.8 443.3,849.0 446.3,849.1 449.3,849.3 452.3,849.5 455.3,849.6 458.3,849.8 461.3,850.0 464.3,850.3 467.3,850.5 470.3,850.7 473.3,851.0 476.3,851.2 479.3,851.5 482.3,851.7 485.3,852.0 488.3,852.2 491.3,852.5 494.3,852.7 497.3,853.0 500.3,853.3 503.3,853.5 506.3,853.8 509.3,854.1 512.3,854.3 515.3,854.6 518.4,854.8 521.4,855.1 524.4,855.3 527.4,855.6 530.4,855.8 533.4,856.0 536.4,856.3 539.4,856.5 542.4,856.7 545.4,857.0 548.4,857.2 551.4,857.4 554.4,857.6 557.4,857.8 560.4,858.0 563.4,858.2 566.4,858.4 569.4,858.6 572.4,858.8 575.4,858.9 578.4,859.1 581.4,859.3 584.4,859.5 587.4,859.6 590.4,859.8 593.4,859.9 596.4,860.1 599.4,860.2 602.4,860.4 605.4,860.5 608.4,860.7 611.4,860.8 614.4,860.9 617.4,861.1 620.4,861.2 623.4,861.3 626.5,861.4 629.5,861.5 632.5,861.6 635.5,861.8 638.5,861.9 641.5,862.0 644.5,862.1 647.5,862.2 650.5,862.3 653.5,862.4 656.5,862.5 659.5,862.6 662.5,862.6 665.5,862.7 668.5,862.8 671.5,862.9 674.5,863.0 677.5,863.1 680.5,863.1 683.5,863.2 686.5,863.3 689.5,863.4 692.5,863.4 695.5,863.5 698.5,863.6 701.5,863.6 704.5,863.7 707.5,863.8 710.5,863.8 713.5,863.9 716.5,863.9 719.5,864.0 722.5,864.1 725.5,864.1 728.5,864.2 731.6,864.2 734.6,864.3 737.6,864.3 740.6,864.4 743.6,864.4 746.6,864.5 749.6,864.5 752.6,864.6 755.6,864.6 758.6,864.7 761.6,864.7 764.6,864.7 767.6,864.8 770.6,864.8 773.6,864.9 776.6,864.9 779.6,865.0 782.6,865.0 785.6,865.0 788.6,865.1 791.6,865.1 794.6,865.1 797.6,865.2 800.6,865.2 803.6,865.2 806.6,865.3 809.6,865.3 812.6,865.3 815.6,865.4 818.6,865.4 821.6,865.4 824.6,865.5 827.6,865.5 830.6,865.5 833.6,865.6 836.6,865.6 839.7,865.6 842.7,865.6 845.7,865.7 848.7,865.7 851.7,865.7 854.7,865.7 857.7,865.8 860.7,865.8 863.7,865.8 866.7,865.8 869.7,865.9 872.7,865.9 875.7,865.9 878.7,865.9 881.7,866.0 884.7,866.0 887.7,866.0 890.7,866.0 893.7,866.0 896.7,866.1 899.7,866.1 902.7,866.1 905.7,866.1 908.7,866.1 911.7,866.2 914.7,866.2 917.7,866.2 920.7,866.2 923.7,866.2 926.7,866.3 929.7,866.3 932.7,866.3 935.7,866.3 938.7,866.3 941.7,866.3 944.8,866.4 947.8,866.4 950.8,866.4 953.8,866.4 956.8,866.4 959.8,866.4 962.8,866.5 965.8,866.5 968.8,866.5 971.8,866.5 974.8,866.5 977.8,866.5 980.8,866.6 983.8,866.6 986.8,866.6 989.8,866.6 992.8,866.6 995.8,866.6 998.8,866.6 1001.8,866.7 1004.8,866.7 1007.8,866.7 1010.8,866.7 1013.8,866.7 1016.8,866.7 1019.8,866.7 1022.8,866.8 1025.8,866.8 1028.8,866.8 1031.8,866.8 1034.8,866.8 1037.8,866.8 1040.8,866.8 1043.8,866.8 1046.8,866.8 1049.9,866.9 1052.9,866.9 1055.9,866.9 1058.9,866.9 1061.9,866.9 1064.9,866.9 1067.9,866.9 1070.9,866.9 1073.9,867.0 1076.9,867.0 1079.9,867.0 1082.9,867.0 1085.9,867.0 1088.9,867.0 1091.9,867.0 1094.9,867.0 1097.9,867.0 1100.9,867.1 1103.9,867.1 1106.9,867.1 1109.9,867.1 1112.9,867.1 1115.9,867.1 1118.9,867.1 1121.9,867.1 1124.9,867.1 1127.9,867.1 1130.9,867.2 1133.9,867.2 1136.9,867.2 1139.9,867.2 1142.9,867.2 1145.9,867.2 1148.9,867.2 1151.9,867.2 1154.9,867.2 1158.0,867.2 1161.0,867.2 1164.0,867.3 1167.0,867.3 1170.0,867.3 1173.0,867.3 1176.0,867.3 1179.0,867.3 1182.0,867.3 1185.0,867.3 1188.0,867.3 1191.0,867.3 1194.0,867.3 1197.0,867.3 1200.0,867.4 1203.0,867.4 1206.0,867.4 1209.0,867.4 1212.0,867.4 1215.0,867.4 1218.0,867.4 1221.0,867.4 1224.0,867.4 1227.0,867.4 1230.0,867.4 1233.0,867.4 1236.0,867.5 1239.0,867.5 1242.0,867.5 1245.0,867.5 1248.0,867.5 1251.0,867.5 1254.0,867.5 1257.0,867.5 1260.0,867.6 1263.1,867.6 1266.1,867.6 1269.1,867.6 1272.1,867.6 1275.1,867.7 1278.1,867.7 1281.1,867.7 1284.1,867.7 1287.1,867.7 1290.1,867.8 1293.1,867.8 1296.1,867.8 1299.1,867.8 1302.1,867.8 1305.1,867.9 1308.1,867.9 1311.1,867.9 1314.1,867.9 1317.1,867.9 1320.1,868.0 1323.1,868.0 1326.1,868.0 1329.1,868.0 1332.1,868.0 1335.1,868.1 1338.1,868.1 1341.1,868.1 1344.1,868.1 1347.1,868.1 1350.1,868.2 1353.1,868.2 1356.1,868.2 1359.1,868.2 1362.1,868.2 1365.1,868.3 1368.1,868.3 1371.2,868.3 1374.2,868.3 1377.2,868.3 1380.2,868.4 1383.2,868.4 1386.2,868.4 1389.2,868.4 1392.2,868.4 1395.2,868.5 1398.2,868.5 1401.2,868.5 1404.2,868.5 1407.2,868.5 1410.2,868.6 1413.2,868.6 1416.2,868.6 1419.2,868.6 1422.2,868.6 1425.2,868.6 1428.2,868.7 1431.2,868.7 1434.2,868.7 1437.2,868.7 1440.2,868.7 1443.2,868.8 1446.2,868.8 1449.2,868.8 1452.2,868.8 1455.2,868.8 1458.2,868.9 1461.2,868.9 1464.2,868.9 1467.2,868.9 1470.2,868.9 1473.2,869.0 1476.3,869.0 1479.3,869.0 1482.3,869.0 1485.3,869.0 1488.3,869.0 1491.3,869.1 1494.3,869.1 1497.3,869.1 1500.3,869.1 1503.3,869.1 1506.3,869.2 1509.3,869.2 1512.3,869.2 1515.3,869.2 1518.3,869.2 1521.3,869.3 1524.3,869.3 1527.3,869.3 1530.3,869.3 1533.3,869.3 1536.3,869.4 1539.3,869.4 1542.3,869.4 1545.3,869.4 1548.3,869.4 1551.3,869.4 1554.3,869.5 1557.3,869.5 1560.3,869.5 1563.3,869.5 1566.3,869.5 1569.3,869.6 1572.3,869.6 1575.3,869.6 1578.3,869.6 1581.4,869.6 1584.4,869.6 1587.4,869.7 1590.4,869.7 1593.4,869.7 1596.4,869.7 1599.4,869.7 1602.4,869.7 1605.4,869.8 1608.4,869.8 1611.4,869.8 1614.4,869.8 1617.4,869.8 1620.4,869.8 1623.4,869.8 1626.4,869.8 1629.4,869.8 1632.4,869.8 1635.4,869.8 1638.4,869.8 1641.4,869.8 1644.4,869.9 1647.4,869.9 1650.4,869.9 1653.4,869.9 1656.4,869.9 1659.4,869.9 1662.4,869.9 1665.4,869.9 1668.4,869.9 1671.4,869.9 1674.4,869.9 1677.4,869.9 1680.4,869.9 1683.4,869.9 1686.4,870.0 1689.5,870.0 1692.5,870.0 1695.5,870.0 1698.5,870.0 1701.5,870.0 1704.5,870.0 1707.5,870.0 1710.5,870.0 1713.5,870.0 1716.5,870.0 1719.5,870.0 1722.5,870.0 1725.5,870.1 1728.5,870.1 1731.5,870.1 1734.5,870.1 1737.5,870.1 1740.5,870.1 1743.5,870.1 1746.5,870.1 1749.5,870.1 1752.5,870.1 1755.5,870.1 1758.5,870.1 1761.5,870.1 1764.5,870.1 1767.5,870.2 1770.5,870.2 1773.5,870.2 1776.5,870.2 1779.5,870.2 1782.5,870.2 1785.5,870.2 1788.5,870.2 1791.5,870.2 1794.6,870.2 1797.6,870.2 1800.6,870.2 1803.6,870.2 1806.6,870.2 1809.6,870.3 1812.6,870.3 1815.6,870.3 1818.6,870.3 1821.6,870.3 1824.6,870.3 1827.6,870.3 1830.6,870.3 1833.6,870.3 1836.6,870.3 1839.6,870.3 1842.6,870.3 1845.6,870.3 1848.6,870.3 1851.6,870.3 1854.6,870.4 1857.6,870.4 1860.6,870.4 1863.6,870.4 1866.6,870.4 1869.6,870.4 1872.6,870.4 1875.6,870.4 1878.6,870.4 1881.6,870.4 1884.6,870.4 1887.6,870.4 1890.6,870.4 1893.6,870.4 1896.6,870.5 1899.6,870.5 1902.7,870.5 1905.7,870.5 1908.7,870.5 1911.7,870.5 1914.7,870.5 1917.7,870.5 1920.7,870.5 1923.7,870.5 1926.7,870.5 1929.7,870.5 1932.7,870.5 1935.7,870.5 1938.7,870.5 1941.7,870.6 1944.7,870.6 1947.7,870.6 1950.7,870.6 1953.7,870.6 1956.7,870.6 1959.7,870.6 1962.7,870.6 1965.7,870.6 1968.7,870.6 1971.7,870.6 1974.7,870.6 1977.7,870.6 1980.7,870.6 1983.7,870.7 1986.7,870.7 1989.7,870.7 1992.7,870.7 1995.7,870.7 1998.7,870.7 2001.7,870.7 2004.7,870.7 2007.8,870.7 2010.8,870.7 2013.8,870.7 2016.8,870.7 2019.8,870.7 2022.8,870.7 2025.8,870.7 2028.8,870.8 2031.8,870.8 2034.8,870.8 2037.8,870.8 2040.8,870.8 2043.8,870.8 2046.8,870.8 2049.8,870.8 2052.8,870.8 2055.8,870.8 2058.8,870.8 2061.8,870.8 2064.8,870.8 2067.8,870.8 2070.8,870.8 2073.8,870.9 2076.8,870.9 2079.8,870.9 2082.8,870.9 2085.8,870.9 2088.8,870.9 2091.8,870.9 2094.8,870.9 2097.8,870.9 2100.8,870.9 2103.8,870.9 2106.8,870.9 2109.8,870.9 2112.9,870.9 2115.9,870.9 2118.9,871.0 2121.9,871.0 2124.9,871.0 2127.9,871.0 2130.9,871.0 2133.9,871.0 2136.9,871.0 2139.9,871.0 2142.9,871.0 2145.9,871.0 2148.9,871.0 2151.9,871.0 2154.9,871.0 2157.9,871.0 2160.9,871.0 2163.9,871.1 2166.9,871.1 2169.9,871.1 2172.9,871.1 2175.9,871.1 2178.9,871.1 2181.9,871.1 2184.9,871.1 2187.9,871.1 2190.9,871.1 2193.9,871.1 2196.9,871.1 2199.9,871.1 2202.9,871.1 2205.9,871.1 2208.9,871.2 2211.9,871.2 2214.9,871.2 2217.9,871.2 2221.0,871.2 2224.0,871.2 2227.0,871.2 2230.0,871.2 2233.0,871.2 2236.0,871.2 2239.0,871.2 2242.0,871.2 2245.0,871.2 2248.0,871.2 2251.0,871.2 2254.0,871.3 2257.0,871.3 2260.0,871.3 2263.0,871.3 2266.0,871.3 2269.0,871.3 2272.0,871.3" fill="none" stroke="#ff00ff" stroke-width="11.5" stroke-linejoin="round"/>
<path d="M146.0,866.4 149.0,866.4 152.0,866.4 155.0,866.4 158.0,866.4 161.0,866.4 164.0,866.4 167.0,866.4 170.0,866.5 173.0,866.5 176.0,866.5 179.0,866.5 182.0,866.5 185.0,866.5 188.0,866.5 191.0,866.5 194.0,866.5 197.0,866.5 200.1,866.5 203.1,866.5 206.1,866.5 209.1,866.5 212.1,866.5 215.1,866.5 218.1,866.5 221.1,866.5 224.1,866.5 227.1,866.5 230.1,866.5 233.1,866.5 236.1,866.5 239.1,866.5 242.1,866.5 245.1,866.5 248.1,866.5 251.1,866.5 254.1,866.6 257.1,866.6 260.1,866.6 263.1,866.6 266.1,866.6 269.1,866.6 272.1,866.6 275.1,866.6 278.1,866.6 281.1,866.6 284.1,866.6 287.1,866.6 290.1,866.6 293.1,866.6 296.1,866.6 299.1,866.6 302.1,866.6 305.1,866.6 308.2,866.6 311.2,866.6 314.2,866.6 317.2,866.6 320.2,866.6 323.2,866.6 326.2,866.6 329.2,866.6 332.2,866.6 335.2,866.6 338.2,866.6 341.2,866.7 344.2,866.7 347.2,866.7 350.2,866.7 353.2,866.7 356.2,866.7 359.2,866.7 362.2,866.7 365.2,866.7 368.2,866.7 371.2,866.7 374.2,866.7 377.2,866.7 380.2,866.7 383.2,866.7 386.2,866.7 389.2,866.7 392.2,866.7 395.2,866.7 398.2,866.7 401.2,866.7 404.2,866.7 407.2,866.7 410.2,866.7 413.3,866.7 416.3,866.7 419.3,866.7 422.3,866.7 425.3,866.7 428.3,866.7 431.3,866.8 434.3,866.8 437.3,866.8 440.3,866.8 443.3,866.8 446.3,866.8 449.3,866.8 452.3,866.8 455.3,866.8 458.3,866.8 461.3,866.8 464.3,866.8 467.3,866.8 470.3,866.8 473.3,866.8 476.3,866.8 479.3,866.8 482.3,866.8 485.3,866.8 488.3,866.8 491.3,866.8 494.3,866.8 497.3,866.8 500.3,866.8 503.3,866.8 506.3,866.8 509.3,866.8 512.3,866.8 515.3,866.8 518.4,866.8 521.4,866.8 524.4,866.8 527.4,866.8 530.4,866.9 533.4,866.9 536.4,866.9 539.4,866.9 542.4,866.9 545.4,866.9 548.4,866.9 551.4,866.9 554.4,866.9 557.4,866.9 560.4,866.9 563.4,866.9 566.4,866.9 569.4,866.9 572.4,866.9 575.4,866.9 578.4,866.9 581.4,866.9 584.4,866.9 587.4,866.9 590.4,866.9 593.4,866.9 596.4,866.9 599.4,866.9 602.4,866.9 605.4,866.9 608.4,866.9 611.4,866.9 614.4,866.9 617.4,866.9 620.4,866.9 623.4,866.9 626.5,866.9 629.5,866.9 632.5,866.9 635.5,866.9 638.5,866.9 641.5,866.9 644.5,866.9 647.5,867.0 650.5,867.0 653.5,867.0 656.5,867.0 659.5,867.0 662.5,867.0 665.5,867.0 668.5,867.0 671.5,867.0 674.5,867.0 677.5,867.0 680.5,867.0 683.5,867.0 686.5,867.0 689.5,867.0 692.5,867.0 695.5,867.0 698.5,867.0 701.5,867.0 704.5,867.0 707.5,867.0 710.5,867.0 713.5,867.0 716.5,867.0 719.5,867.0 722.5,867.0 725.5,867.0 728.5,867.0 731.6,867.0 734.6,867.0 737.6,867.0 740.6,867.0 743.6,867.0 746.6,867.0 749.6,867.0 752.6,867.0 755.6,867.0 758.6,867.0 761.6,867.0 764.6,867.0 767.6,867.0 770.6,867.0 773.6,867.0 776.6,867.0 779.6,867.0 782.6,867.0 785.6,867.0 788.6,867.0 791.6,867.0 794.6,867.0 797.6,867.0 800.6,867.0 803.6,867.0 806.6,867.0 809.6,867.0 812.6,867.0 815.6,867.0 818.6,867.0 821.6,867.0 824.6,867.0 827.6,867.0 830.6,867.0 833.6,867.0 836.6,867.0 839.7,867.0 842.7,867.0 845.7,867.0 848.7,867.0 851.7,867.0 854.7,867.0 857.7,867.0 860.7,867.0 863.7,867.0 866.7,867.0 869.7,867.0 872.7,867.0 875.7,867.0 878.7,867.0 881.7,867.0 884.7,867.0 887.7,867.0 890.7,866.9 893.7,866.9 896.7,866.9 899.7,866.9 902.7,866.9 905.7,866.9 908.7,866.9 911.7,866.9 914.7,866.9 917.7,866.9 920.7,866.9 923.7,866.9 926.7,866.8 929.7,866.8 932.7,866.8 935.7,866.8 938.7,866.8 941.7,866.8 944.8,866.8 947.8,866.7 950.8,866.7 953.8,866.7 956.8,866.7 959.8,866.7 962.8,866.6 965.8,866.6 968.8,866.6 971.8,866.5 974.8,866.5 977.8,866.5 980.8,866.4 983.8,866.4 986.8,866.4 989.8,866.3 992.8,866.3 995.8,866.3 998.8,866.2 1001.8,866.2 1004.8,866.1 1007.8,866.0 1010.8,866.0 1013.8,865.9 1016.8,865.9 1019.8,865.8 1022.8,865.7 1025.8,865.7 1028.8,865.6 1031.8,865.5 1034.8,865.4 1037.8,865.3 1040.8,865.2 1043.8,865.2 1046.8,865.1 1049.9,864.9 1052.9,864.8 1055.9,864.7 1058.9,864.6 1061.9,864.5 1064.9,864.4 1067.9,864.2 1070.9,864.1 1073.9,863.9 1076.9,863.8 1079.9,863.6 1082.9,863.5 1085.9,863.3 1088.9,863.1 1091.9,863.0 1094.9,862.8 1097.9,862.6 1100.9,862.4 1103.9,862.2 1106.9,862.0 1109.9,861.8 1112.9,861.6 1115.9,861.3 1118.9,861.1 1121.9,860.9 1124.9,860.6 1127.9,860.4 1130.9,860.1 1133.9,859.8 1136.9,859.6 1139.9,859.3 1142.9,859.0 1145.9,858.7 1148.9,858.4 1151.9,858.1 1154.9,857.8 1158.0,857.5 1161.0,857.2 1164.0,856.8 1167.0,856.5 1170.0,856.2 1173.0,855.8 1176.0,855.5 1179.0,855.1 1182.0,854.8 1185.0,854.4 1188.0,854.1 1191.0,853.7 1194.0,853.3 1197.0,853.0 1200.0,852.6 1203.0,852.2 1206.0,851.8 1209.0,851.5 1212.0,851.1 1215.0,850.7 1218.0,850.3 1221.0,850.0 1224.0,849.6 1227.0,849.2 1230.0,848.9 1233.0,848.5 1236.0,848.1 1239.0,847.8 1242.0,847.4 1245.0,847.1 1248.0,846.7 1251.0,846.4 1254.0,846.1 1257.0,845.7 1260.0,845.4 1263.1,845.1 1266.1,844.9 1269.1,844.6 1272.1,844.3 1275.1,844.1 1278.1,843.8 1281.1,843.6 1284.1,843.4 1287.1,843.1 1290.1,842.9 1293.1,842.8 1296.1,842.6 1299.1,842.4 1302.1,842.3 1305.1,842.2 1308.1,842.1 1311.1,842.0 1314.1,841.9 1317.1,841.9 1320.1,841.8 1323.1,841.8 1326.1,841.8 1329.1,841.8 1332.1,841.8 1335.1,841.9 1338.1,841.9 1341.1,842.0 1344.1,842.1 1347.1,842.2 1350.1,842.4 1353.1,842.5 1356.1,842.7 1359.1,842.8 1362.1,843.0 1365.1,843.2 1368.1,843.5 1371.2,843.7 1374.2,843.9 1377.2,844.2 1380.2,844.5 1383.2,844.8 1386.2,845.1 1389.2,845.4 1392.2,845.7 1395.2,846.0 1398.2,846.3 1401.2,846.7 1404.2,847.0 1407.2,847.4 1410.2,847.7 1413.2,848.1 1416.2,848.5 1419.2,848.9 1422.2,849.3 1425.2,849.6 1428.2,850.0 1431.2,850.4 1434.2,850.8 1437.2,851.2 1440.2,851.6 1443.2,852.0 1446.2,852.4 1449.2,852.8 1452.2,853.2 1455.2,853.6 1458.2,854.0 1461.2,854.4 1464.2,854.8 1467.2,855.1 1470.2,855.5 1473.2,855.9 1476.3,856.3 1479.3,856.7 1482.3,857.0 1485.3,857.4 1488.3,857.8 1491.3,858.1 1494.3,858.5 1497.3,858.8 1500.3,859.1 1503.3,859.5 1506.3,859.8 1509.3,860.1 1512.3,860.4 1515.3,860.8 1518.3,861.1 1521.3,861.4 1524.3,861.6 1527.3,861.9 1530.3,862.2 1533.3,862.5 1536.3,862.7 1539.3,863.0 1542.3,863.3 1545.3,863.5 1548.3,863.7 1551.3,864.0 1554.3,864.2 1557.3,864.4 1560.3,864.6 1563.3,864.9 1566.3,865.1 1569.3,865.3 1572.3,865.4 1575.3,865.6 1578.3,865.8 1581.4,866.0 1584.4,866.1 1587.4,866.3 1590.4,866.5 1593.4,866.6 1596.4,866.8 1599.4,866.9 1602.4,867.0 1605.4,867.2 1608.4,867.3 1611.4,867.4 1614.4,867.5 1617.4,867.6 1620.4,867.7 1623.4,867.8 1626.4,867.9 1629.4,868.0 1632.4,868.1 1635.4,868.1 1638.4,868.2 1641.4,868.3 1644.4,868.4 1647.4,868.4 1650.4,868.5 1653.4,868.6 1656.4,868.6 1659.4,868.7 1662.4,868.7 1665.4,868.8 1668.4,868.8 1671.4,868.9 1674.4,868.9 1677.4,869.0 1680.4,869.0 1683.4,869.1 1686.4,869.1 1689.5,869.2 1692.5,869.2 1695.5,869.2 1698.5,869.3 1701.5,869.3 1704.5,869.3 1707.5,869.4 1710.5,869.4 1713.5,869.4 1716.5,869.4 1719.5,869.5 1722.5,869.5 1725.5,869.5 1728.5,869.5 1731.5,869.6 1734.5,869.6 1737.5,869.6 1740.5,869.6 1743.5,869.6 1746.5,869.7 1749.5,869.7 1752.5,869.7 1755.5,869.7 1758.5,869.7 1761.5,869.8 1764.5,869.8 1767.5,869.8 1770.5,869.8 1773.5,869.8 1776.5,869.8 1779.5,869.8 1782.5,869.9 1785.5,869.9 1788.5,869.9 1791.5,869.9 1794.6,869.9 1797.6,869.9 1800.6,869.9 1803.6,870.0 1806.6,870.0 1809.6,870.0 1812.6,870.0 1815.6,870.0 1818.6,870.0 1821.6,870.0 1824.6,870.0 1827.6,870.1 1830.6,870.1 1833.6,870.1 1836.6,870.1 1839.6,870.1 1842.6,870.1 1845.6,870.1 1848.6,870.1 1851.6,870.1 1854.6,870.2 1857.6,870.2 1860.6,870.2 1863.6,870.2 1866.6,870.2 1869.6,870.2 1872.6,870.2 1875.6,870.2 1878.6,870.2 1881.6,870.2 1884.6,870.3 1887.6,870.3 1890.6,870.3 1893.6,870.3 1896.6,870.3 1899.6,870.3 1902.7,870.3 1905.7,870.3 1908.7,870.3 1911.7,870.3 1914.7,870.3 1917.7,870.4 1920.7,870.4 1923.7,870.4 1926.7,870.4 1929.7,870.4 1932.7,870.4 1935.7,870.4 1938.7,870.4 1941.7,870.4 1944.7,870.4 1947.7,870.4 1950.7,870.5 1953.7,870.5 1956.7,870.5 1959.7,870.5 1962.7,870.5 1965.7,870.5 1968.7,870.5 1971.7,870.5 1974.7,870.5 1977.7,870.5 1980.7,870.5 1983.7,870.6 1986.7,870.6 1989.7,870.6 1992.7,870.6 1995.7,870.6 1998.7,870.6 2001.7,870.6 2004.7,870.6 2007.8,870.6 2010.8,870.6 2013.8,870.6 2016.8,870.6 2019.8,870.6 2022.8,870.7 2025.8,870.7 2028.8,870.7 2031.8,870.7 2034.8,870.7 2037.8,870.7 2040.8,870.7 2043.8,870.7 2046.8,870.7 2049.8,870.7 2052.8,870.7 2055.8,870.7 2058.8,870.8 2061.8,870.8 2064.8,870.8 2067.8,870.8 2070.8,870.8 2073.8,870.8 2076.8,870.8 2079.8,870.8 2082.8,870.8 2085.8,870.8 2088.8,870.8 2091.8,870.8 2094.8,870.8 2097.8,870.9 2100.8,870.9 2103.8,870.9 2106.8,870.9 2109.8,870.9 2112.9,870.9 2115.9,870.9 2118.9,870.9 2121.9,870.9 2124.9,870.9 2127.9,870.9 2130.9,870.9 2133.9,870.9 2136.9,871.0 2139.9,871.0 2142.9,871.0 2145.9,871.0 2148.9,871.0 2151.9,871.0 2154.9,871.0 2157.9,871.0 2160.9,871.0 2163.9,871.0 2166.9,871.0 2169.9,871.0 2172.9,871.0 2175.9,871.0 2178.9,871.1 2181.9,871.1 2184.9,871.1 2187.9,871.1 2190.9,871.1 2193.9,871.1 2196.9,871.1 2199.9,871.1 2202.9,871.1 2205.9,871.1 2208.9,871.1 2211.9,871.1 2214.9,871.1 2217.9,871.1 2221.0,871.2 2224.0,871.2 2227.0,871.2 2230.0,871.2 2233.0,871.2 2236.0,871.2 2239.0,871.2 2242.0,871.2 2245.0,871.2 2248.0,871.2 2251.0,871.2 2254.0,871.2 2257.0,871.2 2260.0,871.2 2263.0,871.3 2266.0,871.3 2269.0,871.3 2272.0,871.3" fill="none" stroke="#ff00ff" stroke-width="11.5" stroke-linejoin="round"/>
<path d="M146.0,1133.3 149.0,1133.3 152.0,1133.2 155.0,1133.2 158.0,1133.1 161.0,1133.1 164.0,1133.0 167.0,1133.0 170.0,1132.9 173.0,1132.9 176.0,1132.8 179.0,1132.8 182.0,1132.7 185.0,1132.6 188.0,1132.6 191.0,1132.5 194.0,1132.4 197.0,1132.4 200.1,1132.3 203.1,1132.2 206.1,1132.1 209.1,1132.1 212.1,1132.0 215.1,1131.9 218.1,1131.8 221.1,1131.7 224.1,1131.6 227.1,1131.5 230.1,1131.4 233.1,1131.3 236.1,1131.2 239.1,1131.1 242.1,1131.0 245.1,1130.9 248.1,1130.8 251.1,1130.6 254.1,1130.5 257.1,1130.4 260.1,1130.3 263.1,1130.1 266.1,1130.0 269.1,1129.8 272.1,1129.7 275.1,1129.5 278.1,1129.3 281.1,1129.2 284.1,1129.0 287.1,1128.8 290.1,1128.6 293.1,1128.5 296.1,1128.3 299.1,1128.1 302.1,1127.8 305.1,1127.6 308.2,1127.4 311.2,1127.2 314.2,1126.9 317.2,1126.7 320.2,1126.4 323.2,1126.2 326.2,1125.9 329.2,1125.6 332.2,1125.3 335.2,1125.0 338.2,1124.7 341.2,1124.4 344.2,1124.1 347.2,1123.7 350.2,1123.4 353.2,1123.0 356.2,1122.6 359.2,1122.2 362.2,1121.8 365.2,1121.4 368.2,1120.9 371.2,1120.5 374.2,1120.0 377.2,1119.5 380.2,1119.0 383.2,1118.5 386.2,1118.0 389.2,1117.4 392.2,1116.9 395.2,1116.3 398.2,1115.7 401.2,1115.0 404.2,1114.4 407.2,1113.7 410.2,1113.0 413.3,1112.3 416.3,1111.6 419.3,1110.8 422.3,1110.0 425.3,1109.2 428.3,1108.4 431.3,1107.5 434.3,1106.6 437.3,1105.7 440.3,1104.8 443.3,1103.8 446.3,1102.8 449.3,1101.8 452.3,1100.8 455.3,1099.8 458.3,1098.7 461.3,1097.6 464.3,1096.5 467.3,1095.4 470.3,1094.3 473.3,1093.2 476.3,1092.1 479.3,1091.0 482.3,1089.8 485.3,1088.7 488.3,1087.6 491.3,1086.5 494.3,1085.5 497.3,1084.4 500.3,1083.4 503.3,1082.5 506.3,1081.6 509.3,1080.7 512.3,1079.9 515.3,1079.2 518.4,1078.5 521.4,1078.0 524.4,1077.5 527.4,1077.0 530.4,1076.7 533.4,1076.5 536.4,1076.3 539.4,1076.3 542.4,1076.3 545.4,1076.5 548.4,1076.7 551.4,1077.0 554.4,1077.4 557.4,1077.8 560.4,1078.4 563.4,1079.0 566.4,1079.7 569.4,1080.4 572.4,1081.2 575.4,1082.0 578.4,1082.9 581.4,1083.9 584.4,1084.8 587.4,1085.9 590.4,1086.9 593.4,1087.9 596.4,1089.0 599.4,1090.1 602.4,1091.2 605.4,1092.3 608.4,1093.4 611.4,1094.5 614.4,1095.6 617.4,1096.7 620.4,1097.8 623.4,1098.9 626.5,1099.9 629.5,1101.0 632.5,1102.0 635.5,1103.0 638.5,1104.0 641.5,1105.0 644.5,1106.0 647.5,1106.9 650.5,1107.8 653.5,1108.7 656.5,1109.6 659.5,1110.4 662.5,1111.3 665.5,1112.1 668.5,1112.9 671.5,1113.6 674.5,1114.4 677.5,1115.1 680.5,1115.8 683.5,1116.5 686.5,1117.2 689.5,1117.8 692.5,1118.4 695.5,1119.0 698.5,1119.6 701.5,1120.2 704.5,1120.8 707.5,1121.3 710.5,1121.9 713.5,1122.4 716.5,1122.9 719.5,1123.4 722.5,1123.8 725.5,1124.3 728.5,1124.7 731.6,1125.2 734.6,1125.6 737.6,1126.0 740.6,1126.4 743.6,1126.8 746.6,1127.2 749.6,1127.5 752.6,1127.9 755.6,1128.2 758.6,1128.6 761.6,1128.9 764.6,1129.2 767.6,1129.5 770.6,1129.8 773.6,1130.1 776.6,1130.4 779.6,1130.7 782.6,1131.0 785.6,1131.3 788.6,1131.5 791.6,1131.8 794.6,1132.0 797.6,1132.3 800.6,1132.5 803.6,1132.7 806.6,1132.9 809.6,1133.2 812.6,1133.4 815.6,1133.6 818.6,1133.8 821.6,1134.0 824.6,1134.2 827.6,1134.4 830.6,1134.6 833.6,1134.8 836.6,1134.9 839.7,1135.1 842.7,1135.3 845.7,1135.5 848.7,1135.6 851.7,1135.8 854.7,1135.9 857.7,1136.1 860.7,1136.2 863.7,1136.4 866.7,1136.5 869.7,1136.7 872.7,1136.8 875.7,1137.0 878.7,1137.1 881.7,1137.2 884.7,1137.4 887.7,1137.5 890.7,1137.6 893.7,1137.7 896.7,1137.9 899.7,1138.0 902.7,1138.1 905.7,1138.2 908.7,1138.3 911.7,1138.4 914.7,1138.6 917.7,1138.7 920.7,1138.8 923.7,1138.9 926.7,1139.0 929.7,1139.1 932.7,1139.2 935.7,1139.3 938.7,1139.4 941.7,1139.5 944.8,1139.6 947.8,1139.7 950.8,1139.7 953.8,1139.8 956.8,1139.9 959.8,1140.0 962.8,1140.1 965.8,1140.2 968.8,1140.3 971.8,1140.4 974.8,1140.4 977.8,1140.5 980.8,1140.6 983.8,1140.7 986.8,1140.7 989.8,1140.8 992.8,1140.9 995.8,1141.0 998.8,1141.1 1001.8,1141.1 1004.8,1141.2 1007.8,1141.3 1010.8,1141.3 1013.8,1141.4 1016.8,1141.5 1019.8,1141.5 1022.8,1141.6 1025.8,1141.7 1028.8,1141.7 1031.8,1141.8 1034.8,1141.9 1037.8,1141.9 1040.8,1142.0 1043.8,1142.1 1046.8,1142.1 1049.9,1142.2 1052.9,1142.2 1055.9,1142.3 1058.9,1142.4 1061.9,1142.4 1064.9,1142.5 1067.9,1142.5 1070.9,1142.6 1073.9,1142.7 1076.9,1142.7 1079.9,1142.8 1082.9,1142.8 1085.9,1142.9 1088.9,1142.9 1091.9,1143.0 1094.9,1143.0 1097.9,1143.1 1100.9,1143.1 1103.9,1143.2 1106.9,1143.3 1109.9,1143.3 1112.9,1143.4 1115.9,1143.4 1118.9,1143.5 1121.9,1143.5 1124.9,1143.6 1127.9,1143.6 1130.9,1143.7 1133.9,1143.7 1136.9,1143.7 1139.9,1143.8 1142.9,1143.8 1145.9,1143.9 1148.9,1143.9 1151.9,1144.0 1154.9,1144.0 1158.0,1144.1 1161.0,1144.1 1164.0,1144.2 1167.0,1144.2 1170.0,1144.3 1173.0,1144.3 1176.0,1144.3 1179.0,1144.4 1182.0,1144.4 1185.0,1144.5 1188.0,1144.5 1191.0,1144.6 1194.0,1144.6 1197.0,1144.6 1200.0,1144.7 1203.0,1144.7 1206.0,1144.8 1209.0,1144.8 1212.0,1144.9 1215.0,1144.9 1218.0,1144.9 1221.0,1145.0 1224.0,1145.0 1227.0,1145.1 1230.0,1145.1 1233.0,1145.1 1236.0,1145.2 1239.0,1145.2 1242.0,1145.3 1245.0,1145.4 1248.0,1145.5 1251.0,1145.5 1254.0,1145.6 1257.0,1145.7 1260.0,1145.8 1263.1,1145.9 1266.1,1146.0 1269.1,1146.0 1272.1,1146.1 1275.1,1146.2 1278.1,1146.3 1281.1,1146.4 1284.1,1146.5 1287.1,1146.5 1290.1,1146.6 1293.1,1146.7 1296.1,1146.8 1299.1,1146.9 1302.1,1146.9 1305.1,1147.0 1308.1,1147.1 1311.1,1147.2 1314.1,1147.3 1317.1,1147.4 1320.1,1147.4 1323.1,1147.5 1326.1,1147.6 1329.1,1147.7 1332.1,1147.8 1335.1,1147.8 1338.1,1147.9 1341.1,1148.0 1344.1,1148.1 1347.1,1148.2 1350.1,1148.2 1353.1,1148.3 1356.1,1148.4 1359.1,1148.5 1362.1,1148.5 1365.1,1148.6 1368.1,1148.7 1371.2,1148.8 1374.2,1148.9 1377.2,1148.9 1380.2,1149.0 1383.2,1149.1 1386.2,1149.2 1389.2,1149.3 1392.2,1149.3 1395.2,1149.4 1398.2,1149.5 1401.2,1149.6 1404.2,1149.6 1407.2,1149.7 1410.2,1149.8 1413.2,1149.9 1416.2,1150.0 1419.2,1150.0 1422.2,1150.1 1425.2,1150.2 1428.2,1150.3 1431.2,1150.3 1434.2,1150.4 1437.2,1150.5 1440.2,1150.6 1443.2,1150.6 1446.2,1150.7 1449.2,1150.8 1452.2,1150.9 1455.2,1151.0 1458.2,1151.0 1461.2,1151.1 1464.2,1151.2 1467.2,1151.3 1470.2,1151.3 1473.2,1151.4 1476.3,1151.5 1479.3,1151.6 1482.3,1151.6 1485.3,1151.7 1488.3,1151.8 1491.3,1151.9 1494.3,1151.9 1497.3,1152.0 1500.3,1152.1 1503.3,1152.2 1506.3,1152.2 1509.3,1152.3 1512.3,1152.4 1515.3,1152.5 1518.3,1152.5 1521.3,1152.6 1524.3,1152.7 1527.3,1152.8 1530.3,1152.8 1533.3,1152.9 1536.3,1153.0 1539.3,1153.1 1542.3,1153.1 1545.3,1153.2 1548.3,1153.3 1551.3,1153.4 1554.3,1153.4 1557.3,1153.5 1560.3,1153.6 1563.3,1153.7 1566.3,1153.7 1569.3,1153.8 1572.3,1153.9 1575.3,1154.0 1578.3,1154.0 1581.4,1154.1 1584.4,1154.2 1587.4,1154.3 1590.4,1154.3 1593.4,1154.4 1596.4,1154.5 1599.4,1154.6 1602.4,1154.6 1605.4,1154.7 1608.4,1154.8 1611.4,1154.9 1614.4,1154.9 1617.4,1155.0 1620.4,1155.1 1623.4,1155.2 1626.4,1155.2 1629.4,1155.3 1632.4,1155.4 1635.4,1155.4 1638.4,1155.5 1641.4,1155.6 1644.4,1155.7 1647.4,1155.7 1650.4,1155.8 1653.4,1155.9 1656.4,1156.0 1659.4,1156.0 1662.4,1156.1 1665.4,1156.2 1668.4,1156.3 1671.4,1156.3 1674.4,1156.4 1677.4,1156.5 1680.4,1156.5 1683.4,1156.6 1686.4,1156.7 1689.5,1156.8 1692.5,1156.8 1695.5,1156.9 1698.5,1157.0 1701.5,1157.1 1704.5,1157.1 1707.5,1157.2 1710.5,1157.3 1713.5,1157.4 1716.5,1157.4 1719.5,1157.5 1722.5,1157.6 1725.5,1157.6 1728.5,1157.7 1731.5,1157.8 1734.5,1157.9 1737.5,1157.9 1740.5,1158.0 1743.5,1158.1 1746.5,1158.2 1749.5,1158.2 1752.5,1158.3 1755.5,1158.4 1758.5,1158.4 1761.5,1158.5 1764.5,1158.6 1767.5,1158.7 1770.5,1158.7 1773.5,1158.8 1776.5,1158.9 1779.5,1159.0 1782.5,1159.0 1785.5,1159.1 1788.5,1159.2 1791.5,1159.2 1794.6,1159.3 1797.6,1159.4 1800.6,1159.5 1803.6,1159.5 1806.6,1159.6 1809.6,1159.6 1812.6,1159.7 1815.6,1159.7 1818.6,1159.8 1821.6,1159.8 1824.6,1159.9 1827.6,1159.9 1830.6,1160.0 1833.6,1160.0 1836.6,1160.1 1839.6,1160.1 1842.6,1160.2 1845.6,1160.2 1848.6,1160.3 1851.6,1160.3 1854.6,1160.4 1857.6,1160.4 1860.6,1160.5 1863.6,1160.5 1866.6,1160.6 1869.6,1160.7 1872.6,1160.7 1875.6,1160.8 1878.6,1160.8 1881.6,1160.9 1884.6,1160.9 1887.6,1161.0 1890.6,1161.0 1893.6,1161.1 1896.6,1161.1 1899.6,1161.2 1902.7,1161.2 1905.7,1161.3 1908.7,1161.3 1911.7,1161.4 1914.7,1161.4 1917.7,1161.5 1920.7,1161.5 1923.7,1161.6 1926.7,1161.6 1929.7,1161.7 1932.7,1161.7 1935.7,1161.8 1938.7,1161.8 1941.7,1161.9 1944.7,1161.9 1947.7,1162.0 1950.7,1162.0 1953.7,1162.1 1956.7,1162.1 1959.7,1162.2 1962.7,1162.3 1965.7,1162.3 1968.7,1162.4 1971.7,1162.4 1974.7,1162.5 1977.7,1162.5 1980.7,1162.6 1983.7,1162.6 1986.7,1162.7 1989.7,1162.7 1992.7,1162.8 1995.7,1162.8 1998.7,1162.9 2001.7,1162.9 2004.7,1163.0 2007.8,1163.0 2010.8,1163.1 2013.8,1163.1 2016.8,1163.2 2019.8,1163.2 2022.8,1163.3 2025.8,1163.3 2028.8,1163.4 2031.8,1163.4 2034.8,1163.5 2037.8,1163.5 2040.8,1163.6 2043.8,1163.6 2046.8,1163.7 2049.8,1163.7 2052.8,1163.8 2055.8,1163.8 2058.8,1163.9 2061.8,1163.9 2064.8,1164.0 2067.8,1164.0 2070.8,1164.1 2073.8,1164.1 2076.8,1164.2 2079.8,1164.3 2082.8,1164.3 2085.8,1164.4 2088.8,1164.4 2091.8,1164.5 2094.8,1164.5 2097.8,1164.6 2100.8,1164.6 2103.8,1164.7 2106.8,1164.7 2109.8,1164.8 2112.9,1164.8 2115.9,1164.9 2118.9,1164.9 2121.9,1165.0 2124.9,1165.0 2127.9,1165.1 2130.9,1165.1 2133.9,1165.2 2136.9,1165.2 2139.9,1165.3 2142.9,1165.3 2145.9,1165.4 2148.9,1165.4 2151.9,1165.5 2154.9,1165.5 2157.9,1165.6 2160.9,1165.6 2163.9,1165.7 2166.9,1165.7 2169.9,1165.8 2172.9,1165.8 2175.9,1165.9 2178.9,1165.9 2181.9,1166.0 2184.9,1166.0 2187.9,1166.1 2190.9,1166.1 2193.9,1166.2 2196.9,1166.2 2199.9,1166.3 2202.9,1166.3 2205.9,1166.4 2208.9,1166.4 2211.9,1166.5 2214.9,1166.5 2217.9,1166.6 2221.0,1166.6 2224.0,1166.7 2227.0,1166.7 2230.0,1166.8 2233.0,1166.8 2236.0,1166.9 2239.0,1166.9 2242.0,1167.0 2245.0,1167.0 2248.0,1167.1 2251.0,1167.2 2254.0,1167.2 2257.0,1167.3 2260.0,1167.3 2263.0,1167.4 2266.0,1167.4 2269.0,1167.5 2272.0,1167.5" fill="none" stroke="#0000ff" stroke-width="11.5" stroke-linejoin="round"/>
<path d="M146.0,1137.2 149.0,1137.3 152.0,1137.3 155.0,1137.3 158.0,1137.3 161.0,1137.3 164.0,1137.4 167.0,1137.4 170.0,1137.4 173.0,1137.4 176.0,1137.4 179.0,1137.5 182.0,1137.5 185.0,1137.5 188.0,1137.5 191.0,1137.6 194.0,1137.6 197.0,1137.6 200.1,1137.6 203.1,1137.6 206.1,1137.7 209.1,1137.7 212.1,1137.7 215.1,1137.7 218.1,1137.7 221.1,1137.8 224.1,1137.8 227.1,1137.8 230.1,1137.8 233.1,1137.8 236.1,1137.9 239.1,1137.9 242.1,1137.9 245.1,1137.9 248.1,1137.9 251.1,1138.0 254.1,1138.0 257.1,1138.0 260.1,1138.0 263.1,1138.0 266.1,1138.1 269.1,1138.1 272.1,1138.1 275.1,1138.1 278.1,1138.1 281.1,1138.2 284.1,1138.2 287.1,1138.2 290.1,1138.2 293.1,1138.2 296.1,1138.3 299.1,1138.3 302.1,1138.3 305.1,1138.3 308.2,1138.3 311.2,1138.4 314.2,1138.4 317.2,1138.4 320.2,1138.4 323.2,1138.4 326.2,1138.5 329.2,1138.5 332.2,1138.5 335.2,1138.5 338.2,1138.5 341.2,1138.6 344.2,1138.6 347.2,1138.6 350.2,1138.6 353.2,1138.6 356.2,1138.6 359.2,1138.7 362.2,1138.7 365.2,1138.7 368.2,1138.7 371.2,1138.7 374.2,1138.8 377.2,1138.8 380.2,1138.8 383.2,1138.8 386.2,1138.8 389.2,1138.9 392.2,1138.9 395.2,1138.9 398.2,1138.9 401.2,1138.9 404.2,1138.9 407.2,1139.0 410.2,1139.0 413.3,1139.0 416.3,1139.0 419.3,1139.0 422.3,1139.0 425.3,1139.1 428.3,1139.1 431.3,1139.1 434.3,1139.1 437.3,1139.1 440.3,1139.2 443.3,1139.2 446.3,1139.2 449.3,1139.2 452.3,1139.2 455.3,1139.2 458.3,1139.3 461.3,1139.3 464.3,1139.3 467.3,1139.3 470.3,1139.3 473.3,1139.3 476.3,1139.4 479.3,1139.4 482.3,1139.4 485.3,1139.4 488.3,1139.4 491.3,1139.4 494.3,1139.5 497.3,1139.5 500.3,1139.5 503.3,1139.5 506.3,1139.5 509.3,1139.5 512.3,1139.5 515.3,1139.6 518.4,1139.6 521.4,1139.6 524.4,1139.6 527.4,1139.6 530.4,1139.6 533.4,1139.7 536.4,1139.7 539.4,1139.7 542.4,1139.7 545.4,1139.7 548.4,1139.7 551.4,1139.7 554.4,1139.8 557.4,1139.8 560.4,1139.8 563.4,1139.8 566.4,1139.8 569.4,1139.8 572.4,1139.8 575.4,1139.9 578.4,1139.9 581.4,1139.9 584.4,1139.9 587.4,1139.9 590.4,1139.9 593.4,1139.9 596.4,1139.9 599.4,1140.0 602.4,1140.0 605.4,1140.0 608.4,1140.0 611.4,1140.0 614.4,1140.0 617.4,1140.0 620.4,1140.0 623.4,1140.0 626.5,1140.1 629.5,1140.1 632.5,1140.1 635.5,1140.1 638.5,1140.1 641.5,1140.1 644.5,1140.1 647.5,1140.1 650.5,1140.1 653.5,1140.2 656.5,1140.2 659.5,1140.2 662.5,1140.2 665.5,1140.2 668.5,1140.2 671.5,1140.2 674.5,1140.2 677.5,1140.2 680.5,1140.2 683.5,1140.2 686.5,1140.3 689.5,1140.3 692.5,1140.3 695.5,1140.3 698.5,1140.3 701.5,1140.3 704.5,1140.3 707.5,1140.3 710.5,1140.3 713.5,1140.3 716.5,1140.3 719.5,1140.3 722.5,1140.3 725.5,1140.3 728.5,1140.3 731.6,1140.3 734.6,1140.4 737.6,1140.4 740.6,1140.4 743.6,1140.4 746.6,1140.4 749.6,1140.4 752.6,1140.4 755.6,1140.4 758.6,1140.4 761.6,1140.4 764.6,1140.4 767.6,1140.4 770.6,1140.4 773.6,1140.4 776.6,1140.4 779.6,1140.4 782.6,1140.4 785.6,1140.4 788.6,1140.4 791.6,1140.4 794.6,1140.4 797.6,1140.4 800.6,1140.4 803.6,1140.4 806.6,1140.4 809.6,1140.4 812.6,1140.4 815.6,1140.4 818.6,1140.4 821.6,1140.4 824.6,1140.3 827.6,1140.3 830.6,1140.3 833.6,1140.3 836.6,1140.3 839.7,1140.3 842.7,1140.3 845.7,1140.3 848.7,1140.3 851.7,1140.3 854.7,1140.3 857.7,1140.3 860.7,1140.3 863.7,1140.2 866.7,1140.2 869.7,1140.2 872.7,1140.2 875.7,1140.2 878.7,1140.2 881.7,1140.2 884.7,1140.1 887.7,1140.1 890.7,1140.1 893.7,1140.1 896.7,1140.1 899.7,1140.1 902.7,1140.0 905.7,1140.0 908.7,1140.0 911.7,1140.0 914.7,1140.0 917.7,1139.9 920.7,1139.9 923.7,1139.9 926.7,1139.9 929.7,1139.8 932.7,1139.8 935.7,1139.8 938.7,1139.8 941.7,1139.7 944.8,1139.7 947.8,1139.7 950.8,1139.6 953.8,1139.6 956.8,1139.6 959.8,1139.5 962.8,1139.5 965.8,1139.5 968.8,1139.4 971.8,1139.4 974.8,1139.3 977.8,1139.3 980.8,1139.3 983.8,1139.2 986.8,1139.2 989.8,1139.1 992.8,1139.1 995.8,1139.0 998.8,1139.0 1001.8,1138.9 1004.8,1138.9 1007.8,1138.8 1010.8,1138.8 1013.8,1138.7 1016.8,1138.7 1019.8,1138.6 1022.8,1138.5 1025.8,1138.5 1028.8,1138.4 1031.8,1138.3 1034.8,1138.3 1037.8,1138.2 1040.8,1138.1 1043.8,1138.0 1046.8,1138.0 1049.9,1137.9 1052.9,1137.8 1055.9,1137.7 1058.9,1137.6 1061.9,1137.6 1064.9,1137.5 1067.9,1137.4 1070.9,1137.3 1073.9,1137.2 1076.9,1137.1 1079.9,1137.0 1082.9,1136.9 1085.9,1136.8 1088.9,1136.7 1091.9,1136.5 1094.9,1136.4 1097.9,1136.3 1100.9,1136.2 1103.9,1136.1 1106.9,1135.9 1109.9,1135.8 1112.9,1135.7 1115.9,1135.5 1118.9,1135.4 1121.9,1135.2 1124.9,1135.1 1127.9,1134.9 1130.9,1134.7 1133.9,1134.6 1136.9,1134.4 1139.9,1134.2 1142.9,1134.1 1145.9,1133.9 1148.9,1133.7 1151.9,1133.5 1154.9,1133.3 1158.0,1133.1 1161.0,1132.9 1164.0,1132.6 1167.0,1132.4 1170.0,1132.2 1173.0,1131.9 1176.0,1131.7 1179.0,1131.4 1182.0,1131.2 1185.0,1130.9 1188.0,1130.6 1191.0,1130.3 1194.0,1130.1 1197.0,1129.8 1200.0,1129.4 1203.0,1129.1 1206.0,1128.8 1209.0,1128.4 1212.0,1128.1 1215.0,1127.7 1218.0,1127.4 1221.0,1127.0 1224.0,1126.6 1227.0,1126.2 1230.0,1125.8 1233.0,1125.3 1236.0,1124.9 1239.0,1124.4 1242.0,1124.0 1245.0,1123.5 1248.0,1123.1 1251.0,1122.6 1254.0,1122.1 1257.0,1121.6 1260.0,1121.0 1263.1,1120.5 1266.1,1119.9 1269.1,1119.3 1272.1,1118.7 1275.1,1118.1 1278.1,1117.5 1281.1,1116.8 1284.1,1116.1 1287.1,1115.4 1290.1,1114.6 1293.1,1113.9 1296.1,1113.1 1299.1,1112.2 1302.1,1111.4 1305.1,1110.5 1308.1,1109.6 1311.1,1108.7 1314.1,1107.7 1317.1,1106.7 1320.1,1105.7 1323.1,1104.6 1326.1,1103.6 1329.1,1102.4 1332.1,1101.3 1335.1,1100.1 1338.1,1098.9 1341.1,1097.6 1344.1,1096.3 1347.1,1095.0 1350.1,1093.7 1353.1,1092.3 1356.1,1090.9 1359.1,1089.5 1362.1,1088.0 1365.1,1086.5 1368.1,1085.0 1371.2,1083.5 1374.2,1082.0 1377.2,1080.4 1380.2,1078.9 1383.2,1077.3 1386.2,1075.7 1389.2,1074.2 1392.2,1072.6 1395.2,1071.1 1398.2,1069.6 1401.2,1068.1 1404.2,1066.7 1407.2,1065.3 1410.2,1063.9 1413.2,1062.6 1416.2,1061.4 1419.2,1060.3 1422.2,1059.2 1425.2,1058.3 1428.2,1057.4 1431.2,1056.7 1434.2,1056.0 1437.2,1055.5 1440.2,1055.1 1443.2,1054.8 1446.2,1054.6 1449.2,1054.6 1452.2,1054.7 1455.2,1054.9 1458.2,1055.2 1461.2,1055.6 1464.2,1056.1 1467.2,1056.7 1470.2,1057.4 1473.2,1058.2 1476.3,1059.1 1479.3,1060.1 1482.3,1061.2 1485.3,1062.3 1488.3,1063.5 1491.3,1064.7 1494.3,1066.0 1497.3,1067.4 1500.3,1068.8 1503.3,1070.2 1506.3,1071.7 1509.3,1073.2 1512.3,1074.7 1515.3,1076.2 1518.3,1077.7 1521.3,1079.3 1524.3,1080.8 1527.3,1082.4 1530.3,1083.9 1533.3,1085.5 1536.3,1087.0 1539.3,1088.5 1542.3,1090.0 1545.3,1091.5 1548.3,1093.0 1551.3,1094.4 1554.3,1095.8 1557.3,1097.2 1560.3,1098.6 1563.3,1100.0 1566.3,1101.3 1569.3,1102.6 1572.3,1103.9 1575.3,1105.1 1578.3,1106.3 1581.4,1107.5 1584.4,1108.7 1587.4,1109.9 1590.4,1111.0 1593.4,1112.1 1596.4,1113.1 1599.4,1114.2 1602.4,1115.2 1605.4,1116.2 1608.4,1117.1 1611.4,1118.1 1614.4,1119.0 1617.4,1119.9 1620.4,1120.7 1623.4,1121.6 1626.4,1122.4 1629.4,1123.2 1632.4,1124.0 1635.4,1124.8 1638.4,1125.5 1641.4,1126.3 1644.4,1127.0 1647.4,1127.7 1650.4,1128.3 1653.4,1129.0 1656.4,1129.7 1659.4,1130.3 1662.4,1130.9 1665.4,1131.5 1668.4,1132.1 1671.4,1132.7 1674.4,1133.2 1677.4,1133.8 1680.4,1134.3 1683.4,1134.8 1686.4,1135.3 1689.5,1135.8 1692.5,1136.3 1695.5,1136.8 1698.5,1137.2 1701.5,1137.7 1704.5,1138.1 1707.5,1138.6 1710.5,1139.0 1713.5,1139.4 1716.5,1139.8 1719.5,1140.2 1722.5,1140.6 1725.5,1141.0 1728.5,1141.4 1731.5,1141.7 1734.5,1142.1 1737.5,1142.5 1740.5,1142.8 1743.5,1143.1 1746.5,1143.5 1749.5,1143.8 1752.5,1144.1 1755.5,1144.4 1758.5,1144.8 1761.5,1145.1 1764.5,1145.4 1767.5,1145.6 1770.5,1145.9 1773.5,1146.2 1776.5,1146.5 1779.5,1146.8 1782.5,1147.0 1785.5,1147.3 1788.5,1147.6 1791.5,1147.8 1794.6,1148.1 1797.6,1148.3 1800.6,1148.6 1803.6,1148.8 1806.6,1149.0 1809.6,1149.2 1812.6,1149.4 1815.6,1149.6 1818.6,1149.8 1821.6,1150.0 1824.6,1150.2 1827.6,1150.4 1830.6,1150.6 1833.6,1150.8 1836.6,1151.0 1839.6,1151.2 1842.6,1151.4 1845.6,1151.5 1848.6,1151.7 1851.6,1151.9 1854.6,1152.1 1857.6,1152.2 1860.6,1152.4 1863.6,1152.5 1866.6,1152.7 1869.6,1152.9 1872.6,1153.0 1875.6,1153.2 1878.6,1153.3 1881.6,1153.5 1884.6,1153.6 1887.6,1153.8 1890.6,1153.9 1893.6,1154.1 1896.6,1154.2 1899.6,1154.4 1902.7,1154.5 1905.7,1154.6 1908.7,1154.8 1911.7,1154.9 1914.7,1155.0 1917.7,1155.2 1920.7,1155.3 1923.7,1155.4 1926.7,1155.6 1929.7,1155.7 1932.7,1155.8 1935.7,1155.9 1938.7,1156.0 1941.7,1156.2 1944.7,1156.3 1947.7,1156.4 1950.7,1156.5 1953.7,1156.6 1956.7,1156.8 1959.7,1156.9 1962.7,1157.0 1965.7,1157.1 1968.7,1157.2 1971.7,1157.3 1974.7,1157.4 1977.7,1157.5 1980.7,1157.6 1983.7,1157.7 1986.7,1157.9 1989.7,1158.0 1992.7,1158.1 1995.7,1158.2 1998.7,1158.3 2001.7,1158.4 2004.7,1158.5 2007.8,1158.6 2010.8,1158.7 2013.8,1158.8 2016.8,1158.9 2019.8,1159.0 2022.8,1159.1 2025.8,1159.1 2028.8,1159.2 2031.8,1159.3 2034.8,1159.4 2037.8,1159.5 2040.8,1159.6 2043.8,1159.7 2046.8,1159.8 2049.8,1159.9 2052.8,1160.0 2055.8,1160.1 2058.8,1160.2 2061.8,1160.2 2064.8,1160.3 2067.8,1160.4 2070.8,1160.5 2073.8,1160.6 2076.8,1160.7 2079.8,1160.8 2082.8,1160.9 2085.8,1160.9 2088.8,1161.0 2091.8,1161.1 2094.8,1161.2 2097.8,1161.3 2100.8,1161.3 2103.8,1161.4 2106.8,1161.5 2109.8,1161.6 2112.9,1161.7 2115.9,1161.8 2118.9,1161.8 2121.9,1161.9 2124.9,1162.0 2127.9,1162.1 2130.9,1162.1 2133.9,1162.2 2136.9,1162.3 2139.9,1162.4 2142.9,1162.5 2145.9,1162.5 2148.9,1162.6 2151.9,1162.7 2154.9,1162.8 2157.9,1162.8 2160.9,1162.9 2163.9,1163.0 2166.9,1163.1 2169.9,1163.1 2172.9,1163.2 2175.9,1163.3 2178.9,1163.4 2181.9,1163.4 2184.9,1163.5 2187.9,1163.6 2190.9,1163.6 2193.9,1163.7 2196.9,1163.8 2199.9,1163.9 2202.9,1163.9 2205.9,1164.0 2208.9,1164.1 2211.9,1164.1 2214.9,1164.2 2217.9,1164.3 2221.0,1164.3 2224.0,1164.4 2227.0,1164.5 2230.0,1164.6 2233.0,1164.6 2236.0,1164.7 2239.0,1164.8 2242.0,1164.8 2245.0,1164.9 2248.0,1165.0 2251.0,1165.0 2254.0,1165.1 2257.0,1165.2 2260.0,1165.2 2263.0,1165.3 2266.0,1165.4 2269.0,1165.4 2272.0,1165.5" fill="none" stroke="#0000ff" stroke-width="11.5" stroke-linejoin="round"/>
<path d="M146.0,1136.1 149.0,1136.1 152.0,1136.0 155.0,1136.0 158.0,1135.9 161.0,1135.8 164.0,1135.8 167.0,1135.7 170.0,1135.6 173.0,1135.6 176.0,1135.5 179.0,1135.4 182.0,1135.3 185.0,1135.3 188.0,1135.2 191.0,1135.1 194.0,1135.0 197.0,1134.9 200.1,1134.8 203.1,1134.7 206.1,1134.6 209.1,1134.5 212.1,1134.3 215.1,1134.2 218.1,1134.1 221.1,1134.0 224.1,1133.8 227.1,1133.7 230.1,1133.5 233.1,1133.4 236.1,1133.2 239.1,1133.0 242.1,1132.9 245.1,1132.7 248.1,1132.5 251.1,1132.3 254.1,1132.1 257.1,1131.9 260.1,1131.6 263.1,1131.4 266.1,1131.2 269.1,1130.9 272.1,1130.7 275.1,1130.4 278.1,1130.1 281.1,1129.8 284.1,1129.5 287.1,1129.2 290.1,1128.9 293.1,1128.5 296.1,1128.2 299.1,1127.8 302.1,1127.4 305.1,1127.0 308.2,1126.6 311.2,1126.2 314.2,1125.8 317.2,1125.3 320.2,1124.9 323.2,1124.4 326.2,1123.9 329.2,1123.4 332.2,1122.9 335.2,1122.3 338.2,1121.8 341.2,1121.2 344.2,1120.6 347.2,1120.1 350.2,1119.5 353.2,1118.9 356.2,1118.2 359.2,1117.6 362.2,1117.0 365.2,1116.4 368.2,1115.8 371.2,1115.2 374.2,1114.6 377.2,1114.0 380.2,1113.5 383.2,1112.9 386.2,1112.4 389.2,1111.9 392.2,1111.5 395.2,1111.1 398.2,1110.7 401.2,1110.4 404.2,1110.1 407.2,1109.8 410.2,1109.7 413.3,1109.6 416.3,1109.5 419.3,1109.5 422.3,1109.6 425.3,1109.8 428.3,1110.0 431.3,1110.4 434.3,1110.8 437.3,1111.3 440.3,1111.8 443.3,1112.5 446.3,1113.1 449.3,1113.9 452.3,1114.6 455.3,1115.4 458.3,1116.2 461.3,1117.0 464.3,1117.8 467.3,1118.6 470.3,1119.5 473.3,1120.3 476.3,1121.1 479.3,1121.9 482.3,1122.6 485.3,1123.4 488.3,1124.1 491.3,1124.8 494.3,1125.5 497.3,1126.2 500.3,1126.8 503.3,1127.4 506.3,1128.0 509.3,1128.6 512.3,1129.1 515.3,1129.7 518.4,1130.2 521.4,1130.7 524.4,1131.1 527.4,1131.6 530.4,1132.0 533.4,1132.4 536.4,1132.8 539.4,1133.2 542.4,1133.6 545.4,1133.9 548.4,1134.3 551.4,1134.6 554.4,1134.9 557.4,1135.2 560.4,1135.5 563.4,1135.7 566.4,1136.0 569.4,1136.3 572.4,1136.5 575.4,1136.7 578.4,1137.0 581.4,1137.2 584.4,1137.4 587.4,1137.6 590.4,1137.8 593.4,1138.0 596.4,1138.2 599.4,1138.4 602.4,1138.5 605.4,1138.7 608.4,1138.8 611.4,1139.0 614.4,1139.2 617.4,1139.3 620.4,1139.4 623.4,1139.6 626.5,1139.7 629.5,1139.8 632.5,1140.0 635.5,1140.1 638.5,1140.2 641.5,1140.3 644.5,1140.4 647.5,1140.5 650.5,1140.7 653.5,1140.8 656.5,1140.9 659.5,1141.0 662.5,1141.1 665.5,1141.2 668.5,1141.2 671.5,1141.3 674.5,1141.4 677.5,1141.5 680.5,1141.6 683.5,1141.7 686.5,1141.8 689.5,1141.8 692.5,1141.9 695.5,1142.0 698.5,1142.1 701.5,1142.1 704.5,1142.2 707.5,1142.3 710.5,1142.4 713.5,1142.4 716.5,1142.5 719.5,1142.6 722.5,1142.6 725.5,1142.7 728.5,1142.7 731.6,1142.8 734.6,1142.9 737.6,1142.9 740.6,1143.0 743.6,1143.0 746.6,1143.1 749.6,1143.2 752.6,1143.2 755.6,1143.3 758.6,1143.3 761.6,1143.4 764.6,1143.4 767.6,1143.5 770.6,1143.5 773.6,1143.6 776.6,1143.6 779.6,1143.7 782.6,1143.7 785.6,1143.8 788.6,1143.8 791.6,1143.9 794.6,1143.9 797.6,1144.0 800.6,1144.0 803.6,1144.1 806.6,1144.1 809.6,1144.1 812.6,1144.2 815.6,1144.2 818.6,1144.3 821.6,1144.3 824.6,1144.4 827.6,1144.4 830.6,1144.4 833.6,1144.5 836.6,1144.5 839.7,1144.6 842.7,1144.6 845.7,1144.6 848.7,1144.7 851.7,1144.7 854.7,1144.8 857.7,1144.8 860.7,1144.8 863.7,1144.9 866.7,1144.9 869.7,1145.0 872.7,1145.0 875.7,1145.0 878.7,1145.1 881.7,1145.1 884.7,1145.1 887.7,1145.2 890.7,1145.2 893.7,1145.2 896.7,1145.3 899.7,1145.3 902.7,1145.4 905.7,1145.4 908.7,1145.4 911.7,1145.5 914.7,1145.5 917.7,1145.5 920.7,1145.6 923.7,1145.6 926.7,1145.6 929.7,1145.7 932.7,1145.7 935.7,1145.7 938.7,1145.8 941.7,1145.8 944.8,1145.8 947.8,1145.9 950.8,1145.9 953.8,1145.9 956.8,1146.0 959.8,1146.0 962.8,1146.0 965.8,1146.1 968.8,1146.1 971.8,1146.1 974.8,1146.2 977.8,1146.2 980.8,1146.2 983.8,1146.2 986.8,1146.3 989.8,1146.3 992.8,1146.3 995.8,1146.4 998.8,1146.4 1001.8,1146.4 1004.8,1146.5 1007.8,1146.5 1010.8,1146.5 1013.8,1146.6 1016.8,1146.6 1019.8,1146.6 1022.8,1146.6 1025.8,1146.7 1028.8,1146.7 1031.8,1146.7 1034.8,1146.8 1037.8,1146.8 1040.8,1146.8 1043.8,1146.9 1046.8,1146.9 1049.9,1146.9 1052.9,1146.9 1055.9,1147.0 1058.9,1147.0 1061.9,1147.0 1064.9,1147.1 1067.9,1147.1 1070.9,1147.1 1073.9,1147.2 1076.9,1147.2 1079.9,1147.2 1082.9,1147.2 1085.9,1147.3 1088.9,1147.3 1091.9,1147.3 1094.9,1147.4 1097.9,1147.4 1100.9,1147.4 1103.9,1147.4 1106.9,1147.5 1109.9,1147.5 1112.9,1147.5 1115.9,1147.6 1118.9,1147.6 1121.9,1147.6 1124.9,1147.6 1127.9,1147.7 1130.9,1147.7 1133.9,1147.7 1136.9,1147.8 1139.9,1147.8 1142.9,1147.8 1145.9,1147.8 1148.9,1147.9 1151.9,1147.9 1154.9,1147.9 1158.0,1147.9 1161.0,1148.0 1164.0,1148.0 1167.0,1148.0 1170.0,1148.1 1173.0,1148.1 1176.0,1148.1 1179.0,1148.1 1182.0,1148.2 1185.0,1148.2 1188.0,1148.2 1191.0,1148.2 1194.0,1148.3 1197.0,1148.3 1200.0,1148.3 1203.0,1148.4 1206.0,1148.4 1209.0,1148.4 1212.0,1148.4 1215.0,1148.5 1218.0,1148.5 1221.0,1148.5 1224.0,1148.5 1227.0,1148.6 1230.0,1148.6 1233.0,1148.6 1236.0,1148.7 1239.0,1148.7 1242.0,1148.7 1245.0,1148.8 1248.0,1148.9 1251.0,1149.0 1254.0,1149.0 1257.0,1149.1 1260.0,1149.2 1263.1,1149.2 1266.1,1149.3 1269.1,1149.4 1272.1,1149.5 1275.1,1149.5 1278.1,1149.6 1281.1,1149.7 1284.1,1149.7 1287.1,1149.8 1290.1,1149.9 1293.1,1150.0 1296.1,1150.0 1299.1,1150.1 1302.1,1150.2 1305.1,1150.2 1308.1,1150.3 1311.1,1150.4 1314.1,1150.5 1317.1,1150.5 1320.1,1150.6 1323.1,1150.7 1326.1,1150.7 1329.1,1150.8 1332.1,1150.9 1335.1,1151.0 1338.1,1151.0 1341.1,1151.1 1344.1,1151.2 1347.1,1151.2 1350.1,1151.3 1353.1,1151.4 1356.1,1151.5 1359.1,1151.5 1362.1,1151.6 1365.1,1151.7 1368.1,1151.7 1371.2,1151.8 1374.2,1151.9 1377.2,1152.0 1380.2,1152.0 1383.2,1152.1 1386.2,1152.2 1389.2,1152.2 1392.2,1152.3 1395.2,1152.4 1398.2,1152.5 1401.2,1152.5 1404.2,1152.6 1407.2,1152.7 1410.2,1152.7 1413.2,1152.8 1416.2,1152.9 1419.2,1153.0 1422.2,1153.0 1425.2,1153.1 1428.2,1153.2 1431.2,1153.2 1434.2,1153.3 1437.2,1153.4 1440.2,1153.4 1443.2,1153.5 1446.2,1153.6 1449.2,1153.7 1452.2,1153.7 1455.2,1153.8 1458.2,1153.9 1461.2,1153.9 1464.2,1154.0 1467.2,1154.1 1470.2,1154.2 1473.2,1154.2 1476.3,1154.3 1479.3,1154.4 1482.3,1154.4 1485.3,1154.5 1488.3,1154.6 1491.3,1154.7 1494.3,1154.7 1497.3,1154.8 1500.3,1154.9 1503.3,1154.9 1506.3,1155.0 1509.3,1155.1 1512.3,1155.1 1515.3,1155.2 1518.3,1155.3 1521.3,1155.4 1524.3,1155.4 1527.3,1155.5 1530.3,1155.6 1533.3,1155.6 1536.3,1155.7 1539.3,1155.8 1542.3,1155.9 1545.3,1155.9 1548.3,1156.0 1551.3,1156.1 1554.3,1156.1 1557.3,1156.2 1560.3,1156.3 1563.3,1156.3 1566.3,1156.4 1569.3,1156.5 1572.3,1156.6 1575.3,1156.6 1578.3,1156.7 1581.4,1156.8 1584.4,1156.8 1587.4,1156.9 1590.4,1157.0 1593.4,1157.1 1596.4,1157.1 1599.4,1157.2 1602.4,1157.3 1605.4,1157.3 1608.4,1157.4 1611.4,1157.5 1614.4,1157.5 1617.4,1157.6 1620.4,1157.7 1623.4,1157.8 1626.4,1157.8 1629.4,1157.9 1632.4,1158.0 1635.4,1158.0 1638.4,1158.1 1641.4,1158.2 1644.4,1158.2 1647.4,1158.3 1650.4,1158.4 1653.4,1158.5 1656.4,1158.5 1659.4,1158.6 1662.4,1158.7 1665.4,1158.7 1668.4,1158.8 1671.4,1158.9 1674.4,1159.0 1677.4,1159.0 1680.4,1159.1 1683.4,1159.2 1686.4,1159.2 1689.5,1159.3 1692.5,1159.4 1695.5,1159.4 1698.5,1159.5 1701.5,1159.6 1704.5,1159.7 1707.5,1159.7 1710.5,1159.8 1713.5,1159.9 1716.5,1159.9 1719.5,1160.0 1722.5,1160.1 1725.5,1160.1 1728.5,1160.2 1731.5,1160.3 1734.5,1160.4 1737.5,1160.4 1740.5,1160.5 1743.5,1160.6 1746.5,1160.6 1749.5,1160.7 1752.5,1160.8 1755.5,1160.9 1758.5,1160.9 1761.5,1161.0 1764.5,1161.1 1767.5,1161.1 1770.5,1161.2 1773.5,1161.3 1776.5,1161.3 1779.5,1161.4 1782.5,1161.5 1785.5,1161.6 1788.5,1161.6 1791.5,1161.7 1794.6,1161.8 1797.6,1161.8 1800.6,1161.9 1803.6,1161.9 1806.6,1162.0 1809.6,1162.1 1812.6,1162.1 1815.6,1162.2 1818.6,1162.2 1821.6,1162.3 1824.6,1162.3 1827.6,1162.4 1830.6,1162.4 1833.6,1162.5 1836.6,1162.5 1839.6,1162.6 1842.6,1162.6 1845.6,1162.7 1848.6,1162.7 1851.6,1162.8 1854.6,1162.8 1857.6,1162.9 1860.6,1162.9 1863.6,1163.0 1866.6,1163.0 1869.6,1163.1 1872.6,1163.1 1875.6,1163.2 1878.6,1163.2 1881.6,1163.3 1884.6,1163.3 1887.6,1163.4 1890.6,1163.4 1893.6,1163.5 1896.6,1163.5 1899.6,1163.6 1902.7,1163.6 1905.7,1163.7 1908.7,1163.7 1911.7,1163.8 1914.7,1163.8 1917.7,1163.9 1920.7,1163.9 1923.7,1164.0 1926.7,1164.0 1929.7,1164.1 1932.7,1164.1 1935.7,1164.2 1938.7,1164.2 1941.7,1164.3 1944.7,1164.3 1947.7,1164.4 1950.7,1164.4 1953.7,1164.5 1956.7,1164.5 1959.7,1164.6 1962.7,1164.6 1965.7,1164.7 1968.7,1164.7 1971.7,1164.8 1974.7,1164.8 1977.7,1164.9 1980.7,1164.9 1983.7,1165.0 1986.7,1165.0 1989.7,1165.1 1992.7,1165.1 1995.7,1165.2 1998.7,1165.2 2001.7,1165.3 2004.7,1165.3 2007.8,1165.4 2010.8,1165.4 2013.8,1165.5 2016.8,1165.5 2019.8,1165.6 2022.8,1165.6 2025.8,1165.6 2028.8,1165.7 2031.8,1165.7 2034.8,1165.8 2037.8,1165.8 2040.8,1165.9 2043.8,1165.9 2046.8,1166.0 2049.8,1166.0 2052.8,1166.1 2055.8,1166.1 2058.8,1166.2 2061.8,1166.2 2064.8,1166.3 2067.8,1166.3 2070.8,1166.4 2073.8,1166.4 2076.8,1166.5 2079.8,1166.5 2082.8,1166.6 2085.8,1166.6 2088.8,1166.7 2091.8,1166.7 2094.8,1166.8 2097.8,1166.8 2100.8,1166.9 2103.8,1166.9 2106.8,1167.0 2109.8,1167.0 2112.9,1167.1 2115.9,1167.1 2118.9,1167.2 2121.9,1167.2 2124.9,1167.3 2127.9,1167.3 2130.9,1167.4 2133.9,1167.4 2136.9,1167.5 2139.9,1167.5 2142.9,1167.6 2145.9,1167.6 2148.9,1167.7 2151.9,1167.7 2154.9,1167.8 2157.9,1167.8 2160.9,1167.9 2163.9,1167.9 2166.9,1168.0 2169.9,1168.0 2172.9,1168.1 2175.9,1168.1 2178.9,1168.2 2181.9,1168.2 2184.9,1168.3 2187.9,1168.3 2190.9,1168.4 2193.9,1168.4 2196.9,1168.5 2199.9,1168.5 2202.9,1168.6 2205.9,1168.6 2208.9,1168.7 2211.9,1168.7 2214.9,1168.8 2217.9,1168.8 2221.0,1168.9 2224.0,1168.9 2227.0,1169.0 2230.0,1169.0 2233.0,1169.1 2236.0,1169.1 2239.0,1169.2 2242.0,1169.2 2245.0,1169.3 2248.0,1169.3 2251.0,1169.4 2254.0,1169.4 2257.0,1169.5 2260.0,1169.5 2263.0,1169.6 2266.0,1169.6 2269.0,1169.7 2272.0,1169.7" fill="none" stroke="#ff00ff" stroke-width="11.5" stroke-linejoin="round"/>
<path d="M146.0,1139.7 149.0,1139.7 152.0,1139.7 155.0,1139.7 158.0,1139.8 161.0,1139.8 164.0,1139.8 167.0,1139.8 170.0,1139.9 173.0,1139.9 176.0,1139.9 179.0,1139.9 182.0,1139.9 185.0,1140.0 188.0,1140.0 191.0,1140.0 194.0,1140.0 197.0,1140.1 200.1,1140.1 203.1,1140.1 206.1,1140.1 209.1,1140.1 212.1,1140.2 215.1,1140.2 218.1,1140.2 221.1,1140.2 224.1,1140.3 227.1,1140.3 230.1,1140.3 233.1,1140.3 236.1,1140.4 239.1,1140.4 242.1,1140.4 245.1,1140.4 248.1,1140.4 251.1,1140.5 254.1,1140.5 257.1,1140.5 260.1,1140.5 263.1,1140.6 266.1,1140.6 269.1,1140.6 272.1,1140.6 275.1,1140.6 278.1,1140.7 281.1,1140.7 284.1,1140.7 287.1,1140.7 290.1,1140.8 293.1,1140.8 296.1,1140.8 299.1,1140.8 302.1,1140.8 305.1,1140.9 308.2,1140.9 311.2,1140.9 314.2,1140.9 317.2,1141.0 320.2,1141.0 323.2,1141.0 326.2,1141.0 329.2,1141.0 332.2,1141.1 335.2,1141.1 338.2,1141.1 341.2,1141.1 344.2,1141.2 347.2,1141.2 350.2,1141.2 353.2,1141.2 356.2,1141.2 359.2,1141.3 362.2,1141.3 365.2,1141.3 368.2,1141.3 371.2,1141.3 374.2,1141.4 377.2,1141.4 380.2,1141.4 383.2,1141.4 386.2,1141.5 389.2,1141.5 392.2,1141.5 395.2,1141.5 398.2,1141.5 401.2,1141.6 404.2,1141.6 407.2,1141.6 410.2,1141.6 413.3,1141.6 416.3,1141.7 419.3,1141.7 422.3,1141.7 425.3,1141.7 428.3,1141.8 431.3,1141.8 434.3,1141.8 437.3,1141.8 440.3,1141.8 443.3,1141.9 446.3,1141.9 449.3,1141.9 452.3,1141.9 455.3,1141.9 458.3,1142.0 461.3,1142.0 464.3,1142.0 467.3,1142.0 470.3,1142.0 473.3,1142.1 476.3,1142.1 479.3,1142.1 482.3,1142.1 485.3,1142.1 488.3,1142.2 491.3,1142.2 494.3,1142.2 497.3,1142.2 500.3,1142.2 503.3,1142.3 506.3,1142.3 509.3,1142.3 512.3,1142.3 515.3,1142.3 518.4,1142.4 521.4,1142.4 524.4,1142.4 527.4,1142.4 530.4,1142.4 533.4,1142.5 536.4,1142.5 539.4,1142.5 542.4,1142.5 545.4,1142.5 548.4,1142.6 551.4,1142.6 554.4,1142.6 557.4,1142.6 560.4,1142.6 563.4,1142.7 566.4,1142.7 569.4,1142.7 572.4,1142.7 575.4,1142.7 578.4,1142.7 581.4,1142.8 584.4,1142.8 587.4,1142.8 590.4,1142.8 593.4,1142.8 596.4,1142.9 599.4,1142.9 602.4,1142.9 605.4,1142.9 608.4,1142.9 611.4,1142.9 614.4,1143.0 617.4,1143.0 620.4,1143.0 623.4,1143.0 626.5,1143.0 629.5,1143.0 632.5,1143.1 635.5,1143.1 638.5,1143.1 641.5,1143.1 644.5,1143.1 647.5,1143.1 650.5,1143.2 653.5,1143.2 656.5,1143.2 659.5,1143.2 662.5,1143.2 665.5,1143.2 668.5,1143.3 671.5,1143.3 674.5,1143.3 677.5,1143.3 680.5,1143.3 683.5,1143.3 686.5,1143.3 689.5,1143.4 692.5,1143.4 695.5,1143.4 698.5,1143.4 701.5,1143.4 704.5,1143.4 707.5,1143.4 710.5,1143.5 713.5,1143.5 716.5,1143.5 719.5,1143.5 722.5,1143.5 725.5,1143.5 728.5,1143.5 731.6,1143.5 734.6,1143.6 737.6,1143.6 740.6,1143.6 743.6,1143.6 746.6,1143.6 749.6,1143.6 752.6,1143.6 755.6,1143.6 758.6,1143.7 761.6,1143.7 764.6,1143.7 767.6,1143.7 770.6,1143.7 773.6,1143.7 776.6,1143.7 779.6,1143.7 782.6,1143.7 785.6,1143.7 788.6,1143.7 791.6,1143.8 794.6,1143.8 797.6,1143.8 800.6,1143.8 803.6,1143.8 806.6,1143.8 809.6,1143.8 812.6,1143.8 815.6,1143.8 818.6,1143.8 821.6,1143.8 824.6,1143.8 827.6,1143.8 830.6,1143.8 833.6,1143.8 836.6,1143.8 839.7,1143.8 842.7,1143.8 845.7,1143.9 848.7,1143.9 851.7,1143.9 854.7,1143.9 857.7,1143.9 860.7,1143.9 863.7,1143.9 866.7,1143.9 869.7,1143.9 872.7,1143.9 875.7,1143.8 878.7,1143.8 881.7,1143.8 884.7,1143.8 887.7,1143.8 890.7,1143.8 893.7,1143.8 896.7,1143.8 899.7,1143.8 902.7,1143.8 905.7,1143.8 908.7,1143.8 911.7,1143.8 914.7,1143.8 917.7,1143.8 920.7,1143.7 923.7,1143.7 926.7,1143.7 929.7,1143.7 932.7,1143.7 935.7,1143.7 938.7,1143.7 941.7,1143.7 944.8,1143.6 947.8,1143.6 950.8,1143.6 953.8,1143.6 956.8,1143.6 959.8,1143.5 962.8,1143.5 965.8,1143.5 968.8,1143.5 971.8,1143.4 974.8,1143.4 977.8,1143.4 980.8,1143.3 983.8,1143.3 986.8,1143.3 989.8,1143.2 992.8,1143.2 995.8,1143.2 998.8,1143.1 1001.8,1143.1 1004.8,1143.0 1007.8,1143.0 1010.8,1143.0 1013.8,1142.9 1016.8,1142.9 1019.8,1142.8 1022.8,1142.8 1025.8,1142.7 1028.8,1142.6 1031.8,1142.6 1034.8,1142.5 1037.8,1142.5 1040.8,1142.4 1043.8,1142.3 1046.8,1142.3 1049.9,1142.2 1052.9,1142.1 1055.9,1142.0 1058.9,1142.0 1061.9,1141.9 1064.9,1141.8 1067.9,1141.7 1070.9,1141.6 1073.9,1141.5 1076.9,1141.4 1079.9,1141.3 1082.9,1141.2 1085.9,1141.1 1088.9,1141.0 1091.9,1140.8 1094.9,1140.7 1097.9,1140.6 1100.9,1140.4 1103.9,1140.3 1106.9,1140.2 1109.9,1140.0 1112.9,1139.8 1115.9,1139.7 1118.9,1139.5 1121.9,1139.3 1124.9,1139.2 1127.9,1139.0 1130.9,1138.8 1133.9,1138.6 1136.9,1138.4 1139.9,1138.1 1142.9,1137.9 1145.9,1137.7 1148.9,1137.4 1151.9,1137.2 1154.9,1136.9 1158.0,1136.7 1161.0,1136.4 1164.0,1136.1 1167.0,1135.8 1170.0,1135.5 1173.0,1135.1 1176.0,1134.8 1179.0,1134.4 1182.0,1134.1 1185.0,1133.7 1188.0,1133.3 1191.0,1132.9 1194.0,1132.5 1197.0,1132.0 1200.0,1131.6 1203.0,1131.1 1206.0,1130.6 1209.0,1130.1 1212.0,1129.5 1215.0,1129.0 1218.0,1128.4 1221.0,1127.8 1224.0,1127.2 1227.0,1126.6 1230.0,1126.0 1233.0,1125.3 1236.0,1124.6 1239.0,1123.9 1242.0,1123.2 1245.0,1122.5 1248.0,1121.8 1251.0,1121.0 1254.0,1120.3 1257.0,1119.5 1260.0,1118.7 1263.1,1117.9 1266.1,1117.1 1269.1,1116.3 1272.1,1115.5 1275.1,1114.7 1278.1,1113.9 1281.1,1113.1 1284.1,1112.3 1287.1,1111.5 1290.1,1110.7 1293.1,1110.0 1296.1,1109.3 1299.1,1108.6 1302.1,1108.0 1305.1,1107.4 1308.1,1106.9 1311.1,1106.5 1314.1,1106.1 1317.1,1105.7 1320.1,1105.5 1323.1,1105.3 1326.1,1105.2 1329.1,1105.2 1332.1,1105.2 1335.1,1105.4 1338.1,1105.6 1341.1,1105.9 1344.1,1106.3 1347.1,1106.7 1350.1,1107.2 1353.1,1107.8 1356.1,1108.5 1359.1,1109.2 1362.1,1109.9 1365.1,1110.7 1368.1,1111.5 1371.2,1112.4 1374.2,1113.3 1377.2,1114.2 1380.2,1115.1 1383.2,1116.1 1386.2,1117.0 1389.2,1118.0 1392.2,1118.9 1395.2,1119.9 1398.2,1120.8 1401.2,1121.8 1404.2,1122.7 1407.2,1123.6 1410.2,1124.5 1413.2,1125.4 1416.2,1126.3 1419.2,1127.1 1422.2,1127.9 1425.2,1128.7 1428.2,1129.5 1431.2,1130.3 1434.2,1131.0 1437.2,1131.8 1440.2,1132.5 1443.2,1133.2 1446.2,1133.8 1449.2,1134.5 1452.2,1135.1 1455.2,1135.7 1458.2,1136.3 1461.2,1136.9 1464.2,1137.5 1467.2,1138.0 1470.2,1138.5 1473.2,1139.0 1476.3,1139.5 1479.3,1140.0 1482.3,1140.5 1485.3,1140.9 1488.3,1141.4 1491.3,1141.8 1494.3,1142.2 1497.3,1142.6 1500.3,1143.0 1503.3,1143.4 1506.3,1143.7 1509.3,1144.1 1512.3,1144.4 1515.3,1144.8 1518.3,1145.1 1521.3,1145.4 1524.3,1145.8 1527.3,1146.1 1530.3,1146.4 1533.3,1146.6 1536.3,1146.9 1539.3,1147.2 1542.3,1147.5 1545.3,1147.7 1548.3,1148.0 1551.3,1148.3 1554.3,1148.5 1557.3,1148.7 1560.3,1149.0 1563.3,1149.2 1566.3,1149.4 1569.3,1149.7 1572.3,1149.9 1575.3,1150.1 1578.3,1150.3 1581.4,1150.5 1584.4,1150.7 1587.4,1150.9 1590.4,1151.1 1593.4,1151.3 1596.4,1151.5 1599.4,1151.6 1602.4,1151.8 1605.4,1152.0 1608.4,1152.2 1611.4,1152.3 1614.4,1152.5 1617.4,1152.7 1620.4,1152.8 1623.4,1153.0 1626.4,1153.2 1629.4,1153.3 1632.4,1153.5 1635.4,1153.6 1638.4,1153.8 1641.4,1153.9 1644.4,1154.1 1647.4,1154.2 1650.4,1154.4 1653.4,1154.5 1656.4,1154.6 1659.4,1154.8 1662.4,1154.9 1665.4,1155.0 1668.4,1155.2 1671.4,1155.3 1674.4,1155.4 1677.4,1155.6 1680.4,1155.7 1683.4,1155.8 1686.4,1155.9 1689.5,1156.1 1692.5,1156.2 1695.5,1156.3 1698.5,1156.4 1701.5,1156.5 1704.5,1156.7 1707.5,1156.8 1710.5,1156.9 1713.5,1157.0 1716.5,1157.1 1719.5,1157.2 1722.5,1157.3 1725.5,1157.4 1728.5,1157.6 1731.5,1157.7 1734.5,1157.8 1737.5,1157.9 1740.5,1158.0 1743.5,1158.1 1746.5,1158.2 1749.5,1158.3 1752.5,1158.4 1755.5,1158.5 1758.5,1158.6 1761.5,1158.7 1764.5,1158.8 1767.5,1158.9 1770.5,1159.0 1773.5,1159.1 1776.5,1159.2 1779.5,1159.3 1782.5,1159.4 1785.5,1159.5 1788.5,1159.6 1791.5,1159.7 1794.6,1159.8 1797.6,1159.9 1800.6,1160.0 1803.6,1160.1 1806.6,1160.1 1809.6,1160.2 1812.6,1160.3 1815.6,1160.3 1818.6,1160.4 1821.6,1160.5 1824.6,1160.6 1827.6,1160.6 1830.6,1160.7 1833.6,1160.8 1836.6,1160.8 1839.6,1160.9 1842.6,1161.0 1845.6,1161.1 1848.6,1161.1 1851.6,1161.2 1854.6,1161.3 1857.6,1161.3 1860.6,1161.4 1863.6,1161.5 1866.6,1161.5 1869.6,1161.6 1872.6,1161.7 1875.6,1161.7 1878.6,1161.8 1881.6,1161.9 1884.6,1161.9 1887.6,1162.0 1890.6,1162.0 1893.6,1162.1 1896.6,1162.2 1899.6,1162.2 1902.7,1162.3 1905.7,1162.4 1908.7,1162.4 1911.7,1162.5 1914.7,1162.6 1917.7,1162.6 1920.7,1162.7 1923.7,1162.7 1926.7,1162.8 1929.7,1162.9 1932.7,1162.9 1935.7,1163.0 1938.7,1163.1 1941.7,1163.1 1944.7,1163.2 1947.7,1163.2 1950.7,1163.3 1953.7,1163.4 1956.7,1163.4 1959.7,1163.5 1962.7,1163.5 1965.7,1163.6 1968.7,1163.7 1971.7,1163.7 1974.7,1163.8 1977.7,1163.8 1980.7,1163.9 1983.7,1164.0 1986.7,1164.0 1989.7,1164.1 1992.7,1164.1 1995.7,1164.2 1998.7,1164.3 2001.7,1164.3 2004.7,1164.4 2007.8,1164.4 2010.8,1164.5 2013.8,1164.5 2016.8,1164.6 2019.8,1164.7 2022.8,1164.7 2025.8,1164.8 2028.8,1164.8 2031.8,1164.9 2034.8,1165.0 2037.8,1165.0 2040.8,1165.1 2043.8,1165.1 2046.8,1165.2 2049.8,1165.2 2052.8,1165.3 2055.8,1165.4 2058.8,1165.4 2061.8,1165.5 2064.8,1165.5 2067.8,1165.6 2070.8,1165.6 2073.8,1165.7 2076.8,1165.7 2079.8,1165.8 2082.8,1165.9 2085.8,1165.9 2088.8,1166.0 2091.8,1166.0 2094.8,1166.1 2097.8,1166.1 2100.8,1166.2 2103.8,1166.3 2106.8,1166.3 2109.8,1166.4 2112.9,1166.4 2115.9,1166.5 2118.9,1166.5 2121.9,1166.6 2124.9,1166.6 2127.9,1166.7 2130.9,1166.7 2133.9,1166.8 2136.9,1166.9 2139.9,1166.9 2142.9,1167.0 2145.9,1167.0 2148.9,1167.1 2151.9,1167.1 2154.9,1167.2 2157.9,1167.2 2160.9,1167.3 2163.9,1167.3 2166.9,1167.4 2169.9,1167.5 2172.9,1167.5 2175.9,1167.6 2178.9,1167.6 2181.9,1167.7 2184.9,1167.7 2187.9,1167.8 2190.9,1167.8 2193.9,1167.9 2196.9,1167.9 2199.9,1168.0 2202.9,1168.1 2205.9,1168.1 2208.9,1168.2 2211.9,1168.2 2214.9,1168.3 2217.9,1168.3 2221.0,1168.4 2224.0,1168.4 2227.0,1168.5 2230.0,1168.5 2233.0,1168.6 2236.0,1168.6 2239.0,1168.7 2242.0,1168.7 2245.0,1168.8 2248.0,1168.9 2251.0,1168.9 2254.0,1169.0 2257.0,1169.0 2260.0,1169.1 2263.0,1169.1 2266.0,1169.2 2269.0,1169.2 2272.0,1169.3" fill="none" stroke="#ff00ff" stroke-width="11.5" stroke-linejoin="round"/>
<path d="M146.0,1439.3 149.0,1439.1 152.0,1438.9 155.0,1438.7 158.0,1438.4 161.0,1438.2 164.0,1438.0 167.0,1437.7 170.0,1437.5 173.0,1437.3 176.0,1437.0 179.0,1436.8 182.0,1436.5 185.0,1436.2 188.0,1436.0 191.0,1435.7 194.0,1435.4 197.0,1435.1 200.1,1434.8 203.1,1434.5 206.1,1434.2 209.1,1433.9 212.1,1433.6 215.1,1433.2 218.1,1432.9 221.1,1432.5 224.1,1432.2 227.1,1431.8 230.1,1431.5 233.1,1431.1 236.1,1430.7 239.1,1430.3 242.1,1429.9 245.1,1429.5 248.1,1429.1 251.1,1428.7 254.1,1428.3 257.1,1427.8 260.1,1427.4 263.1,1426.9 266.1,1426.5 269.1,1426.0 272.1,1425.5 275.1,1425.0 278.1,1424.6 281.1,1424.1 284.1,1423.6 287.1,1423.1 290.1,1422.5 293.1,1422.0 296.1,1421.5 299.1,1421.0 302.1,1420.4 305.1,1419.9 308.2,1419.4 311.2,1418.8 314.2,1418.3 317.2,1417.8 320.2,1417.2 323.2,1416.7 326.2,1416.1 329.2,1415.6 332.2,1415.1 335.2,1414.6 338.2,1414.0 341.2,1413.5 344.2,1413.0 347.2,1412.5 350.2,1412.0 353.2,1411.6 356.2,1411.1 359.2,1410.7 362.2,1410.2 365.2,1409.8 368.2,1409.4 371.2,1409.1 374.2,1408.7 377.2,1408.4 380.2,1408.1 383.2,1407.8 386.2,1407.5 389.2,1407.3 392.2,1407.1 395.2,1406.9 398.2,1406.8 401.2,1406.7 404.2,1406.6 407.2,1406.5 410.2,1406.5 413.3,1406.5 416.3,1406.5 419.3,1406.6 422.3,1406.7 425.3,1406.8 428.3,1406.9 431.3,1407.1 434.3,1407.3 437.3,1407.5 440.3,1407.8 443.3,1408.0 446.3,1408.3 449.3,1408.6 452.3,1409.0 455.3,1409.3 458.3,1409.7 461.3,1410.1 464.3,1410.5 467.3,1410.9 470.3,1411.3 473.3,1411.8 476.3,1412.2 479.3,1412.7 482.3,1413.2 485.3,1413.7 488.3,1414.2 491.3,1414.7 494.3,1415.2 497.3,1415.7 500.3,1416.2 503.3,1416.7 506.3,1417.3 509.3,1417.8 512.3,1418.3 515.3,1418.8 518.4,1419.4 521.4,1419.9 524.4,1420.4 527.4,1420.9 530.4,1421.5 533.4,1422.0 536.4,1422.5 539.4,1423.0 542.4,1423.5 545.4,1424.0 548.4,1424.5 551.4,1425.0 554.4,1425.5 557.4,1425.9 560.4,1426.4 563.4,1426.9 566.4,1427.3 569.4,1427.8 572.4,1428.2 575.4,1428.7 578.4,1429.1 581.4,1429.5 584.4,1429.9 587.4,1430.3 590.4,1430.8 593.4,1431.1 596.4,1431.5 599.4,1431.9 602.4,1432.3 605.4,1432.7 608.4,1433.0 611.4,1433.4 614.4,1433.7 617.4,1434.1 620.4,1434.4 623.4,1434.8 626.5,1435.1 629.5,1435.4 632.5,1435.7 635.5,1436.0 638.5,1436.3 641.5,1436.6 644.5,1436.9 647.5,1437.2 650.5,1437.5 653.5,1437.7 656.5,1438.0 659.5,1438.3 662.5,1438.5 665.5,1438.8 668.5,1439.0 671.5,1439.3 674.5,1439.5 677.5,1439.7 680.5,1440.0 683.5,1440.2 686.5,1440.4 689.5,1440.6 692.5,1440.8 695.5,1441.0 698.5,1441.3 701.5,1441.5 704.5,1441.6 707.5,1441.8 710.5,1442.0 713.5,1442.2 716.5,1442.4 719.5,1442.6 722.5,1442.8 725.5,1442.9 728.5,1443.1 731.6,1443.3 734.6,1443.4 737.6,1443.6 740.6,1443.7 743.6,1443.9 746.6,1444.0 749.6,1444.2 752.6,1444.3 755.6,1444.5 758.6,1444.6 761.6,1444.8 764.6,1444.9 767.6,1445.0 770.6,1445.2 773.6,1445.3 776.6,1445.4 779.6,1445.5 782.6,1445.7 785.6,1445.8 788.6,1445.9 791.6,1446.0 794.6,1446.1 797.6,1446.2 800.6,1446.4 803.6,1446.5 806.6,1446.6 809.6,1446.7 812.6,1446.8 815.6,1446.9 818.6,1447.0 821.6,1447.1 824.6,1447.2 827.6,1447.3 830.6,1447.4 833.6,1447.5 836.6,1447.6 839.7,1447.6 842.7,1447.7 845.7,1447.8 848.7,1447.9 851.7,1448.0 854.7,1448.1 857.7,1448.2 860.7,1448.2 863.7,1448.3 866.7,1448.4 869.7,1448.5 872.7,1448.6 875.7,1448.6 878.7,1448.7 881.7,1448.8 884.7,1448.9 887.7,1448.9 890.7,1449.0 893.7,1449.1 896.7,1449.1 899.7,1449.2 902.7,1449.3 905.7,1449.3 908.7,1449.4 911.7,1449.5 914.7,1449.5 917.7,1449.6 920.7,1449.6 923.7,1449.7 926.7,1449.8 929.7,1449.8 932.7,1449.9 935.7,1449.9 938.7,1450.0 941.7,1450.1 944.8,1450.1 947.8,1450.2 950.8,1450.2 953.8,1450.3 956.8,1450.3 959.8,1450.4 962.8,1450.4 965.8,1450.5 968.8,1450.5 971.8,1450.6 974.8,1450.6 977.8,1450.7 980.8,1450.7 983.8,1450.8 986.8,1450.8 989.8,1450.9 992.8,1450.9 995.8,1451.0 998.8,1451.0 1001.8,1451.1 1004.8,1451.1 1007.8,1451.1 1010.8,1451.2 1013.8,1451.2 1016.8,1451.3 1019.8,1451.3 1022.8,1451.4 1025.8,1451.4 1028.8,1451.4 1031.8,1451.5 1034.8,1451.5 1037.8,1451.6 1040.8,1451.6 1043.8,1451.6 1046.8,1451.7 1049.9,1451.7 1052.9,1451.7 1055.9,1451.8 1058.9,1451.8 1061.9,1451.9 1064.9,1451.9 1067.9,1451.9 1070.9,1452.0 1073.9,1452.0 1076.9,1452.0 1079.9,1452.1 1082.9,1452.1 1085.9,1452.1 1088.9,1452.2 1091.9,1452.2 1094.9,1452.2 1097.9,1452.3 1100.9,1452.3 1103.9,1452.3 1106.9,1452.4 1109.9,1452.4 1112.9,1452.4 1115.9,1452.5 1118.9,1452.5 1121.9,1452.5 1124.9,1452.5 1127.9,1452.6 1130.9,1452.6 1133.9,1452.6 1136.9,1452.7 1139.9,1452.7 1142.9,1452.7 1145.9,1452.8 1148.9,1452.8 1151.9,1452.8 1154.9,1452.8 1158.0,1452.9 1161.0,1452.9 1164.0,1452.9 1167.0,1452.9 1170.0,1453.0 1173.0,1453.0 1176.0,1453.0 1179.0,1453.1 1182.0,1453.1 1185.0,1453.1 1188.0,1453.1 1191.0,1453.2 1194.0,1453.2 1197.0,1453.2 1200.0,1453.2 1203.0,1453.3 1206.0,1453.3 1209.0,1453.3 1212.0,1453.3 1215.0,1453.4 1218.0,1453.4 1221.0,1453.4 1224.0,1453.4 1227.0,1453.5 1230.0,1453.5 1233.0,1453.5 1236.0,1453.5 1239.0,1453.5 1242.0,1453.6 1245.0,1453.6 1248.0,1453.6 1251.0,1453.6 1254.0,1453.7 1257.0,1453.7 1260.0,1453.7 1263.1,1453.7 1266.1,1453.8 1269.1,1453.8 1272.1,1453.8 1275.1,1453.8 1278.1,1453.8 1281.1,1453.9 1284.1,1453.9 1287.1,1453.9 1290.1,1453.9 1293.1,1453.9 1296.1,1454.0 1299.1,1454.0 1302.1,1454.0 1305.1,1454.0 1308.1,1454.0 1311.1,1454.1 1314.1,1454.1 1317.1,1454.1 1320.1,1454.1 1323.1,1454.1 1326.1,1454.2 1329.1,1454.2 1332.1,1454.2 1335.1,1454.2 1338.1,1454.2 1341.1,1454.3 1344.1,1454.3 1347.1,1454.3 1350.1,1454.3 1353.1,1454.3 1356.1,1454.4 1359.1,1454.4 1362.1,1454.4 1365.1,1454.4 1368.1,1454.4 1371.2,1454.4 1374.2,1454.5 1377.2,1454.5 1380.2,1454.5 1383.2,1454.5 1386.2,1454.5 1389.2,1454.6 1392.2,1454.6 1395.2,1454.6 1398.2,1454.6 1401.2,1454.6 1404.2,1454.6 1407.2,1454.7 1410.2,1454.7 1413.2,1454.7 1416.2,1454.7 1419.2,1454.7 1422.2,1454.7 1425.2,1454.8 1428.2,1454.8 1431.2,1454.8 1434.2,1454.8 1437.2,1454.8 1440.2,1454.8 1443.2,1454.9 1446.2,1454.9 1449.2,1454.9 1452.2,1454.9 1455.2,1454.9 1458.2,1454.9 1461.2,1455.0 1464.2,1455.0 1467.2,1455.0 1470.2,1455.0 1473.2,1455.0 1476.3,1455.0 1479.3,1455.1 1482.3,1455.1 1485.3,1455.1 1488.3,1455.1 1491.3,1455.1 1494.3,1455.1 1497.3,1455.2 1500.3,1455.2 1503.3,1455.2 1506.3,1455.2 1509.3,1455.2 1512.3,1455.2 1515.3,1455.2 1518.3,1455.3 1521.3,1455.3 1524.3,1455.3 1527.3,1455.3 1530.3,1455.3 1533.3,1455.3 1536.3,1455.4 1539.3,1455.4 1542.3,1455.4 1545.3,1455.4 1548.3,1455.4 1551.3,1455.4 1554.3,1455.4 1557.3,1455.5 1560.3,1455.5 1563.3,1455.5 1566.3,1455.5 1569.3,1455.5 1572.3,1455.5 1575.3,1455.5 1578.3,1455.6 1581.4,1455.6 1584.4,1455.6 1587.4,1455.6 1590.4,1455.6 1593.4,1455.6 1596.4,1455.6 1599.4,1455.7 1602.4,1455.7 1605.4,1455.7 1608.4,1455.7 1611.4,1455.7 1614.4,1455.7 1617.4,1455.7 1620.4,1455.8 1623.4,1455.8 1626.4,1455.8 1629.4,1455.8 1632.4,1455.8 1635.4,1455.8 1638.4,1455.8 1641.4,1455.8 1644.4,1455.9 1647.4,1455.9 1650.4,1455.9 1653.4,1455.9 1656.4,1455.9 1659.4,1455.9 1662.4,1455.9 1665.4,1456.0 1668.4,1456.0 1671.4,1456.0 1674.4,1456.0 1677.4,1456.0 1680.4,1456.0 1683.4,1456.0 1686.4,1456.0 1689.5,1456.1 1692.5,1456.1 1695.5,1456.1 1698.5,1456.1 1701.5,1456.1 1704.5,1456.1 1707.5,1456.1 1710.5,1456.2 1713.5,1456.2 1716.5,1456.2 1719.5,1456.2 1722.5,1456.2 1725.5,1456.2 1728.5,1456.2 1731.5,1456.2 1734.5,1456.3 1737.5,1456.3 1740.5,1456.3 1743.5,1456.3 1746.5,1456.3 1749.5,1456.3 1752.5,1456.3 1755.5,1456.3 1758.5,1456.4 1761.5,1456.4 1764.5,1456.4 1767.5,1456.4 1770.5,1456.4 1773.5,1456.4 1776.5,1456.4 1779.5,1456.4 1782.5,1456.5 1785.5,1456.5 1788.5,1456.5 1791.5,1456.5 1794.6,1456.5 1797.6,1456.5 1800.6,1456.5 1803.6,1456.5 1806.6,1456.6 1809.6,1456.6 1812.6,1456.6 1815.6,1456.6 1818.6,1456.6 1821.6,1456.6 1824.6,1456.6 1827.6,1456.6 1830.6,1456.7 1833.6,1456.7 1836.6,1456.7 1839.6,1456.7 1842.6,1456.7 1845.6,1456.7 1848.6,1456.7 1851.6,1456.7 1854.6,1456.7 1857.6,1456.8 1860.6,1456.8 1863.6,1456.8 1866.6,1456.8 1869.6,1456.8 1872.6,1456.8 1875.6,1456.8 1878.6,1456.8 1881.6,1456.9 1884.6,1456.9 1887.6,1456.9 1890.6,1456.9 1893.6,1456.9 1896.6,1456.9 1899.6,1456.9 1902.7,1456.9 1905.7,1457.0 1908.7,1457.0 1911.7,1457.0 1914.7,1457.0 1917.7,1457.0 1920.7,1457.0 1923.7,1457.0 1926.7,1457.0 1929.7,1457.0 1932.7,1457.1 1935.7,1457.1 1938.7,1457.1 1941.7,1457.1 1944.7,1457.1 1947.7,1457.1 1950.7,1457.1 1953.7,1457.1 1956.7,1457.1 1959.7,1457.2 1962.7,1457.2 1965.7,1457.2 1968.7,1457.2 1971.7,1457.2 1974.7,1457.2 1977.7,1457.2 1980.7,1457.2 1983.7,1457.2 1986.7,1457.3 1989.7,1457.3 1992.7,1457.3 1995.7,1457.3 1998.7,1457.3 2001.7,1457.3 2004.7,1457.3 2007.8,1457.3 2010.8,1457.4 2013.8,1457.4 2016.8,1457.4 2019.8,1457.4 2022.8,1457.4 2025.8,1457.4 2028.8,1457.4 2031.8,1457.4 2034.8,1457.4 2037.8,1457.5 2040.8,1457.5 2043.8,1457.5 2046.8,1457.5 2049.8,1457.5 2052.8,1457.5 2055.8,1457.5 2058.8,1457.5 2061.8,1457.5 2064.8,1457.6 2067.8,1457.6 2070.8,1457.6 2073.8,1457.6 2076.8,1457.6 2079.8,1457.6 2082.8,1457.6 2085.8,1457.6 2088.8,1457.6 2091.8,1457.6 2094.8,1457.7 2097.8,1457.7 2100.8,1457.7 2103.8,1457.7 2106.8,1457.7 2109.8,1457.7 2112.9,1457.7 2115.9,1457.7 2118.9,1457.7 2121.9,1457.8 2124.9,1457.8 2127.9,1457.8 2130.9,1457.8 2133.9,1457.8 2136.9,1457.8 2139.9,1457.8 2142.9,1457.8 2145.9,1457.8 2148.9,1457.9 2151.9,1457.9 2154.9,1457.9 2157.9,1457.9 2160.9,1457.9 2163.9,1457.9 2166.9,1457.9 2169.9,1457.9 2172.9,1457.9 2175.9,1458.0 2178.9,1458.0 2181.9,1458.0 2184.9,1458.0 2187.9,1458.0 2190.9,1458.0 2193.9,1458.0 2196.9,1458.0 2199.9,1458.0 2202.9,1458.0 2205.9,1458.1 2208.9,1458.1 2211.9,1458.1 2214.9,1458.1 2217.9,1458.1 2221.0,1458.1 2224.0,1458.1 2227.0,1458.1 2230.0,1458.1 2233.0,1458.2 2236.0,1458.2 2239.0,1458.2 2242.0,1458.2 2245.0,1458.2 2248.0,1458.2 2251.0,1458.2 2254.0,1458.2 2257.0,1458.2 2260.0,1458.2 2263.0,1458.3 2266.0,1458.3 2269.0,1458.3 2272.0,1458.3" fill="none" stroke="#ff00ff" stroke-width="11.5" stroke-linejoin="round"/>
<path d="M146.0,1448.1 149.0,1448.0 152.0,1448.0 155.0,1447.9 158.0,1447.9 161.0,1447.8 164.0,1447.8 167.0,1447.7 170.0,1447.7 173.0,1447.6 176.0,1447.5 179.0,1447.5 182.0,1447.4 185.0,1447.3 188.0,1447.3 191.0,1447.2 194.0,1447.1 197.0,1447.1 200.1,1447.0 203.1,1446.9 206.1,1446.8 209.1,1446.7 212.1,1446.6 215.1,1446.6 218.1,1446.5 221.1,1446.4 224.1,1446.3 227.1,1446.2 230.1,1446.1 233.1,1446.0 236.1,1445.9 239.1,1445.8 242.1,1445.6 245.1,1445.5 248.1,1445.4 251.1,1445.3 254.1,1445.2 257.1,1445.0 260.1,1444.9 263.1,1444.8 266.1,1444.6 269.1,1444.5 272.1,1444.3 275.1,1444.2 278.1,1444.0 281.1,1443.8 284.1,1443.7 287.1,1443.5 290.1,1443.3 293.1,1443.1 296.1,1442.9 299.1,1442.7 302.1,1442.5 305.1,1442.3 308.2,1442.0 311.2,1441.8 314.2,1441.6 317.2,1441.3 320.2,1441.1 323.2,1440.8 326.2,1440.5 329.2,1440.2 332.2,1439.9 335.2,1439.6 338.2,1439.3 341.2,1439.0 344.2,1438.7 347.2,1438.3 350.2,1437.9 353.2,1437.5 356.2,1437.2 359.2,1436.7 362.2,1436.3 365.2,1435.9 368.2,1435.4 371.2,1434.9 374.2,1434.4 377.2,1433.9 380.2,1433.4 383.2,1432.8 386.2,1432.3 389.2,1431.7 392.2,1431.0 395.2,1430.4 398.2,1429.7 401.2,1429.0 404.2,1428.3 407.2,1427.5 410.2,1426.7 413.3,1425.9 416.3,1425.1 419.3,1424.2 422.3,1423.3 425.3,1422.3 428.3,1421.3 431.3,1420.3 434.3,1419.2 437.3,1418.1 440.3,1417.0 443.3,1415.8 446.3,1414.6 449.3,1413.3 452.3,1412.0 455.3,1410.7 458.3,1409.3 461.3,1407.9 464.3,1406.5 467.3,1405.0 470.3,1403.5 473.3,1402.0 476.3,1400.4 479.3,1398.9 482.3,1397.3 485.3,1395.8 488.3,1394.2 491.3,1392.7 494.3,1391.2 497.3,1389.7 500.3,1388.3 503.3,1386.9 506.3,1385.7 509.3,1384.5 512.3,1383.4 515.3,1382.4 518.4,1381.5 521.4,1380.8 524.4,1380.1 527.4,1379.7 530.4,1379.4 533.4,1379.2 536.4,1379.2 539.4,1379.4 542.4,1379.7 545.4,1380.2 548.4,1380.8 551.4,1381.5 554.4,1382.4 557.4,1383.4 560.4,1384.5 563.4,1385.7 566.4,1387.0 569.4,1388.4 572.4,1389.8 575.4,1391.3 578.4,1392.8 581.4,1394.4 584.4,1395.9 587.4,1397.5 590.4,1399.1 593.4,1400.6 596.4,1402.2 599.4,1403.7 602.4,1405.3 605.4,1406.8 608.4,1408.2 611.4,1409.7 614.4,1411.0 617.4,1412.4 620.4,1413.7 623.4,1415.0 626.5,1416.3 629.5,1417.5 632.5,1418.6 635.5,1419.7 638.5,1420.8 641.5,1421.9 644.5,1422.9 647.5,1423.9 650.5,1424.8 653.5,1425.7 656.5,1426.6 659.5,1427.4 662.5,1428.2 665.5,1429.0 668.5,1429.8 671.5,1430.5 674.5,1431.2 677.5,1431.9 680.5,1432.5 683.5,1433.1 686.5,1433.7 689.5,1434.3 692.5,1434.9 695.5,1435.4 698.5,1435.9 701.5,1436.4 704.5,1436.9 707.5,1437.3 710.5,1437.8 713.5,1438.2 716.5,1438.6 719.5,1439.0 722.5,1439.4 725.5,1439.8 728.5,1440.1 731.6,1440.5 734.6,1440.8 737.6,1441.2 740.6,1441.5 743.6,1441.8 746.6,1442.1 749.6,1442.4 752.6,1442.6 755.6,1442.9 758.6,1443.2 761.6,1443.4 764.6,1443.7 767.6,1443.9 770.6,1444.1 773.6,1444.3 776.6,1444.6 779.6,1444.8 782.6,1445.0 785.6,1445.2 788.6,1445.4 791.6,1445.5 794.6,1445.7 797.6,1445.9 800.6,1446.1 803.6,1446.2 806.6,1446.4 809.6,1446.6 812.6,1446.7 815.6,1446.9 818.6,1447.0 821.6,1447.2 824.6,1447.3 827.6,1447.4 830.6,1447.6 833.6,1447.7 836.6,1447.8 839.7,1447.9 842.7,1448.1 845.7,1448.2 848.7,1448.3 851.7,1448.4 854.7,1448.5 857.7,1448.6 860.7,1448.7 863.7,1448.8 866.7,1448.9 869.7,1449.0 872.7,1449.1 875.7,1449.2 878.7,1449.3 881.7,1449.4 884.7,1449.5 887.7,1449.6 890.7,1449.6 893.7,1449.7 896.7,1449.8 899.7,1449.9 902.7,1450.0 905.7,1450.0 908.7,1450.1 911.7,1450.2 914.7,1450.2 917.7,1450.3 920.7,1450.4 923.7,1450.5 926.7,1450.5 929.7,1450.6 932.7,1450.6 935.7,1450.7 938.7,1450.8 941.7,1450.8 944.8,1450.9 947.8,1450.9 950.8,1451.0 953.8,1451.1 956.8,1451.1 959.8,1451.2 962.8,1451.2 965.8,1451.3 968.8,1451.3 971.8,1451.4 974.8,1451.4 977.8,1451.5 980.8,1451.5 983.8,1451.6 986.8,1451.6 989.8,1451.7 992.8,1451.7 995.8,1451.8 998.8,1451.8 1001.8,1451.9 1004.8,1451.9 1007.8,1451.9 1010.8,1452.0 1013.8,1452.0 1016.8,1452.1 1019.8,1452.1 1022.8,1452.1 1025.8,1452.2 1028.8,1452.2 1031.8,1452.3 1034.8,1452.3 1037.8,1452.3 1040.8,1452.4 1043.8,1452.4 1046.8,1452.4 1049.9,1452.5 1052.9,1452.5 1055.9,1452.5 1058.9,1452.6 1061.9,1452.6 1064.9,1452.6 1067.9,1452.7 1070.9,1452.7 1073.9,1452.7 1076.9,1452.8 1079.9,1452.8 1082.9,1452.8 1085.9,1452.9 1088.9,1452.9 1091.9,1452.9 1094.9,1453.0 1097.9,1453.0 1100.9,1453.0 1103.9,1453.0 1106.9,1453.1 1109.9,1453.1 1112.9,1453.1 1115.9,1453.2 1118.9,1453.2 1121.9,1453.2 1124.9,1453.2 1127.9,1453.3 1130.9,1453.3 1133.9,1453.3 1136.9,1453.3 1139.9,1453.4 1142.9,1453.4 1145.9,1453.4 1148.9,1453.4 1151.9,1453.5 1154.9,1453.5 1158.0,1453.5 1161.0,1453.5 1164.0,1453.6 1167.0,1453.6 1170.0,1453.6 1173.0,1453.6 1176.0,1453.7 1179.0,1453.7 1182.0,1453.7 1185.0,1453.7 1188.0,1453.7 1191.0,1453.8 1194.0,1453.8 1197.0,1453.8 1200.0,1453.8 1203.0,1453.9 1206.0,1453.9 1209.0,1453.9 1212.0,1453.9 1215.0,1453.9 1218.0,1454.0 1221.0,1454.0 1224.0,1454.0 1227.0,1454.0 1230.0,1454.0 1233.0,1454.1 1236.0,1454.1 1239.0,1454.1 1242.0,1454.1 1245.0,1454.1 1248.0,1454.2 1251.0,1454.2 1254.0,1454.2 1257.0,1454.2 1260.0,1454.2 1263.1,1454.3 1266.1,1454.3 1269.1,1454.3 1272.1,1454.3 1275.1,1454.3 1278.1,1454.3 1281.1,1454.4 1284.1,1454.4 1287.1,1454.4 1290.1,1454.4 1293.1,1454.4 1296.1,1454.5 1299.1,1454.5 1302.1,1454.5 1305.1,1454.5 1308.1,1454.5 1311.1,1454.5 1314.1,1454.6 1317.1,1454.6 1320.1,1454.6 1323.1,1454.6 1326.1,1454.6 1329.1,1454.6 1332.1,1454.7 1335.1,1454.7 1338.1,1454.7 1341.1,1454.7 1344.1,1454.7 1347.1,1454.7 1350.1,1454.8 1353.1,1454.8 1356.1,1454.8 1359.1,1454.8 1362.1,1454.8 1365.1,1454.8 1368.1,1454.8 1371.2,1454.9 1374.2,1454.9 1377.2,1454.9 1380.2,1454.9 1383.2,1454.9 1386.2,1454.9 1389.2,1455.0 1392.2,1455.0 1395.2,1455.0 1398.2,1455.0 1401.2,1455.0 1404.2,1455.0 1407.2,1455.0 1410.2,1455.1 1413.2,1455.1 1416.2,1455.1 1419.2,1455.1 1422.2,1455.1 1425.2,1455.1 1428.2,1455.1 1431.2,1455.2 1434.2,1455.2 1437.2,1455.2 1440.2,1455.2 1443.2,1455.2 1446.2,1455.2 1449.2,1455.2 1452.2,1455.3 1455.2,1455.3 1458.2,1455.3 1461.2,1455.3 1464.2,1455.3 1467.2,1455.3 1470.2,1455.3 1473.2,1455.4 1476.3,1455.4 1479.3,1455.4 1482.3,1455.4 1485.3,1455.4 1488.3,1455.4 1491.3,1455.4 1494.3,1455.4 1497.3,1455.5 1500.3,1455.5 1503.3,1455.5 1506.3,1455.5 1509.3,1455.5 1512.3,1455.5 1515.3,1455.5 1518.3,1455.6 1521.3,1455.6 1524.3,1455.6 1527.3,1455.6 1530.3,1455.6 1533.3,1455.6 1536.3,1455.6 1539.3,1455.6 1542.3,1455.7 1545.3,1455.7 1548.3,1455.7 1551.3,1455.7 1554.3,1455.7 1557.3,1455.7 1560.3,1455.7 1563.3,1455.7 1566.3,1455.8 1569.3,1455.8 1572.3,1455.8 1575.3,1455.8 1578.3,1455.8 1581.4,1455.8 1584.4,1455.8 1587.4,1455.8 1590.4,1455.9 1593.4,1455.9 1596.4,1455.9 1599.4,1455.9 1602.4,1455.9 1605.4,1455.9 1608.4,1455.9 1611.4,1455.9 1614.4,1456.0 1617.4,1456.0 1620.4,1456.0 1623.4,1456.0 1626.4,1456.0 1629.4,1456.0 1632.4,1456.0 1635.4,1456.0 1638.4,1456.1 1641.4,1456.1 1644.4,1456.1 1647.4,1456.1 1650.4,1456.1 1653.4,1456.1 1656.4,1456.1 1659.4,1456.1 1662.4,1456.1 1665.4,1456.2 1668.4,1456.2 1671.4,1456.2 1674.4,1456.2 1677.4,1456.2 1680.4,1456.2 1683.4,1456.2 1686.4,1456.2 1689.5,1456.3 1692.5,1456.3 1695.5,1456.3 1698.5,1456.3 1701.5,1456.3 1704.5,1456.3 1707.5,1456.3 1710.5,1456.3 1713.5,1456.3 1716.5,1456.4 1719.5,1456.4 1722.5,1456.4 1725.5,1456.4 1728.5,1456.4 1731.5,1456.4 1734.5,1456.4 1737.5,1456.4 1740.5,1456.4 1743.5,1456.5 1746.5,1456.5 1749.5,1456.5 1752.5,1456.5 1755.5,1456.5 1758.5,1456.5 1761.5,1456.5 1764.5,1456.5 1767.5,1456.5 1770.5,1456.6 1773.5,1456.6 1776.5,1456.6 1779.5,1456.6 1782.5,1456.6 1785.5,1456.6 1788.5,1456.6 1791.5,1456.6 1794.6,1456.6 1797.6,1456.7 1800.6,1456.7 1803.6,1456.7 1806.6,1456.7 1809.6,1456.7 1812.6,1456.7 1815.6,1456.7 1818.6,1456.7 1821.6,1456.7 1824.6,1456.8 1827.6,1456.8 1830.6,1456.8 1833.6,1456.8 1836.6,1456.8 1839.6,1456.8 1842.6,1456.8 1845.6,1456.8 1848.6,1456.8 1851.6,1456.9 1854.6,1456.9 1857.6,1456.9 1860.6,1456.9 1863.6,1456.9 1866.6,1456.9 1869.6,1456.9 1872.6,1456.9 1875.6,1456.9 1878.6,1457.0 1881.6,1457.0 1884.6,1457.0 1887.6,1457.0 1890.6,1457.0 1893.6,1457.0 1896.6,1457.0 1899.6,1457.0 1902.7,1457.0 1905.7,1457.0 1908.7,1457.1 1911.7,1457.1 1914.7,1457.1 1917.7,1457.1 1920.7,1457.1 1923.7,1457.1 1926.7,1457.1 1929.7,1457.1 1932.7,1457.1 1935.7,1457.2 1938.7,1457.2 1941.7,1457.2 1944.7,1457.2 1947.7,1457.2 1950.7,1457.2 1953.7,1457.2 1956.7,1457.2 1959.7,1457.2 1962.7,1457.2 1965.7,1457.3 1968.7,1457.3 1971.7,1457.3 1974.7,1457.3 1977.7,1457.3 1980.7,1457.3 1983.7,1457.3 1986.7,1457.3 1989.7,1457.3 1992.7,1457.4 1995.7,1457.4 1998.7,1457.4 2001.7,1457.4 2004.7,1457.4 2007.8,1457.4 2010.8,1457.4 2013.8,1457.4 2016.8,1457.4 2019.8,1457.4 2022.8,1457.5 2025.8,1457.5 2028.8,1457.5 2031.8,1457.5 2034.8,1457.5 2037.8,1457.5 2040.8,1457.5 2043.8,1457.5 2046.8,1457.5 2049.8,1457.5 2052.8,1457.6 2055.8,1457.6 2058.8,1457.6 2061.8,1457.6 2064.8,1457.6 2067.8,1457.6 2070.8,1457.6 2073.8,1457.6 2076.8,1457.6 2079.8,1457.7 2082.8,1457.7 2085.8,1457.7 2088.8,1457.7 2091.8,1457.7 2094.8,1457.7 2097.8,1457.7 2100.8,1457.7 2103.8,1457.7 2106.8,1457.7 2109.8,1457.8 2112.9,1457.8 2115.9,1457.8 2118.9,1457.8 2121.9,1457.8 2124.9,1457.8 2127.9,1457.8 2130.9,1457.8 2133.9,1457.8 2136.9,1457.8 2139.9,1457.9 2142.9,1457.9 2145.9,1457.9 2148.9,1457.9 2151.9,1457.9 2154.9,1457.9 2157.9,1457.9 2160.9,1457.9 2163.9,1457.9 2166.9,1457.9 2169.9,1458.0 2172.9,1458.0 2175.9,1458.0 2178.9,1458.0 2181.9,1458.0 2184.9,1458.0 2187.9,1458.0 2190.9,1458.0 2193.9,1458.0 2196.9,1458.0 2199.9,1458.1 2202.9,1458.1 2205.9,1458.1 2208.9,1458.1 2211.9,1458.1 2214.9,1458.1 2217.9,1458.1 2221.0,1458.1 2224.0,1458.1 2227.0,1458.1 2230.0,1458.2 2233.0,1458.2 2236.0,1458.2 2239.0,1458.2 2242.0,1458.2 2245.0,1458.2 2248.0,1458.2 2251.0,1458.2 2254.0,1458.2 2257.0,1458.2 2260.0,1458.3 2263.0,1458.3 2266.0,1458.3 2269.0,1458.3 2272.0,1458.3" fill="none" stroke="#0000ff" stroke-width="11.5" stroke-linejoin="round"/>
<path d="M146.0,1450.9 149.0,1450.9 152.0,1450.9 155.0,1450.9 158.0,1450.9 161.0,1450.9 164.0,1450.9 167.0,1451.0 170.0,1451.0 173.0,1451.0 176.0,1451.0 179.0,1451.0 182.0,1451.0 185.0,1451.0 188.0,1451.0 191.0,1451.0 194.0,1451.0 197.0,1451.0 200.1,1451.0 203.1,1451.0 206.1,1451.0 209.1,1451.0 212.1,1451.0 215.1,1451.0 218.1,1451.0 221.1,1451.0 224.1,1451.0 227.1,1451.0 230.1,1451.0 233.1,1451.0 236.1,1451.0 239.1,1451.0 242.1,1451.0 245.1,1451.0 248.1,1451.0 251.1,1451.1 254.1,1451.1 257.1,1451.1 260.1,1451.1 263.1,1451.1 266.1,1451.1 269.1,1451.1 272.1,1451.1 275.1,1451.1 278.1,1451.1 281.1,1451.1 284.1,1451.1 287.1,1451.1 290.1,1451.1 293.1,1451.1 296.1,1451.1 299.1,1451.1 302.1,1451.1 305.1,1451.1 308.2,1451.1 311.2,1451.1 314.2,1451.1 317.2,1451.1 320.2,1451.1 323.2,1451.1 326.2,1451.1 329.2,1451.1 332.2,1451.1 335.2,1451.1 338.2,1451.1 341.2,1451.1 344.2,1451.1 347.2,1451.1 350.2,1451.1 353.2,1451.1 356.2,1451.1 359.2,1451.1 362.2,1451.1 365.2,1451.1 368.2,1451.1 371.2,1451.1 374.2,1451.1 377.2,1451.1 380.2,1451.1 383.2,1451.1 386.2,1451.1 389.2,1451.1 392.2,1451.1 395.2,1451.1 398.2,1451.1 401.2,1451.1 404.2,1451.1 407.2,1451.1 410.2,1451.1 413.3,1451.1 416.3,1451.1 419.3,1451.1 422.3,1451.1 425.3,1451.1 428.3,1451.1 431.3,1451.1 434.3,1451.1 437.3,1451.1 440.3,1451.1 443.3,1451.1 446.3,1451.1 449.3,1451.1 452.3,1451.1 455.3,1451.1 458.3,1451.1 461.3,1451.1 464.3,1451.1 467.3,1451.1 470.3,1451.1 473.3,1451.1 476.3,1451.1 479.3,1451.1 482.3,1451.1 485.3,1451.1 488.3,1451.1 491.3,1451.1 494.3,1451.1 497.3,1451.1 500.3,1451.1 503.3,1451.1 506.3,1451.1 509.3,1451.1 512.3,1451.1 515.3,1451.1 518.4,1451.1 521.4,1451.0 524.4,1451.0 527.4,1451.0 530.4,1451.0 533.4,1451.0 536.4,1451.0 539.4,1451.0 542.4,1451.0 545.4,1451.0 548.4,1451.0 551.4,1451.0 554.4,1451.0 557.4,1451.0 560.4,1451.0 563.4,1451.0 566.4,1451.0 569.4,1451.0 572.4,1451.0 575.4,1451.0 578.4,1450.9 581.4,1450.9 584.4,1450.9 587.4,1450.9 590.4,1450.9 593.4,1450.9 596.4,1450.9 599.4,1450.9 602.4,1450.9 605.4,1450.9 608.4,1450.9 611.4,1450.9 614.4,1450.9 617.4,1450.8 620.4,1450.8 623.4,1450.8 626.5,1450.8 629.5,1450.8 632.5,1450.8 635.5,1450.8 638.5,1450.8 641.5,1450.8 644.5,1450.8 647.5,1450.7 650.5,1450.7 653.5,1450.7 656.5,1450.7 659.5,1450.7 662.5,1450.7 665.5,1450.7 668.5,1450.7 671.5,1450.6 674.5,1450.6 677.5,1450.6 680.5,1450.6 683.5,1450.6 686.5,1450.6 689.5,1450.6 692.5,1450.6 695.5,1450.5 698.5,1450.5 701.5,1450.5 704.5,1450.5 707.5,1450.5 710.5,1450.5 713.5,1450.4 716.5,1450.4 719.5,1450.4 722.5,1450.4 725.5,1450.4 728.5,1450.4 731.6,1450.3 734.6,1450.3 737.6,1450.3 740.6,1450.3 743.6,1450.3 746.6,1450.2 749.6,1450.2 752.6,1450.2 755.6,1450.2 758.6,1450.2 761.6,1450.1 764.6,1450.1 767.6,1450.1 770.6,1450.1 773.6,1450.0 776.6,1450.0 779.6,1450.0 782.6,1450.0 785.6,1449.9 788.6,1449.9 791.6,1449.9 794.6,1449.9 797.6,1449.8 800.6,1449.8 803.6,1449.8 806.6,1449.8 809.6,1449.7 812.6,1449.7 815.6,1449.7 818.6,1449.6 821.6,1449.6 824.6,1449.6 827.6,1449.5 830.6,1449.5 833.6,1449.5 836.6,1449.4 839.7,1449.4 842.7,1449.4 845.7,1449.3 848.7,1449.3 851.7,1449.3 854.7,1449.2 857.7,1449.2 860.7,1449.1 863.7,1449.1 866.7,1449.1 869.7,1449.0 872.7,1449.0 875.7,1448.9 878.7,1448.9 881.7,1448.9 884.7,1448.8 887.7,1448.8 890.7,1448.7 893.7,1448.7 896.7,1448.6 899.7,1448.6 902.7,1448.5 905.7,1448.5 908.7,1448.4 911.7,1448.4 914.7,1448.3 917.7,1448.3 920.7,1448.2 923.7,1448.1 926.7,1448.1 929.7,1448.0 932.7,1448.0 935.7,1447.9 938.7,1447.9 941.7,1447.8 944.8,1447.7 947.8,1447.7 950.8,1447.6 953.8,1447.5 956.8,1447.5 959.8,1447.4 962.8,1447.3 965.8,1447.2 968.8,1447.2 971.8,1447.1 974.8,1447.0 977.8,1446.9 980.8,1446.9 983.8,1446.8 986.8,1446.7 989.8,1446.6 992.8,1446.5 995.8,1446.4 998.8,1446.3 1001.8,1446.2 1004.8,1446.2 1007.8,1446.1 1010.8,1446.0 1013.8,1445.9 1016.8,1445.8 1019.8,1445.7 1022.8,1445.6 1025.8,1445.4 1028.8,1445.3 1031.8,1445.2 1034.8,1445.1 1037.8,1445.0 1040.8,1444.9 1043.8,1444.8 1046.8,1444.6 1049.9,1444.5 1052.9,1444.4 1055.9,1444.2 1058.9,1444.1 1061.9,1444.0 1064.9,1443.8 1067.9,1443.7 1070.9,1443.5 1073.9,1443.4 1076.9,1443.2 1079.9,1443.1 1082.9,1442.9 1085.9,1442.8 1088.9,1442.6 1091.9,1442.4 1094.9,1442.3 1097.9,1442.1 1100.9,1441.9 1103.9,1441.7 1106.9,1441.5 1109.9,1441.3 1112.9,1441.1 1115.9,1440.9 1118.9,1440.7 1121.9,1440.5 1124.9,1440.3 1127.9,1440.1 1130.9,1439.9 1133.9,1439.6 1136.9,1439.4 1139.9,1439.2 1142.9,1438.9 1145.9,1438.6 1148.9,1438.4 1151.9,1438.1 1154.9,1437.9 1158.0,1437.6 1161.0,1437.3 1164.0,1437.0 1167.0,1436.7 1170.0,1436.4 1173.0,1436.1 1176.0,1435.8 1179.0,1435.4 1182.0,1435.1 1185.0,1434.7 1188.0,1434.4 1191.0,1434.0 1194.0,1433.7 1197.0,1433.3 1200.0,1432.9 1203.0,1432.5 1206.0,1432.1 1209.0,1431.7 1212.0,1431.2 1215.0,1430.8 1218.0,1430.3 1221.0,1429.9 1224.0,1429.4 1227.0,1428.9 1230.0,1428.4 1233.0,1427.9 1236.0,1427.4 1239.0,1426.8 1242.0,1426.3 1245.0,1425.7 1248.0,1425.1 1251.0,1424.5 1254.0,1423.9 1257.0,1423.3 1260.0,1422.6 1263.1,1422.0 1266.1,1421.3 1269.1,1420.6 1272.1,1419.9 1275.1,1419.2 1278.1,1418.4 1281.1,1417.7 1284.1,1416.9 1287.1,1416.1 1290.1,1415.2 1293.1,1414.4 1296.1,1413.5 1299.1,1412.7 1302.1,1411.8 1305.1,1410.9 1308.1,1409.9 1311.1,1409.0 1314.1,1408.0 1317.1,1407.0 1320.1,1406.0 1323.1,1404.9 1326.1,1403.9 1329.1,1402.8 1332.1,1401.7 1335.1,1400.6 1338.1,1399.5 1341.1,1398.3 1344.1,1397.2 1347.1,1396.0 1350.1,1394.8 1353.1,1393.6 1356.1,1392.4 1359.1,1391.2 1362.1,1390.0 1365.1,1388.7 1368.1,1387.5 1371.2,1386.3 1374.2,1385.1 1377.2,1383.8 1380.2,1382.6 1383.2,1381.4 1386.2,1380.3 1389.2,1379.1 1392.2,1378.0 1395.2,1376.8 1398.2,1375.8 1401.2,1374.7 1404.2,1373.7 1407.2,1372.7 1410.2,1371.8 1413.2,1370.9 1416.2,1370.1 1419.2,1369.3 1422.2,1368.6 1425.2,1368.0 1428.2,1367.4 1431.2,1366.9 1434.2,1366.4 1437.2,1366.1 1440.2,1365.8 1443.2,1365.6 1446.2,1365.5 1449.2,1365.4 1452.2,1365.4 1455.2,1365.5 1458.2,1365.7 1461.2,1366.0 1464.2,1366.3 1467.2,1366.8 1470.2,1367.2 1473.2,1367.8 1476.3,1368.4 1479.3,1369.1 1482.3,1369.9 1485.3,1370.7 1488.3,1371.6 1491.3,1372.5 1494.3,1373.5 1497.3,1374.5 1500.3,1375.5 1503.3,1376.6 1506.3,1377.7 1509.3,1378.9 1512.3,1380.0 1515.3,1381.2 1518.3,1382.4 1521.3,1383.7 1524.3,1384.9 1527.3,1386.1 1530.3,1387.4 1533.3,1388.6 1536.3,1389.9 1539.3,1391.1 1542.3,1392.3 1545.3,1393.6 1548.3,1394.8 1551.3,1396.0 1554.3,1397.2 1557.3,1398.4 1560.3,1399.5 1563.3,1400.7 1566.3,1401.8 1569.3,1403.0 1572.3,1404.1 1575.3,1405.1 1578.3,1406.2 1581.4,1407.3 1584.4,1408.3 1587.4,1409.3 1590.4,1410.3 1593.4,1411.2 1596.4,1412.2 1599.4,1413.1 1602.4,1414.0 1605.4,1414.9 1608.4,1415.8 1611.4,1416.6 1614.4,1417.5 1617.4,1418.3 1620.4,1419.1 1623.4,1419.8 1626.4,1420.6 1629.4,1421.3 1632.4,1422.1 1635.4,1422.8 1638.4,1423.5 1641.4,1424.1 1644.4,1424.8 1647.4,1425.4 1650.4,1426.0 1653.4,1426.6 1656.4,1427.2 1659.4,1427.8 1662.4,1428.4 1665.4,1428.9 1668.4,1429.5 1671.4,1430.0 1674.4,1430.5 1677.4,1431.0 1680.4,1431.5 1683.4,1432.0 1686.4,1432.4 1689.5,1432.9 1692.5,1433.3 1695.5,1433.8 1698.5,1434.2 1701.5,1434.6 1704.5,1435.0 1707.5,1435.4 1710.5,1435.8 1713.5,1436.2 1716.5,1436.5 1719.5,1436.9 1722.5,1437.3 1725.5,1437.6 1728.5,1437.9 1731.5,1438.3 1734.5,1438.6 1737.5,1438.9 1740.5,1439.2 1743.5,1439.5 1746.5,1439.8 1749.5,1440.1 1752.5,1440.4 1755.5,1440.6 1758.5,1440.9 1761.5,1441.2 1764.5,1441.4 1767.5,1441.7 1770.5,1441.9 1773.5,1442.2 1776.5,1442.4 1779.5,1442.6 1782.5,1442.9 1785.5,1443.1 1788.5,1443.3 1791.5,1443.5 1794.6,1443.7 1797.6,1443.9 1800.6,1444.1 1803.6,1444.3 1806.6,1444.5 1809.6,1444.7 1812.6,1444.9 1815.6,1445.1 1818.6,1445.3 1821.6,1445.4 1824.6,1445.6 1827.6,1445.8 1830.6,1445.9 1833.6,1446.1 1836.6,1446.3 1839.6,1446.4 1842.6,1446.6 1845.6,1446.7 1848.6,1446.9 1851.6,1447.0 1854.6,1447.2 1857.6,1447.3 1860.6,1447.4 1863.6,1447.6 1866.6,1447.7 1869.6,1447.8 1872.6,1448.0 1875.6,1448.1 1878.6,1448.2 1881.6,1448.3 1884.6,1448.5 1887.6,1448.6 1890.6,1448.7 1893.6,1448.8 1896.6,1448.9 1899.6,1449.0 1902.7,1449.2 1905.7,1449.3 1908.7,1449.4 1911.7,1449.5 1914.7,1449.6 1917.7,1449.7 1920.7,1449.8 1923.7,1449.9 1926.7,1450.0 1929.7,1450.1 1932.7,1450.2 1935.7,1450.2 1938.7,1450.3 1941.7,1450.4 1944.7,1450.5 1947.7,1450.6 1950.7,1450.7 1953.7,1450.8 1956.7,1450.9 1959.7,1450.9 1962.7,1451.0 1965.7,1451.1 1968.7,1451.2 1971.7,1451.3 1974.7,1451.3 1977.7,1451.4 1980.7,1451.5 1983.7,1451.6 1986.7,1451.6 1989.7,1451.7 1992.7,1451.8 1995.7,1451.8 1998.7,1451.9 2001.7,1452.0 2004.7,1452.0 2007.8,1452.1 2010.8,1452.2 2013.8,1452.2 2016.8,1452.3 2019.8,1452.4 2022.8,1452.4 2025.8,1452.5 2028.8,1452.5 2031.8,1452.6 2034.8,1452.7 2037.8,1452.7 2040.8,1452.8 2043.8,1452.8 2046.8,1452.9 2049.8,1452.9 2052.8,1453.0 2055.8,1453.1 2058.8,1453.1 2061.8,1453.2 2064.8,1453.2 2067.8,1453.3 2070.8,1453.3 2073.8,1453.4 2076.8,1453.4 2079.8,1453.5 2082.8,1453.5 2085.8,1453.6 2088.8,1453.6 2091.8,1453.7 2094.8,1453.7 2097.8,1453.8 2100.8,1453.8 2103.8,1453.9 2106.8,1453.9 2109.8,1453.9 2112.9,1454.0 2115.9,1454.0 2118.9,1454.1 2121.9,1454.1 2124.9,1454.2 2127.9,1454.2 2130.9,1454.2 2133.9,1454.3 2136.9,1454.3 2139.9,1454.4 2142.9,1454.4 2145.9,1454.4 2148.9,1454.5 2151.9,1454.5 2154.9,1454.6 2157.9,1454.6 2160.9,1454.6 2163.9,1454.7 2166.9,1454.7 2169.9,1454.7 2172.9,1454.8 2175.9,1454.8 2178.9,1454.9 2181.9,1454.9 2184.9,1454.9 2187.9,1455.0 2190.9,1455.0 2193.9,1455.0 2196.9,1455.1 2199.9,1455.1 2202.9,1455.1 2205.9,1455.2 2208.9,1455.2 2211.9,1455.2 2214.9,1455.3 2217.9,1455.3 2221.0,1455.3 2224.0,1455.4 2227.0,1455.4 2230.0,1455.4 2233.0,1455.5 2236.0,1455.5 2239.0,1455.5 2242.0,1455.5 2245.0,1455.6 2248.0,1455.6 2251.0,1455.6 2254.0,1455.7 2257.0,1455.7 2260.0,1455.7 2263.0,1455.8 2266.0,1455.8 2269.0,1455.8 2272.0,1455.8" fill="none" stroke="#0000ff" stroke-width="11.5" stroke-linejoin="round"/>
<path d="M146.0,1452.5 149.0,1452.5 152.0,1452.5 155.0,1452.5 158.0,1452.5 161.0,1452.5 164.0,1452.6 167.0,1452.6 170.0,1452.6 173.0,1452.6 176.0,1452.6 179.0,1452.6 182.0,1452.6 185.0,1452.6 188.0,1452.6 191.0,1452.6 194.0,1452.6 197.0,1452.7 200.1,1452.7 203.1,1452.7 206.1,1452.7 209.1,1452.7 212.1,1452.7 215.1,1452.7 218.1,1452.7 221.1,1452.7 224.1,1452.7 227.1,1452.7 230.1,1452.8 233.1,1452.8 236.1,1452.8 239.1,1452.8 242.1,1452.8 245.1,1452.8 248.1,1452.8 251.1,1452.8 254.1,1452.8 257.1,1452.8 260.1,1452.8 263.1,1452.9 266.1,1452.9 269.1,1452.9 272.1,1452.9 275.1,1452.9 278.1,1452.9 281.1,1452.9 284.1,1452.9 287.1,1452.9 290.1,1452.9 293.1,1452.9 296.1,1453.0 299.1,1453.0 302.1,1453.0 305.1,1453.0 308.2,1453.0 311.2,1453.0 314.2,1453.0 317.2,1453.0 320.2,1453.0 323.2,1453.0 326.2,1453.1 329.2,1453.1 332.2,1453.1 335.2,1453.1 338.2,1453.1 341.2,1453.1 344.2,1453.1 347.2,1453.1 350.2,1453.1 353.2,1453.1 356.2,1453.1 359.2,1453.2 362.2,1453.2 365.2,1453.2 368.2,1453.2 371.2,1453.2 374.2,1453.2 377.2,1453.2 380.2,1453.2 383.2,1453.2 386.2,1453.2 389.2,1453.2 392.2,1453.3 395.2,1453.3 398.2,1453.3 401.2,1453.3 404.2,1453.3 407.2,1453.3 410.2,1453.3 413.3,1453.3 416.3,1453.3 419.3,1453.3 422.3,1453.3 425.3,1453.4 428.3,1453.4 431.3,1453.4 434.3,1453.4 437.3,1453.4 440.3,1453.4 443.3,1453.4 446.3,1453.4 449.3,1453.4 452.3,1453.4 455.3,1453.4 458.3,1453.5 461.3,1453.5 464.3,1453.5 467.3,1453.5 470.3,1453.5 473.3,1453.5 476.3,1453.5 479.3,1453.5 482.3,1453.5 485.3,1453.5 488.3,1453.5 491.3,1453.6 494.3,1453.6 497.3,1453.6 500.3,1453.6 503.3,1453.6 506.3,1453.6 509.3,1453.6 512.3,1453.6 515.3,1453.6 518.4,1453.6 521.4,1453.6 524.4,1453.7 527.4,1453.7 530.4,1453.7 533.4,1453.7 536.4,1453.7 539.4,1453.7 542.4,1453.7 545.4,1453.7 548.4,1453.7 551.4,1453.7 554.4,1453.7 557.4,1453.8 560.4,1453.8 563.4,1453.8 566.4,1453.8 569.4,1453.8 572.4,1453.8 575.4,1453.8 578.4,1453.8 581.4,1453.8 584.4,1453.8 587.4,1453.8 590.4,1453.9 593.4,1453.9 596.4,1453.9 599.4,1453.9 602.4,1453.9 605.4,1453.9 608.4,1453.9 611.4,1453.9 614.4,1453.9 617.4,1453.9 620.4,1454.0 623.4,1454.0 626.5,1454.0 629.5,1454.0 632.5,1454.0 635.5,1454.0 638.5,1454.0 641.5,1454.0 644.5,1454.0 647.5,1454.0 650.5,1454.0 653.5,1454.1 656.5,1454.1 659.5,1454.1 662.5,1454.1 665.5,1454.1 668.5,1454.1 671.5,1454.1 674.5,1454.1 677.5,1454.1 680.5,1454.1 683.5,1454.1 686.5,1454.2 689.5,1454.2 692.5,1454.2 695.5,1454.2 698.5,1454.2 701.5,1454.2 704.5,1454.2 707.5,1454.2 710.5,1454.2 713.5,1454.2 716.5,1454.2 719.5,1454.3 722.5,1454.3 725.5,1454.3 728.5,1454.3 731.6,1454.3 734.6,1454.3 737.6,1454.3 740.6,1454.3 743.6,1454.3 746.6,1454.3 749.6,1454.3 752.6,1454.4 755.6,1454.4 758.6,1454.4 761.6,1454.4 764.6,1454.4 767.6,1454.4 770.6,1454.4 773.6,1454.4 776.6,1454.4 779.6,1454.4 782.6,1454.4 785.6,1454.5 788.6,1454.5 791.6,1454.5 794.6,1454.5 797.6,1454.5 800.6,1454.5 803.6,1454.5 806.6,1454.5 809.6,1454.5 812.6,1454.5 815.6,1454.5 818.6,1454.6 821.6,1454.6 824.6,1454.6 827.6,1454.6 830.6,1454.6 833.6,1454.6 836.6,1454.6 839.7,1454.6 842.7,1454.6 845.7,1454.6 848.7,1454.6 851.7,1454.7 854.7,1454.7 857.7,1454.7 860.7,1454.7 863.7,1454.7 866.7,1454.7 869.7,1454.7 872.7,1454.7 875.7,1454.7 878.7,1454.7 881.7,1454.7 884.7,1454.8 887.7,1454.8 890.7,1454.8 893.7,1454.8 896.7,1454.8 899.7,1454.8 902.7,1454.8 905.7,1454.8 908.7,1454.8 911.7,1454.8 914.7,1454.9 917.7,1454.9 920.7,1454.9 923.7,1454.9 926.7,1454.9 929.7,1454.9 932.7,1454.9 935.7,1454.9 938.7,1454.9 941.7,1454.9 944.8,1454.9 947.8,1455.0 950.8,1455.0 953.8,1455.0 956.8,1455.0 959.8,1455.0 962.8,1455.0 965.8,1455.0 968.8,1455.0 971.8,1455.0 974.8,1455.0 977.8,1455.0 980.8,1455.1 983.8,1455.1 986.8,1455.1 989.8,1455.1 992.8,1455.1 995.8,1455.1 998.8,1455.1 1001.8,1455.1 1004.8,1455.1 1007.8,1455.1 1010.8,1455.1 1013.8,1455.2 1016.8,1455.2 1019.8,1455.2 1022.8,1455.2 1025.8,1455.2 1028.8,1455.2 1031.8,1455.2 1034.8,1455.2 1037.8,1455.2 1040.8,1455.2 1043.8,1455.2 1046.8,1455.3 1049.9,1455.3 1052.9,1455.3 1055.9,1455.3 1058.9,1455.3 1061.9,1455.3 1064.9,1455.3 1067.9,1455.3 1070.9,1455.3 1073.9,1455.3 1076.9,1455.3 1079.9,1455.3 1082.9,1455.4 1085.9,1455.4 1088.9,1455.4 1091.9,1455.4 1094.9,1455.4 1097.9,1455.4 1100.9,1455.4 1103.9,1455.4 1106.9,1455.4 1109.9,1455.4 1112.9,1455.4 1115.9,1455.4 1118.9,1455.4 1121.9,1455.3 1124.9,1455.3 1127.9,1455.3 1130.9,1455.3 1133.9,1455.2 1136.9,1455.2 1139.9,1455.1 1142.9,1455.1 1145.9,1455.0 1148.9,1454.9 1151.9,1454.8 1154.9,1454.7 1158.0,1454.5 1161.0,1454.3 1164.0,1454.1 1167.0,1453.9 1170.0,1453.7 1173.0,1453.4 1176.0,1453.0 1179.0,1452.6 1182.0,1452.2 1185.0,1451.7 1188.0,1451.2 1191.0,1450.6 1194.0,1450.0 1197.0,1449.2 1200.0,1448.4 1203.0,1447.5 1206.0,1446.6 1209.0,1445.5 1212.0,1444.3 1215.0,1443.1 1218.0,1441.7 1221.0,1440.3 1224.0,1438.7 1227.0,1437.0 1230.0,1435.2 1233.0,1433.4 1236.0,1431.3 1239.0,1429.2 1242.0,1427.0 1245.0,1424.7 1248.0,1422.3 1251.0,1419.7 1254.0,1417.1 1257.0,1414.5 1260.0,1411.7 1263.1,1408.9 1266.1,1406.1 1269.1,1403.2 1272.1,1400.3 1275.1,1397.4 1278.1,1394.5 1281.1,1391.7 1284.1,1388.9 1287.1,1386.2 1290.1,1383.5 1293.1,1381.0 1296.1,1378.6 1299.1,1376.3 1302.1,1374.2 1305.1,1372.2 1308.1,1370.4 1311.1,1368.8 1314.1,1367.5 1317.1,1366.3 1320.1,1365.4 1323.1,1364.7 1326.1,1364.3 1329.1,1364.1 1332.1,1364.2 1335.1,1364.4 1338.1,1364.9 1341.1,1365.6 1344.1,1366.6 1347.1,1367.7 1350.1,1369.0 1353.1,1370.5 1356.1,1372.2 1359.1,1374.1 1362.1,1376.1 1365.1,1378.2 1368.1,1380.5 1371.2,1382.9 1374.2,1385.4 1377.2,1387.9 1380.2,1390.5 1383.2,1393.2 1386.2,1395.9 1389.2,1398.7 1392.2,1401.4 1395.2,1404.2 1398.2,1406.9 1401.2,1409.6 1404.2,1412.3 1407.2,1414.9 1410.2,1417.4 1413.2,1419.9 1416.2,1422.3 1419.2,1424.6 1422.2,1426.9 1425.2,1429.0 1428.2,1431.1 1431.2,1433.0 1434.2,1434.9 1437.2,1436.7 1440.2,1438.3 1443.2,1439.9 1446.2,1441.4 1449.2,1442.7 1452.2,1444.0 1455.2,1445.2 1458.2,1446.3 1461.2,1447.3 1464.2,1448.3 1467.2,1449.1 1470.2,1449.9 1473.2,1450.6 1476.3,1451.3 1479.3,1451.9 1482.3,1452.4 1485.3,1452.9 1488.3,1453.4 1491.3,1453.8 1494.3,1454.1 1497.3,1454.4 1500.3,1454.7 1503.3,1455.0 1506.3,1455.2 1509.3,1455.4 1512.3,1455.6 1515.3,1455.8 1518.3,1455.9 1521.3,1456.0 1524.3,1456.1 1527.3,1456.2 1530.3,1456.3 1533.3,1456.4 1536.3,1456.4 1539.3,1456.5 1542.3,1456.5 1545.3,1456.6 1548.3,1456.6 1551.3,1456.7 1554.3,1456.7 1557.3,1456.7 1560.3,1456.7 1563.3,1456.8 1566.3,1456.8 1569.3,1456.8 1572.3,1456.8 1575.3,1456.8 1578.3,1456.9 1581.4,1456.9 1584.4,1456.9 1587.4,1456.9 1590.4,1456.9 1593.4,1456.9 1596.4,1456.9 1599.4,1456.9 1602.4,1456.9 1605.4,1457.0 1608.4,1457.0 1611.4,1457.0 1614.4,1457.0 1617.4,1457.0 1620.4,1457.0 1623.4,1457.0 1626.4,1457.0 1629.4,1457.0 1632.4,1457.0 1635.4,1457.1 1638.4,1457.1 1641.4,1457.1 1644.4,1457.1 1647.4,1457.1 1650.4,1457.1 1653.4,1457.1 1656.4,1457.1 1659.4,1457.1 1662.4,1457.1 1665.4,1457.1 1668.4,1457.2 1671.4,1457.2 1674.4,1457.2 1677.4,1457.2 1680.4,1457.2 1683.4,1457.2 1686.4,1457.2 1689.5,1457.2 1692.5,1457.2 1695.5,1457.2 1698.5,1457.2 1701.5,1457.3 1704.5,1457.3 1707.5,1457.3 1710.5,1457.3 1713.5,1457.3 1716.5,1457.3 1719.5,1457.3 1722.5,1457.3 1725.5,1457.3 1728.5,1457.3 1731.5,1457.3 1734.5,1457.4 1737.5,1457.4 1740.5,1457.4 1743.5,1457.4 1746.5,1457.4 1749.5,1457.4 1752.5,1457.4 1755.5,1457.4 1758.5,1457.4 1761.5,1457.4 1764.5,1457.4 1767.5,1457.5 1770.5,1457.5 1773.5,1457.5 1776.5,1457.5 1779.5,1457.5 1782.5,1457.5 1785.5,1457.5 1788.5,1457.5 1791.5,1457.5 1794.6,1457.5 1797.6,1457.5 1800.6,1457.6 1803.6,1457.6 1806.6,1457.6 1809.6,1457.6 1812.6,1457.6 1815.6,1457.6 1818.6,1457.6 1821.6,1457.6 1824.6,1457.6 1827.6,1457.6 1830.6,1457.7 1833.6,1457.7 1836.6,1457.7 1839.6,1457.7 1842.6,1457.7 1845.6,1457.7 1848.6,1457.7 1851.6,1457.7 1854.6,1457.7 1857.6,1457.7 1860.6,1457.7 1863.6,1457.8 1866.6,1457.8 1869.6,1457.8 1872.6,1457.8 1875.6,1457.8 1878.6,1457.8 1881.6,1457.8 1884.6,1457.8 1887.6,1457.8 1890.6,1457.8 1893.6,1457.8 1896.6,1457.9 1899.6,1457.9 1902.7,1457.9 1905.7,1457.9 1908.7,1457.9 1911.7,1457.9 1914.7,1457.9 1917.7,1457.9 1920.7,1457.9 1923.7,1457.9 1926.7,1457.9 1929.7,1458.0 1932.7,1458.0 1935.7,1458.0 1938.7,1458.0 1941.7,1458.0 1944.7,1458.0 1947.7,1458.0 1950.7,1458.0 1953.7,1458.0 1956.7,1458.0 1959.7,1458.0 1962.7,1458.1 1965.7,1458.1 1968.7,1458.1 1971.7,1458.1 1974.7,1458.1 1977.7,1458.1 1980.7,1458.1 1983.7,1458.1 1986.7,1458.1 1989.7,1458.1 1992.7,1458.1 1995.7,1458.2 1998.7,1458.2 2001.7,1458.2 2004.7,1458.2 2007.8,1458.2 2010.8,1458.2 2013.8,1458.2 2016.8,1458.2 2019.8,1458.2 2022.8,1458.2 2025.8,1458.2 2028.8,1458.3 2031.8,1458.3 2034.8,1458.3 2037.8,1458.3 2040.8,1458.3 2043.8,1458.3 2046.8,1458.3 2049.8,1458.3 2052.8,1458.3 2055.8,1458.3 2058.8,1458.3 2061.8,1458.4 2064.8,1458.4 2067.8,1458.4 2070.8,1458.4 2073.8,1458.4 2076.8,1458.4 2079.8,1458.4 2082.8,1458.4 2085.8,1458.4 2088.8,1458.4 2091.8,1458.4 2094.8,1458.5 2097.8,1458.5 2100.8,1458.5 2103.8,1458.5 2106.8,1458.5 2109.8,1458.5 2112.9,1458.5 2115.9,1458.5 2118.9,1458.5 2121.9,1458.5 2124.9,1458.6 2127.9,1458.6 2130.9,1458.6 2133.9,1458.6 2136.9,1458.6 2139.9,1458.6 2142.9,1458.6 2145.9,1458.6 2148.9,1458.6 2151.9,1458.6 2154.9,1458.6 2157.9,1458.7 2160.9,1458.7 2163.9,1458.7 2166.9,1458.7 2169.9,1458.7 2172.9,1458.7 2175.9,1458.7 2178.9,1458.7 2181.9,1458.7 2184.9,1458.7 2187.9,1458.7 2190.9,1458.8 2193.9,1458.8 2196.9,1458.8 2199.9,1458.8 2202.9,1458.8 2205.9,1458.8 2208.9,1458.8 2211.9,1458.8 2214.9,1458.8 2217.9,1458.8 2221.0,1458.8 2224.0,1458.9 2227.0,1458.9 2230.0,1458.9 2233.0,1458.9 2236.0,1458.9 2239.0,1458.9 2242.0,1458.9 2245.0,1458.9 2248.0,1458.9 2251.0,1458.9 2254.0,1458.9 2257.0,1459.0 2260.0,1459.0 2263.0,1459.0 2266.0,1459.0 2269.0,1459.0 2272.0,1459.0" fill="none" stroke="#ff00ff" stroke-width="11.5" stroke-linejoin="round"/>
</g>
<rect x="147.0" y="52.0" width="2125.0" height="1486.0" fill="none" stroke="#000" stroke-width="5.6"/>
<path d="M2272.0 1538.0V1565.3M2120.2 1538.0V1551.8M1968.4 1538.0V1565.3M1816.6 1538.0V1551.8M1664.9 1538.0V1565.3M1513.1 1538.0V1551.8M1361.3 1538.0V1565.3M1209.5 1538.0V1551.8M1057.7 1538.0V1565.3M905.9 1538.0V1551.8M754.1 1538.0V1565.3M602.4 1538.0V1551.8M450.6 1538.0V1565.3M298.8 1538.0V1551.8M147.0 1538.0V1565.3" stroke="#000" stroke-width="5.6" stroke-linecap="round" fill="none"/>
<text x="2272.0" y="1642" text-anchor="middle" style="font-family:&quot;Liberation Serif&quot;,&quot;Times New Roman&quot;,serif;font-weight:bold;font-kerning:none;font-size:76.5px">362</text>
<text x="1968.4" y="1642" text-anchor="middle" style="font-family:&quot;Liberation Serif&quot;,&quot;Times New Roman&quot;,serif;font-weight:bold;font-kerning:none;font-size:76.5px">364</text>
<text x="1664.9" y="1642" text-anchor="middle" style="font-family:&quot;Liberation Serif&quot;,&quot;Times New Roman&quot;,serif;font-weight:bold;font-kerning:none;font-size:76.5px">366</text>
<text x="1361.3" y="1642" text-anchor="middle" style="font-family:&quot;Liberation Serif&quot;,&quot;Times New Roman&quot;,serif;font-weight:bold;font-kerning:none;font-size:76.5px">368</text>
<text x="1057.7" y="1642" text-anchor="middle" style="font-family:&quot;Liberation Serif&quot;,&quot;Times New Roman&quot;,serif;font-weight:bold;font-kerning:none;font-size:76.5px">370</text>
<text x="754.1" y="1642" text-anchor="middle" style="font-family:&quot;Liberation Serif&quot;,&quot;Times New Roman&quot;,serif;font-weight:bold;font-kerning:none;font-size:76.5px">372</text>
<text x="450.6" y="1642" text-anchor="middle" style="font-family:&quot;Liberation Serif&quot;,&quot;Times New Roman&quot;,serif;font-weight:bold;font-kerning:none;font-size:76.5px">374</text>
<text x="147.0" y="1642" text-anchor="middle" style="font-family:&quot;Liberation Serif&quot;,&quot;Times New Roman&quot;,serif;font-weight:bold;font-kerning:none;font-size:76.5px">376</text>
<text x="909.4" y="1730" style="font-family:&quot;Liberation Serif&quot;,&quot;Times New Roman&quot;,serif;font-weight:bold;font-kerning:none;font-size:87.5px">Binding energy (eV)</text>
<text transform="translate(88,1068) rotate(-90)" style="font-family:&quot;Liberation Serif&quot;,&quot;Times New Roman&quot;,serif;font-weight:bold;font-kerning:none;font-size:87.5px">Intensity (a.u.)</text>
<text x="236.3" y="217.6" style="font-family:&quot;Liberation Serif&quot;,&quot;Times New Roman&quot;,serif;font-weight:bold;font-kerning:none;font-size:80.8px">R-PAgT-3:1</text>
<text x="219.4" y="495.7" style="font-family:&quot;Liberation Serif&quot;,&quot;Times New Roman&quot;,serif;font-weight:bold;font-kerning:none;font-size:80.8px">R-PAgT-5:1</text>
<text x="182.7" y="758.8" style="font-family:&quot;Liberation Serif&quot;,&quot;Times New Roman&quot;,serif;font-weight:bold;font-kerning:none;font-size:80.8px">R-PAgT-7:1</text>
<text x="185.6" y="1026" style="font-family:&quot;Liberation Serif&quot;,&quot;Times New Roman&quot;,serif;font-weight:bold;font-kerning:none;font-size:80.8px">R-PAgT-10:1</text>
<text x="174.5" y="1361.7" style="font-family:&quot;Liberation Serif&quot;,&quot;Times New Roman&quot;,serif;font-weight:bold;font-kerning:none;font-size:80.8px">PAgT</text>
<path d="M1564 143.3H1730" stroke="#ff00ff" stroke-width="11.5" stroke-linecap="round"/>
<path d="M1885 147H2049" stroke="#0000ff" stroke-width="11.5" stroke-linecap="round"/>
<text x="1750" y="170.2" style="font-family:&quot;Liberation Serif&quot;,&quot;Times New Roman&quot;,serif;font-weight:bold;font-kerning:none;font-size:82px">Ag</text>
<text x="1850.2" y="129.6" style="font-family:&quot;Liberation Serif&quot;,&quot;Times New Roman&quot;,serif;font-weight:bold;font-kerning:none;font-size:47.5px">0</text>
<text x="2069" y="172.7" style="font-family:&quot;Liberation Serif&quot;,&quot;Times New Roman&quot;,serif;font-weight:bold;font-kerning:none;font-size:82px">Ag</text>
<text x="2168.3" y="136.4" style="font-family:&quot;Liberation Serif&quot;,serif;font-size:53.7px">+</text>
</svg>
</body></html>
